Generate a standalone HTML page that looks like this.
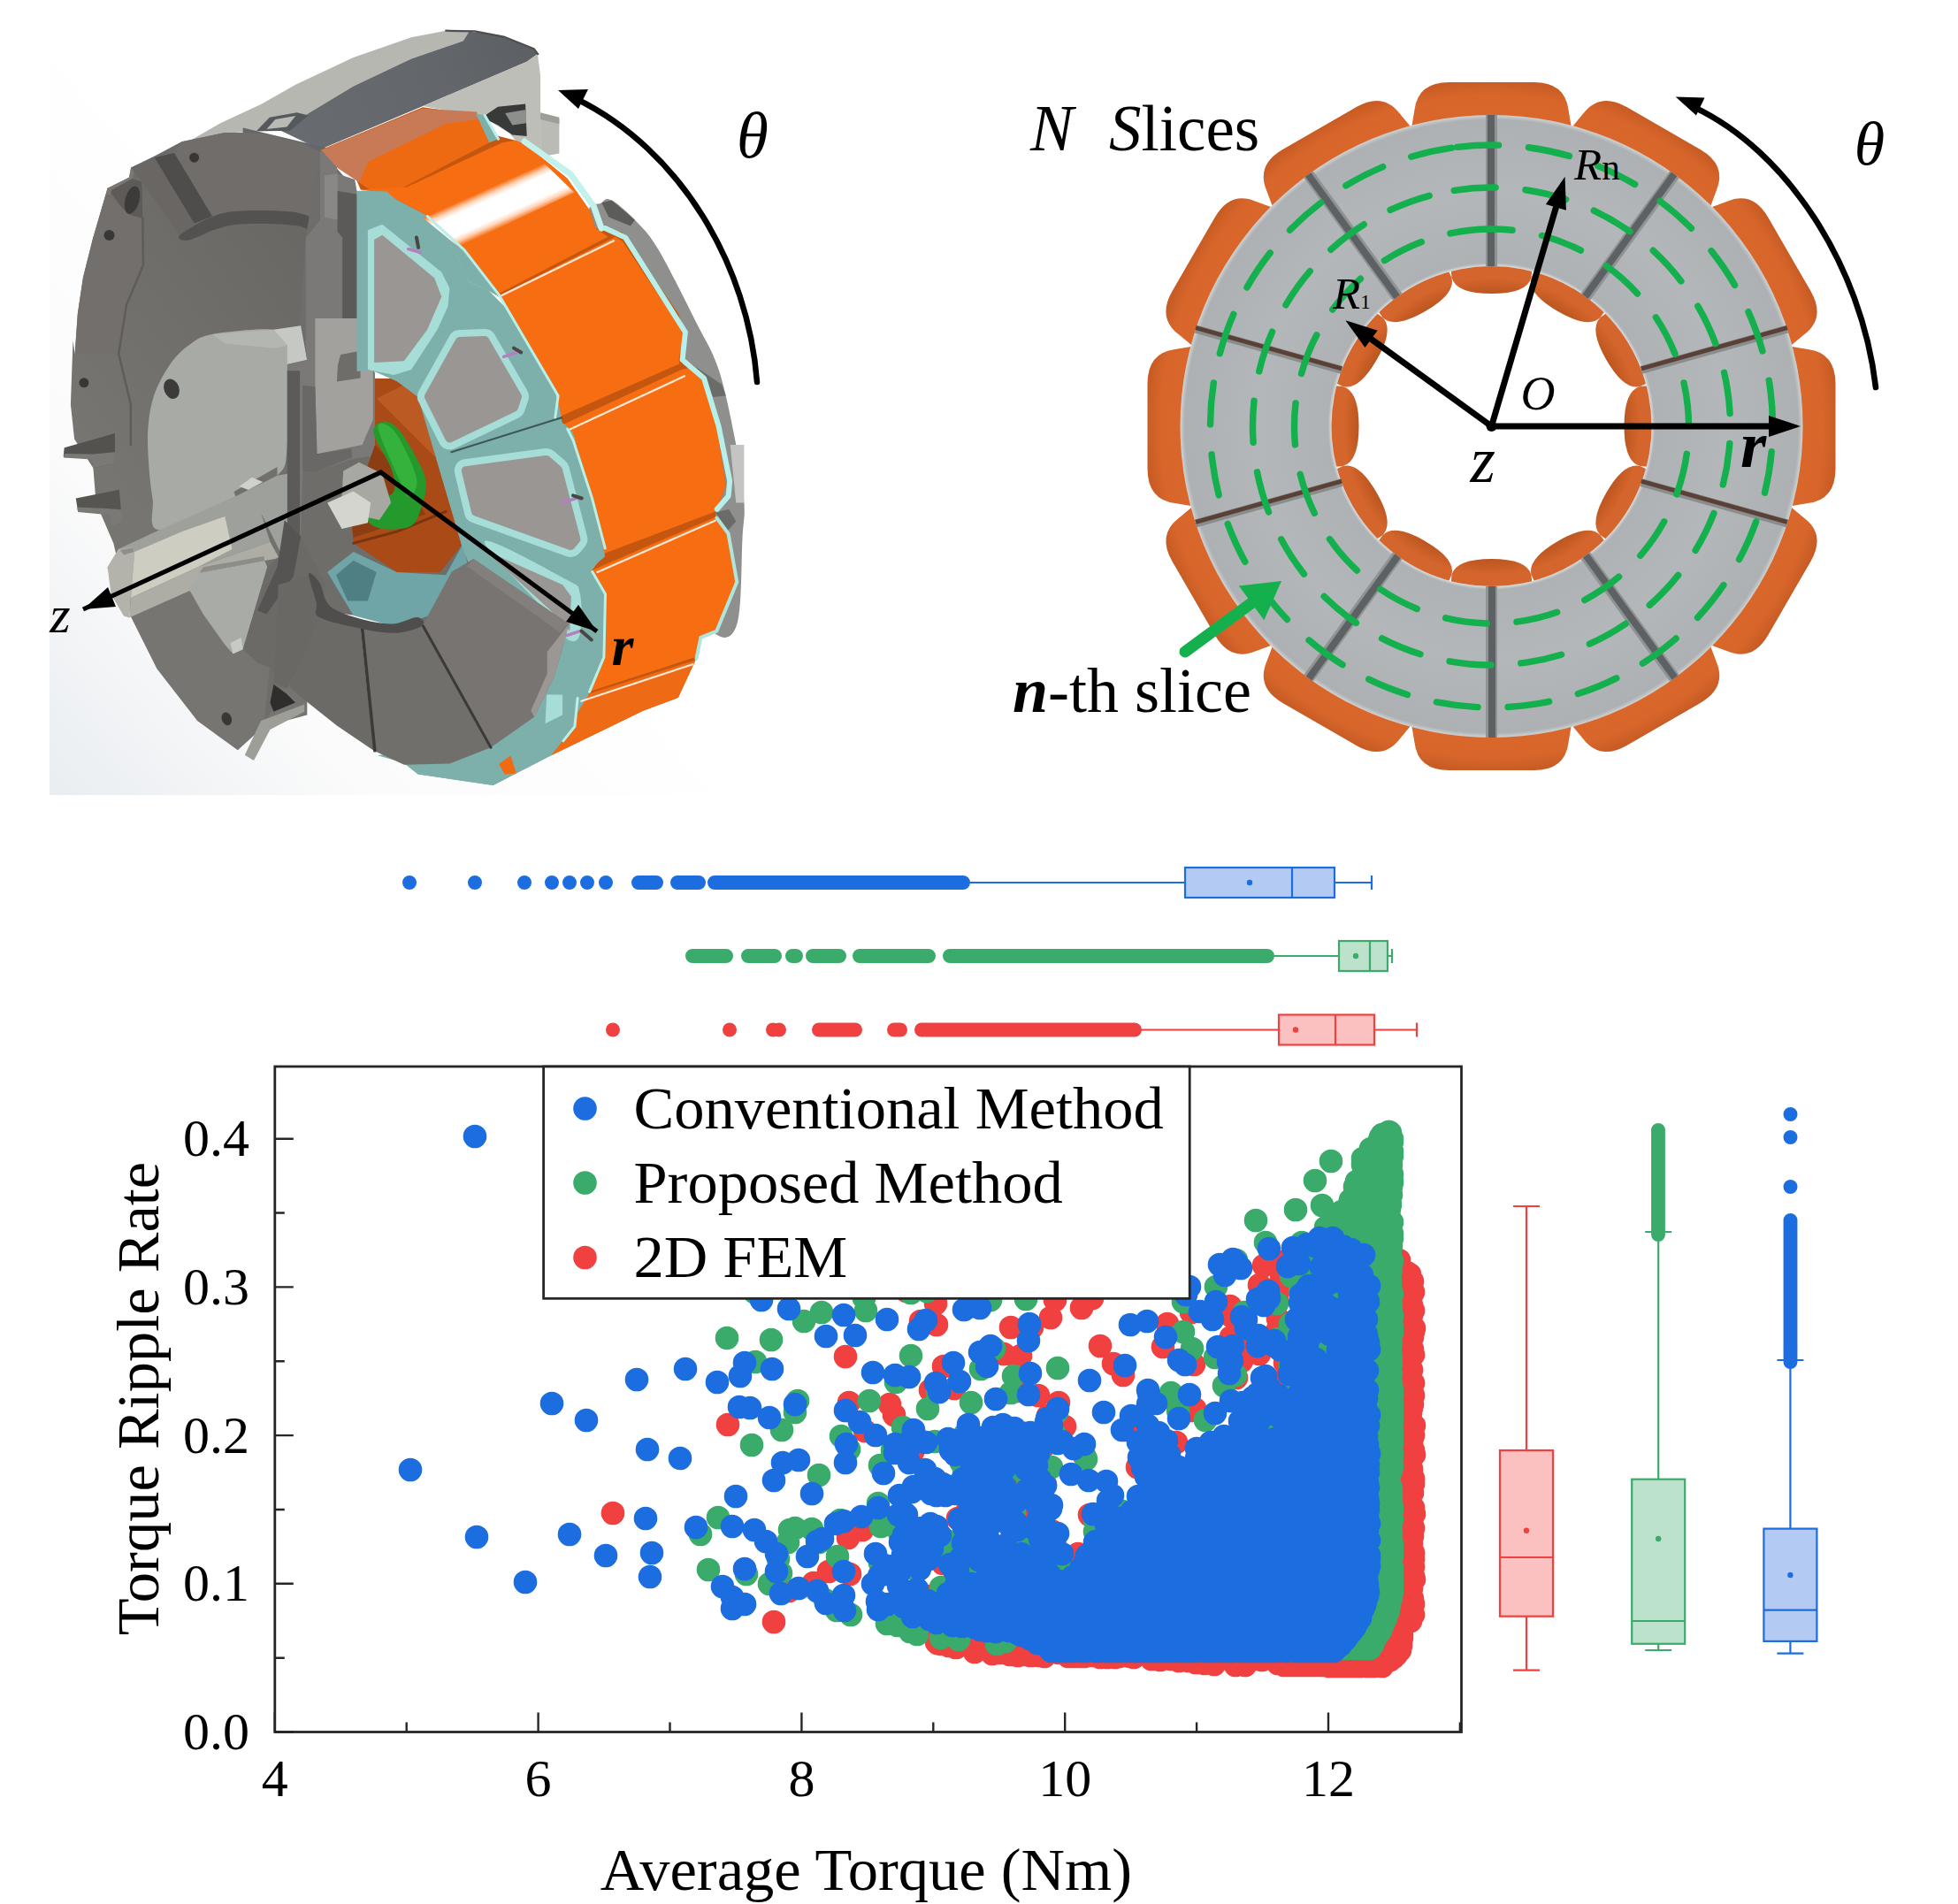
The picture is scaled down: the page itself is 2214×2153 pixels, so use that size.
<!DOCTYPE html>
<html><head><meta charset="utf-8"><title>Figure</title>
<style>
html,body{margin:0;padding:0;background:#fff;}
body{width:2214px;height:2153px;overflow:hidden;font-family:"Liberation Serif",serif;}
svg{display:block}
text{font-family:"Liberation Serif",serif;fill:#000}
.i{font-style:italic}
.bi{font-style:italic;font-weight:bold}
</style></head>
<body>
<svg width="2214" height="2153" viewBox="0 0 2214 2153">
<defs>
<linearGradient id="mbg" x1="56" y1="900" x2="500" y2="500" gradientUnits="userSpaceOnUse"><stop offset="0" stop-color="#e9edf1"/><stop offset="0.45" stop-color="#fbfbfb"/><stop offset="1" stop-color="#ffffff"/></linearGradient>
<linearGradient id="og" x1="0" y1="0" x2="1" y2="0"><stop offset="0" stop-color="#f4690e"/><stop offset="1" stop-color="#fb7a24"/></linearGradient>
<linearGradient id="hl2" gradientUnits="userSpaceOnUse" x1="548.5" y1="214.5" x2="567.6" y2="257"><stop offset="0" stop-color="#f76d12"/><stop offset="0.14" stop-color="#ffd2b5"/><stop offset="0.26" stop-color="#ffffff"/><stop offset="0.74" stop-color="#ffffff"/><stop offset="0.86" stop-color="#ffd2b5"/><stop offset="1" stop-color="#f76d12"/></linearGradient>
<linearGradient id="cas" gradientUnits="userSpaceOnUse" x1="330" y1="150" x2="600" y2="40"><stop offset="0" stop-color="#686c70"/><stop offset="0.6" stop-color="#63676b"/><stop offset="1" stop-color="#5c6064"/></linearGradient>
<linearGradient id="bp" gradientUnits="userSpaceOnUse" x1="90" y1="500" x2="360" y2="300"><stop offset="0" stop-color="#777572"/><stop offset="1" stop-color="#6a6865"/></linearGradient>
<linearGradient id="hub" gradientUnits="userSpaceOnUse" x1="170" y1="560" x2="340" y2="380"><stop offset="0" stop-color="#a9aba6"/><stop offset="1" stop-color="#bcbeb9"/></linearGradient>
</defs>
<g id="motor">
<rect x="56" y="30" width="800" height="869" fill="url(#mbg)"/>
<polygon points="213.3,159.9 249.2,139.3 295.0,118.1 334.2,95.8 399.6,65.1 465.0,42.2 504.2,34.7 530.4,35.7 523.8,46.2 465.0,66.4 399.6,97.5 350.6,126.9 317.9,148.1 268.8,149.8" fill="#b7b7b1" />
<polygon points="317.9,148.1 350.6,126.9 399.6,97.5 465.0,66.4 523.8,46.2 530.4,35.7 563.0,39.6 602.3,54.3 607.8,60.9 595.7,69.7 478.1,120.0 362.0,169.1" fill="url(#cas)" />
<polygon points="290.1,148.1 304.8,132.8 335.8,127.2 348.9,130.5 327.7,148.1" fill="#55595c" />
<polygon points="301.5,145.9 311.3,135.1 334.2,131.1 324.4,143.6" fill="#b9bab4" />
<polygon points="478.1,120.0 595.7,69.7 607.8,60.9 611.1,85.4 611.1,176.9 595.7,173.6 576.1,150.8 550.0,134.4 540.2,131.1" fill="#bebeb8" />
<polyline points="504.2,34.7 536.9,35.4 569.6,41.6 603.9,55.3 608.2,61.2" fill="none" stroke="#4e4f50" stroke-width="2.2" stroke-linecap="round" stroke-linejoin="round" />
<polygon points="545.1,132.8 563.0,120.7 594.1,117.4 595.7,154.0 579.4,152.4 563.0,141.6" fill="#383a3a" />
<polygon points="571.2,127.9 594.8,124.0 595.1,139.3 579.4,141.6" fill="#8d8f8b" />
<polygon points="611.1,129.5 632.4,134.4 632.4,173.6 611.1,177.6" fill="#bbbbb6" />
<polygon points="611.1,127.2 632.4,132.8 632.4,140.3 611.1,135.1" fill="#9d9d99" />
<polygon points="274.7,144.5 368.7,167.0 368.7,179.2 274.7,156.8" fill="#63676b" />
<polygon points="362.6,172.1 340.1,160.9 295.1,150.6 254.3,150.0 205.3,160.2 176.7,175.6 148.1,189.5 146.0,200.7 121.5,213.0 119.5,220.1 105.2,269.1 93.9,314.1 87.8,354.9 84.7,400.1 82.5,385.4 79.9,457.3 84.1,496.5 105.4,529.2 108.6,568.4 128.3,614.2 147.9,697.3 177.3,756.1 223.1,815.0 268.8,848.3 298.3,821.5 347.3,808.4 347.3,614.2 363.6,314.2" fill="url(#bp)" />
<polygon points="129.9,490.0 72.7,506.3 71.7,516.1 103.7,518.1 105.4,529.2 129.9,524.3" fill="#54524f" />
<polygon points="72.7,512.9 71.7,517.5 103.7,519.4 105.4,529.2 129.9,524.3 129.9,511.2 105.4,513.5" fill="#7b7976" />
<polygon points="134.8,553.7 85.8,563.5 88.1,578.3 123.4,581.5 125.6,594.6 138.1,591.3" fill="#575552" />
<polygon points="87.4,573.4 88.1,578.9 123.4,582.2 125.6,595.3 138.1,591.3 138.1,576.6 121.7,575.0" fill="#7b7976" />
<polygon points="119.5,220.1 105.2,269.1 93.9,314.1 87.8,354.9 84.7,400.1 134.2,400.1 143.0,344.7 162.0,299.8 161.3,246.7 146.0,242.6 137.8,234.4" fill="#726f6d" />
<polyline points="161.3,246.7 162.0,299.8 143.0,344.7 134.2,400.1 147.9,457.3 147.9,503.1" fill="none" stroke="#5f5c5a" stroke-width="2.5" stroke-linecap="round" stroke-linejoin="round" />
<polygon points="121.5,213.0 146.0,200.7 160.3,205.8 161.3,246.7 146.0,242.6 137.8,234.4" fill="#5d5a58" />
<ellipse cx="149.5" cy="226.2" rx="8" ry="16" fill="#3d3b3a" transform="rotate(15 149.5 226.2)"/>
<polygon points="119.5,220.1 121.5,213.0 146.0,200.7 148.1,189.5 152.1,190.5 150.1,201.7 126.6,214.4 124.0,221.1" fill="#7a7775" />
<polygon points="197.1,173.1 205.3,160.2 254.3,150.0 295.1,150.6 340.1,160.9 362.6,172.1 362.6,252.8 336.0,240.5 274.7,238.5 240.0,244.6" fill="#706d6b" />
<polygon points="174.6,178.2 197.1,173.1 240.0,244.6 219.6,252.8" fill="#4f4d4b" />
<polygon points="148.1,189.5 174.6,178.2 219.6,252.8 203.2,265.5 160.3,205.8" fill="#696664" />
<path d="M203.2 266.1C207.6 261.6 228.1 249.6 240.0 245.0C251.9 240.4 258.7 239.2 274.7 238.5C290.7 237.7 321.4 238.0 336.0 240.5C350.6 243.1 358.1 249.3 362.6 253.8C367.0 258.3 367.0 267.3 362.6 267.5C358.1 267.7 350.6 257.6 336.0 255.2C321.4 252.9 290.0 252.5 274.7 253.2C259.4 253.9 254.3 256.3 244.1 259.3C233.9 262.4 220.2 270.5 213.4 271.6C206.6 272.7 198.8 270.5 203.2 266.1Z" fill="#545250"  />
<circle cx="219.6" cy="178.2" r="5.5" fill="#393735"/>
<circle cx="123.5" cy="266.1" r="6" fill="#393735"/>
<circle cx="94.9" cy="432.8" r="5.5" fill="#393735"/>
<polygon points="362.0,169.1 403.5,216.1 424.1,427.9 465.0,427.9 530.4,503.1 530.4,646.9 523.8,641.7 478.1,707.8 366.9,690.8 350.6,697.3 321.1,772.5 298.3,821.5 327.7,529.2 345.7,269.1" fill="#6f6d6a" />
<path d="M240.0 378.0C256.0 375.0 295.3 370.6 309.4 372.7C323.6 374.8 322.2 368.9 324.8 390.6C327.3 412.4 326.6 478.5 324.8 503.0C322.9 527.5 323.6 527.9 313.5 537.7C303.5 547.6 286.6 552.0 264.5 562.2C242.4 572.5 196.1 598.7 180.7 599.0C165.4 599.4 174.7 576.9 172.6 564.3C170.5 551.7 168.9 537.1 168.1 523.4C167.2 509.8 166.4 495.5 167.5 482.6C168.6 469.6 170.4 457.7 174.6 445.8C178.9 433.9 186.5 420.3 193.0 411.1C199.5 401.9 205.6 396.2 213.4 390.6C221.3 385.1 224.0 381.0 240.0 378.0Z" fill="#a8aaa5"  />
<polygon points="309.4,372.7 340.1,368.2 347.2,407.0 324.8,412.1 324.8,390.6" fill="#c6c8c3" />
<polygon points="240.0,378.0 309.4,372.7 324.8,390.6 311.5,393.7 254.3,388.6" fill="#b4b6b1" />
<ellipse cx="194.0" cy="439.7" rx="8.5" ry="11.5" fill="#3c3b39" transform="rotate(-20 194.0 439.7)"/>
<polygon points="264.5,556.1 313.5,527.9 313.5,538.1 295.1,550.4 267.0,562.7" fill="#72706d" />
<polygon points="270.6,550.0 284.9,539.8 297.2,544.9 280.8,554.1" fill="#cfd1cc" />
<polygon points="345.7,269.1 362.0,248.8 362.0,169.1 380.0,176.3 381.6,196.5 401.2,203.1 403.5,216.1 403.5,420.1 423.9,421.3 423.9,515.3 397.3,519.3 356.4,533.6 342.1,533.6 339.1,640.1 324.8,640.1 324.8,412.1 347.2,407.0 345.7,395.9" fill="#7b7977" />
<polygon points="366.9,198.2 381.6,196.5 382.6,248.8 366.9,245.6" fill="#8a8886" />
<polygon points="381.6,216.1 403.5,219.4 403.5,420.1 387.2,420.1 387.2,268.4 381.6,261.9" fill="#5c5a58" />
<polygon points="324.8,419.2 339.1,419.2 339.1,640.1 324.8,640.1" fill="#5d5b59" />
<polygon points="356.4,360.0 421.8,360.0 421.8,474.4 409.6,503.0 358.5,513.2 356.4,437.6" fill="#a3a19e" />
<polygon points="385.0,400.9 407.5,396.8 407.5,427.4 380.9,431.5 382.0,413.1" fill="#6f6d6a" />
<polygon points="342.1,435.6 356.4,437.6 358.5,513.2 397.3,507.1 398.3,517.3 356.4,533.6 342.1,533.6" fill="#6a6866" />
<polygon points="180.7,599.0 264.5,562.2 313.5,537.7 324.8,535.7 324.8,640.1 295.1,580.0 305.4,612.7 223.6,641.3 148.1,676.0 133.8,620.9" fill="#9ea09b" />
<polygon points="152.1,623.9 207.3,600.4 254.3,584.1 262.5,620.9 223.6,641.3 148.1,676.0" fill="#cdcdc2" />
<polygon points="148.1,676.0 223.6,641.3 305.4,612.7 315.6,631.1 227.7,647.4 219.6,665.8 146.0,698.5" fill="#adada5" />
<polygon points="133.8,620.9 150.1,618.8 152.1,623.9 146.0,698.5 139.9,696.4 125.6,671.9 121.5,641.3" fill="#b3b3ab" />
<polygon points="135.8,621.9 150.1,619.2 151.5,623.9 139.9,627.4" fill="#8f8f8a" />
<polygon points="213.4,665.8 227.7,647.4 299.2,634.1 302.3,641.3 274.7,734.2 263.5,739.3 254.3,729.1 229.8,694.4" fill="#a9aba6" />
<polygon points="260.4,727.1 272.7,721.0 274.7,734.2 263.5,739.3" fill="#c7c9c4" />
<polygon points="225.7,647.4 299.2,634.1 298.2,629.0 229.8,641.3" fill="#8d8d88" />
<polygon points="302.3,641.3 340.1,606.6 368.7,661.7 352.3,702.6 331.9,763.9 291.1,749.6 274.7,734.2" fill="#6c6a67" />
<polygon points="321.7,588.2 340.1,606.6 331.9,651.5 301.3,694.4 291.1,690.3 313.5,641.3" fill="#565452" />
<polygon points="309.4,774.1 323.7,784.3 334.0,794.5 309.4,804.7 305.4,794.5" fill="#2f2e2c" />
<polygon points="276.8,853.7 295.1,814.9 344.2,796.5 344.2,804.7 305.4,825.1 287.0,860.1" fill="#9e9e99" />
<ellipse cx="256.3" cy="812.9" rx="5.5" ry="7.5" fill="#3a3836" transform="rotate(-20 256.3 812.9)"/>
<polygon points="424.1,427.9 465.0,427.9 523.8,503.1 523.8,614.2 497.7,646.9 448.6,646.9 399.6,614.2 396.3,581.5 424.1,503.1" fill="#a94a17" />
<polygon points="424.1,503.1 448.6,529.2 481.3,581.5 399.6,607.7 396.3,581.5" fill="#8d3d14" />
<polygon points="425.7,450.8 465.0,431.1 520.5,503.1 491.1,516.1 448.6,473.6" fill="#bb5a22" />
<polyline points="399.6,614.2 448.6,601.1 504.2,578.3" fill="none" stroke="#7a3510" stroke-width="3" stroke-linecap="round" stroke-linejoin="round" />
<polygon points="370.2,646.9 399.6,624.0 448.6,646.9 504.2,650.2 523.8,614.2 530.4,646.9 504.2,689.4 448.6,709.0 399.6,695.9" fill="#6fa5a6" />
<polygon points="380.0,650.2 399.6,633.8 425.7,646.9 415.9,679.6 393.1,679.6" fill="#4f7f82" />
<path d="M422.5 490.0C420.8 481.3 427.9 478.0 432.3 476.9C436.6 475.8 442.6 477.5 448.6 483.5C454.6 489.4 462.8 503.1 468.2 512.9C473.7 522.7 479.7 533.0 481.3 542.3C483.0 551.6 480.8 559.7 478.1 568.4C475.3 577.2 472.6 589.7 465.0 594.6C457.3 599.5 440.5 599.0 432.3 597.9C424.1 596.8 417.0 593.0 415.9 588.1C414.9 583.2 420.8 573.9 425.7 568.4C430.7 563.0 442.6 561.9 445.4 555.4C448.1 548.8 445.9 540.1 442.1 529.2C438.3 518.3 424.1 498.7 422.5 490.0Z" fill="#259a2c"  />
<path d="M427.4 483.5C426.6 475.0 438.0 479.6 443.7 485.1C449.4 490.5 457.1 506.1 461.7 516.1C466.3 526.2 471.5 537.9 471.5 545.6C471.5 553.2 465.5 563.5 461.7 561.9C457.9 560.3 454.4 548.8 448.6 535.8C442.9 522.7 428.2 491.9 427.4 483.5Z" fill="#35b23c"  />
<polygon points="388.2,532.5 406.1,522.7 432.3,535.8 442.1,568.4 429.0,588.1 399.6,581.5 386.5,561.9" fill="#a8a8a2" />
<polygon points="370.2,568.4 399.6,555.4 419.2,568.4 415.9,591.3 386.5,597.9" fill="#d5d5cf" />
<path d="M680.3 229.2C684.1 225.5 685.5 223.3 691.7 226.6C698.0 229.9 709.2 239.7 717.9 248.8C726.6 258.0 732.6 262.5 744.0 281.5C755.5 300.6 775.1 340.5 786.5 363.2C798.0 386.0 805.0 394.8 812.7 418.1C820.3 441.4 827.5 478.0 832.3 503.1C837.1 528.1 840.2 550.8 841.4 568.4C842.6 586.1 840.7 586.5 839.5 609.0C838.2 631.6 838.9 685.9 833.9 703.8C828.9 721.8 820.6 724.5 809.4 716.9C798.2 709.3 774.0 697.0 766.9 658.1C759.8 619.2 772.4 531.6 766.9 483.5C761.5 435.3 750.6 408.1 734.2 369.0C717.9 329.9 677.8 272.1 668.8 248.8C659.8 225.5 676.5 232.9 680.3 229.2Z" fill="#8f8f8d"  />
<polygon points="680.3,229.2 691.7,226.6 717.9,248.8 713.0,255.4 688.4,245.6" fill="#5c5c5a" />
<polygon points="806.1,449.1 820.8,447.5 815.9,434.4 786.5,414.8" fill="#6b6b69" />
<polygon points="809.4,579.6 824.1,575.7 832.3,589.4 820.8,602.5" fill="#6b6b69" />
<polygon points="825.7,503.1 841.4,503.1 841.4,568.4 832.3,568.4" fill="#c4c4c2" />
<polygon points="425.7,216.1 512.4,280.9 530.4,319.1 552.8,328.9 573.1,341.3 536.0,282.6 494.3,244.6 443.3,216.1" fill="#7dafab" />
<polygon points="362.0,169.7 401.2,199.1 407.8,214.5 433.5,217.8 484.5,244.6 526.2,282.6 564.9,332.3 631.9,447.6 628.6,471.9 642.5,485.0 649.2,493.3 668.8,581.5 683.5,625.7 668.8,645.0 683.5,671.1 681.9,743.1 665.6,782.3 652.5,788.8 649.2,821.5 636.1,837.9 564.2,864.0 570.8,870.6 623.1,854.2 727.7,803.5 766.9,788.8 786.5,746.3 791.4,720.2 809.4,713.6 832.3,658.1 822.5,602.5 809.4,584.5 809.4,578.3 820.8,548.8 806.1,457.3 786.5,414.8 769.5,403.4 776.7,382.1 766.9,354.3 703.2,262.6 673.3,258.1 667.2,238.5 641.4,201.7 594.8,163.7 582.6,158.8 551.6,150.8 536.9,129.5 478.1,121.3" fill="#c4560f" />
<polygon points="363.3,169.5 477.7,122.5 539.0,126.6 553.3,161.3 426.7,220.5 406.2,206.2 381.7,189.9" fill="#c87a56" />
<polygon points="406.2,206.2 416.4,182.7 504.3,139.8 542.1,134.7 553.3,161.3 451.2,214.4 426.7,220.5" fill="#ee6a12" />
<polygon points="538.0,128.6 548.2,130.6 563.5,157.2 553.3,161.3" fill="#7dafab" />
<polyline points="548.2,130.6 563.5,157.2" fill="none" stroke="#b9f0e8" stroke-width="3" stroke-linecap="round" stroke-linejoin="round" />
<polygon points="409.3,214.5 460.0,211.5 567.9,161.2 582.6,158.8 594.8,163.7 641.4,201.7 667.2,238.5 673.3,258.1 687.5,267.8 564.9,331.5 526.2,282.6 484.5,244.6 433.5,217.8" fill="#f76d12" />
<polygon points="478.4,246.4 615.7,185.1 649.4,217.6 518.8,279.5" fill="url(#hl2)" />
<polygon points="564.9,334.0 695.6,267.8 703.8,272.7 769.2,370.7 772.5,382.2 767.6,405.1 768.3,411.4 631.1,471.9 628.6,471.9 631.9,447.6" fill="#f76d12" />
<polygon points="636.1,480.2 770.2,418.1 786.5,414.8 806.1,457.3 820.8,548.8 809.4,578.3 683.5,625.7 668.8,581.5 649.2,493.3" fill="#f76d12" />
<polygon points="668.8,645.0 809.4,584.5 822.5,602.5 832.3,658.1 809.4,713.6 791.4,720.2 786.5,743.1 665.6,782.3 681.9,743.1 683.5,671.1" fill="#f76d12" />
<polygon points="652.5,788.8 786.5,746.3 766.9,788.8 727.7,803.5 623.1,854.2 570.8,870.6 564.2,864.0 636.1,837.9 649.2,821.5" fill="#ef6a14" />
<polygon points="403.5,216.1 437.2,216.8 512.4,280.9 530.4,319.1 552.8,328.9 570.8,346.9 623.1,449.1 633.5,467.8 636.1,480.2 649.2,493.3 668.8,581.5 683.5,625.7 668.8,645.0 683.5,671.1 681.9,743.1 665.6,782.3 623.1,769.2 538.1,658.1 521.7,615.6 472.7,449.1 448.6,431.1 419.2,418.1" fill="#7dafab" />
<polygon points="403.5,216.1 411.0,215.5 437.2,216.8 512.4,280.9 530.4,319.1 504.2,373.1 474.8,420.1 448.6,431.1 419.2,418.1 403.5,420.1" fill="#7dafab" />
<polygon points="415.9,260.3 432.3,253.7 499.3,307.7 512.4,333.8 494.4,373.1 465.0,418.1 445.4,424.0 415.9,418.1" fill="#a6ddd6" />
<polygon points="423.1,271.1 432.3,265.8 491.1,314.2 499.3,335.5 483.0,373.1 456.8,408.3 423.1,409.9" fill="#999694" />
<polygon points="512.4,280.9 530.4,319.1 552.8,328.9 570.8,346.9 626.9,437.2 635.0,471.9 510.4,510.7 471.6,451.5 474.8,447.5 448.6,431.1 474.8,420.1 504.2,373.1" fill="#7dafab" />
<polygon points="484.9,448.4 519.6,386.1 548.2,385.1 585.0,448.4 580.9,460.7 508.4,495.4" fill="#a6ddd6" stroke="#a6ddd6" stroke-width="26" stroke-linejoin="round" />
<polygon points="484.9,448.4 519.6,386.1 548.2,385.1 585.0,448.4 580.9,460.7 508.4,495.4" fill="#999694" stroke="#999694" stroke-width="10" stroke-linejoin="round" />
<polyline points="510.4,511.2 635.0,472.3" fill="none" stroke="#3f5553" stroke-width="2" stroke-linecap="round" stroke-linejoin="round" />
<polygon points="512.5,513.2 637.1,478.5 647.3,488.3 673.9,584.3 684.1,629.2 667.7,643.5 524.7,584.3 520.6,563.9" fill="#7dafab" />
<polygon points="526.8,532.2 617.7,519.9 630.9,531.2 651.4,609.8 645.3,617.0 538.0,578.6" fill="#a6ddd6" stroke="#a6ddd6" stroke-width="26" stroke-linejoin="round" />
<polygon points="526.8,532.2 617.7,519.9 630.9,531.2 651.4,609.8 645.3,617.0 538.0,578.6" fill="#999694" stroke="#999694" stroke-width="10" stroke-linejoin="round" />
<polygon points="521.7,615.6 547.9,599.2 649.2,644.3 668.8,645.0 683.5,671.1 681.9,743.1 665.6,783.9 649.2,782.3 623.1,769.2 538.1,658.1" fill="#7dafab" />
<path d="M547.9 612.3C550.6 605.2 621.4 645.0 639.4 654.8C657.4 664.6 653.0 660.8 655.8 671.1C658.5 681.5 657.9 708.2 655.8 716.9C653.6 725.6 648.1 726.7 642.7 723.5C637.2 720.2 638.9 715.8 623.1 697.3C607.3 678.8 545.2 619.4 547.9 612.3Z" fill="#a6ddd6"  />
<polygon points="547.9,622.1 636.1,661.3 645.9,674.4 644.3,713.6 623.1,690.8" fill="#999694" />
<polygon points="623.1,716.9 668.8,743.1 665.6,785.6 623.1,854.2 583.8,874.5 557.7,887.9 472.7,875.5 456.3,862.4 426.9,854.2 505.4,841.1 570.8,808.4" fill="#7dafab" />
<polygon points="623.1,769.2 665.6,785.6 652.5,788.8 649.2,821.5 623.1,854.2 583.8,874.5 561.0,849.3 596.9,821.5" fill="#7dafab" />
<polygon points="618.2,785.6 636.1,785.6 636.1,808.4 616.5,818.3" fill="#a6ddd6" />
<polygon points="456.3,862.4 561.0,849.3 583.8,874.5 557.7,887.9 472.7,875.5" fill="#7dafab" />
<polygon points="564.2,864.0 577.3,854.2 583.8,874.5 570.8,875.5" fill="#f06a12" />
<polygon points="324.5,779.0 363.7,703.0 356.4,649.0 314.7,661.3 309.8,771.6" fill="#6a6865" />
<polygon points="327.0,776.5 361.3,698.1 407.9,710.3 422.6,848.8 380.9,820.6 344.1,791.2" fill="#6c6a67" />
<polygon points="407.9,710.3 447.1,715.2 477.7,707.4 555.0,845.2 508.4,863.5 456.9,864.8 422.6,848.8" fill="#716f6c" />
<polygon points="477.7,707.4 510.8,646.6 535.4,631.9 643.2,705.4 635.9,733.6 626.1,766.7 604.0,810.8 555.0,845.2" fill="#777472" />
<polygon points="618.7,737.3 643.2,705.4 635.9,733.6 626.1,766.7 604.0,810.8 600.3,803.5 618.7,761.8" fill="#9a9795" />
<polygon points="535.4,631.9 643.2,705.4 633.4,715.2 528.0,640.5" fill="#827f7c" />
<polyline points="409.6,710.8 423.8,848.8" fill="none" stroke="#3b3a38" stroke-width="3.5" stroke-linecap="round" stroke-linejoin="round" />
<polyline points="478.5,707.9 555.0,845.2" fill="none" stroke="#3b3a38" stroke-width="3" stroke-linecap="round" stroke-linejoin="round" />
<path d="M349.0 649.0C348.4 652.7 355.6 672.7 357.6 680.9C359.7 689.1 352.9 693.1 361.3 698.1C369.7 703.0 393.6 707.9 407.9 710.8C422.2 713.8 435.4 716.3 447.1 715.7C458.7 715.1 473.7 710.3 477.7 707.4C481.8 704.4 477.1 698.4 471.6 698.1C466.1 697.7 454.9 705.0 444.6 705.4C434.4 705.8 422.2 703.8 410.3 700.5C398.5 697.2 381.7 692.8 373.5 685.8C365.4 678.9 365.4 665.0 361.3 658.8C357.2 652.7 349.6 645.4 349.0 649.0Z" fill="#504e4c"  />
<polyline points="461.7,281.5 474.8,285.4" fill="none" stroke="#b57fc0" stroke-width="3.5" stroke-linecap="round" stroke-linejoin="round" />
<polyline points="569.6,403.4 584.3,398.5" fill="none" stroke="#b57fc0" stroke-width="3.5" stroke-linecap="round" stroke-linejoin="round" />
<polyline points="635.0,568.4 651.3,563.5" fill="none" stroke="#b57fc0" stroke-width="3.5" stroke-linecap="round" stroke-linejoin="round" />
<polyline points="641.0,718.5 655.8,713.6" fill="none" stroke="#b57fc0" stroke-width="3.5" stroke-linecap="round" stroke-linejoin="round" />
<polyline points="470.9,268.4 473.1,279.9" fill="none" stroke="#4a4644" stroke-width="4" stroke-linecap="round" stroke-linejoin="round" />
<polyline points="581.0,393.6 589.2,398.5" fill="none" stroke="#4a4644" stroke-width="4" stroke-linecap="round" stroke-linejoin="round" />
<polyline points="648.0,560.3 657.8,563.5" fill="none" stroke="#4a4644" stroke-width="4" stroke-linecap="round" stroke-linejoin="round" />
<polyline points="657.4,713.6 668.8,723.5" fill="none" stroke="#4a4644" stroke-width="4" stroke-linecap="round" stroke-linejoin="round" />
<polyline points="567.4,334.0 694.0,272.2" fill="none" stroke="#ffe9d8" stroke-width="2.2" stroke-linecap="round" stroke-linejoin="round" />
<polyline points="644.9,485.3 774.0,425.3" fill="none" stroke="#ffe9d8" stroke-width="2.2" stroke-linecap="round" stroke-linejoin="round" />
<polyline points="675.4,646.9 808.7,588.7" fill="none" stroke="#ffe9d8" stroke-width="2.2" stroke-linecap="round" stroke-linejoin="round" />
<polyline points="657.4,792.8 783.2,751.2" fill="none" stroke="#ffe9d8" stroke-width="2.2" stroke-linecap="round" stroke-linejoin="round" />
<polyline points="483.3,244.6 525.0,282.6 564.1,333.2 631.1,447.6 627.8,471.9" fill="none" stroke="#b9f0e8" stroke-width="3" stroke-linecap="round" stroke-linejoin="round" />
<polyline points="641.7,485.0 648.2,498.1 669.5,563.4 684.2,620.0" fill="none" stroke="#b9f0e8" stroke-width="3" stroke-linecap="round" stroke-linejoin="round" />
<polyline points="669.8,646.6 684.5,671.8 682.9,743.1 666.5,782.3" fill="none" stroke="#b9f0e8" stroke-width="3" stroke-linecap="round" stroke-linejoin="round" />
<polyline points="653.1,789.5 649.9,821.5 636.8,837.9" fill="none" stroke="#b9f0e8" stroke-width="3" stroke-linecap="round" stroke-linejoin="round" />
<polyline points="593.0,160.0 645.1,196.8 671.4,233.5 680.0,258.1" fill="none" stroke="#c4f1ec" stroke-width="7" stroke-linecap="round" stroke-linejoin="round" />
<polyline points="684.2,258.0 707.1,268.6 774.9,375.6 771.6,406.7" fill="none" stroke="#b8efe9" stroke-width="6" stroke-linecap="round" stroke-linejoin="round" />
<polyline points="774.0,409.0 796.1,427.8 812.5,481.7 825.2,543.8 823.6,561.0 810.8,575.7" fill="none" stroke="#b8efe9" stroke-width="6" stroke-linecap="round" stroke-linejoin="round" />
<polyline points="810.4,585.5 823.5,603.2 833.3,658.1 810.4,713.6 792.4,720.8 787.5,744.7" fill="none" stroke="#aee6de" stroke-width="4" stroke-linecap="round" stroke-linejoin="round" />
<path d="M94 689L430.6 534.1L675 714" fill="none" stroke="#000" stroke-width="5.2" stroke-linejoin="miter"/>
<polygon points="94,689 122,664 131,686" fill="#000"/>
<polygon points="675,714 640,703 654,684" fill="#000"/>
<path d="M856 432C846 300 770 170 652 112" fill="none" stroke="#000" stroke-width="6.5" stroke-linecap="round"/>
<polygon points="631,102 665,101 654,123" fill="#000"/>
<text x="851" y="178" font-size="73" class="i" text-anchor="middle">θ</text>
<text x="68" y="715" font-size="60" class="i" text-anchor="middle">z</text>
<text x="704" y="752" font-size="64" class="bi" text-anchor="middle">r</text>
</g>
<defs>
<radialGradient id="rg2" cx="0" cy="0" r="352" gradientUnits="userSpaceOnUse"><stop offset="0.512" stop-color="#e4e6e6"/><stop offset="0.525" stop-color="#aeb2b4"/><stop offset="0.75" stop-color="#b3b7b9"/><stop offset="0.985" stop-color="#adb1b3"/><stop offset="1" stop-color="#d0d2d2"/></radialGradient>
<radialGradient id="lg" cx="0" cy="0" r="390" gradientUnits="userSpaceOnUse"><stop offset="0.38" stop-color="#b9541e"/><stop offset="0.43" stop-color="#d4652c"/><stop offset="0.9" stop-color="#d9672c"/><stop offset="0.96" stop-color="#d8662b"/><stop offset="1" stop-color="#c85c24"/></radialGradient>
</defs>
<g id="ring" transform="translate(1686.5,482)">
<g transform="rotate(0)"><path d="M-90 -340L-87 -358Q-83 -389 -48 -389L48 -389Q83 -389 87 -358L90 -340Z" fill="url(#lg)"/><path d="M-47 -190L-45 -168Q-40 -150 0 -150Q40 -150 45 -168L47 -190Z" fill="url(#lg)"/></g>
<g transform="rotate(30)"><path d="M-90 -340L-87 -358Q-83 -389 -48 -389L48 -389Q83 -389 87 -358L90 -340Z" fill="url(#lg)"/><path d="M-47 -190L-45 -168Q-40 -150 0 -150Q40 -150 45 -168L47 -190Z" fill="url(#lg)"/></g>
<g transform="rotate(60)"><path d="M-90 -340L-87 -358Q-83 -389 -48 -389L48 -389Q83 -389 87 -358L90 -340Z" fill="url(#lg)"/><path d="M-47 -190L-45 -168Q-40 -150 0 -150Q40 -150 45 -168L47 -190Z" fill="url(#lg)"/></g>
<g transform="rotate(90)"><path d="M-90 -340L-87 -358Q-83 -389 -48 -389L48 -389Q83 -389 87 -358L90 -340Z" fill="url(#lg)"/><path d="M-47 -190L-45 -168Q-40 -150 0 -150Q40 -150 45 -168L47 -190Z" fill="url(#lg)"/></g>
<g transform="rotate(120)"><path d="M-90 -340L-87 -358Q-83 -389 -48 -389L48 -389Q83 -389 87 -358L90 -340Z" fill="url(#lg)"/><path d="M-47 -190L-45 -168Q-40 -150 0 -150Q40 -150 45 -168L47 -190Z" fill="url(#lg)"/></g>
<g transform="rotate(150)"><path d="M-90 -340L-87 -358Q-83 -389 -48 -389L48 -389Q83 -389 87 -358L90 -340Z" fill="url(#lg)"/><path d="M-47 -190L-45 -168Q-40 -150 0 -150Q40 -150 45 -168L47 -190Z" fill="url(#lg)"/></g>
<g transform="rotate(180)"><path d="M-90 -340L-87 -358Q-83 -389 -48 -389L48 -389Q83 -389 87 -358L90 -340Z" fill="url(#lg)"/><path d="M-47 -190L-45 -168Q-40 -150 0 -150Q40 -150 45 -168L47 -190Z" fill="url(#lg)"/></g>
<g transform="rotate(210)"><path d="M-90 -340L-87 -358Q-83 -389 -48 -389L48 -389Q83 -389 87 -358L90 -340Z" fill="url(#lg)"/><path d="M-47 -190L-45 -168Q-40 -150 0 -150Q40 -150 45 -168L47 -190Z" fill="url(#lg)"/></g>
<g transform="rotate(240)"><path d="M-90 -340L-87 -358Q-83 -389 -48 -389L48 -389Q83 -389 87 -358L90 -340Z" fill="url(#lg)"/><path d="M-47 -190L-45 -168Q-40 -150 0 -150Q40 -150 45 -168L47 -190Z" fill="url(#lg)"/></g>
<g transform="rotate(270)"><path d="M-90 -340L-87 -358Q-83 -389 -48 -389L48 -389Q83 -389 87 -358L90 -340Z" fill="url(#lg)"/><path d="M-47 -190L-45 -168Q-40 -150 0 -150Q40 -150 45 -168L47 -190Z" fill="url(#lg)"/></g>
<g transform="rotate(300)"><path d="M-90 -340L-87 -358Q-83 -389 -48 -389L48 -389Q83 -389 87 -358L90 -340Z" fill="url(#lg)"/><path d="M-47 -190L-45 -168Q-40 -150 0 -150Q40 -150 45 -168L47 -190Z" fill="url(#lg)"/></g>
<g transform="rotate(330)"><path d="M-90 -340L-87 -358Q-83 -389 -48 -389L48 -389Q83 -389 87 -358L90 -340Z" fill="url(#lg)"/><path d="M-47 -190L-45 -168Q-40 -150 0 -150Q40 -150 45 -168L47 -190Z" fill="url(#lg)"/></g>
<path d="M352 0A352 352 0 1 0 -352 0A352 352 0 1 0 352 0ZM181 0A181 181 0 1 1 -181 0A181 181 0 1 1 181 0Z" fill="url(#rg2)" fill-rule="evenodd"/>
<g transform="rotate(0)"><rect x="-6.5" y="-352" width="13" height="171" fill="#909394"/><rect x="-4.5" y="-352" width="8" height="171" fill="#5e6163"/></g>
<g transform="rotate(-36)"><rect x="-6.5" y="-352" width="13" height="171" fill="#909394"/><rect x="-4.5" y="-352" width="8" height="171" fill="#5e6163"/></g>
<line x1="-169.4" y1="-63.7" x2="-334.4" y2="-109.9" stroke="#8a8d8e" stroke-width="9"/>
<line x1="-169.4" y1="-63.7" x2="-334.4" y2="-109.9" stroke="#5a4138" stroke-width="5" transform="translate(0,-1.5)"/>
<line x1="-169.4" y1="63.7" x2="-334.4" y2="109.9" stroke="#8a8d8e" stroke-width="9"/>
<line x1="-169.4" y1="63.7" x2="-334.4" y2="109.9" stroke="#5a4138" stroke-width="5" transform="translate(0,-1.5)"/>
<g transform="rotate(-144)"><rect x="-6.5" y="-352" width="13" height="171" fill="#909394"/><rect x="-4.5" y="-352" width="8" height="171" fill="#5e6163"/></g>
<g transform="rotate(-180)"><rect x="-6.5" y="-352" width="13" height="171" fill="#909394"/><rect x="-4.5" y="-352" width="8" height="171" fill="#5e6163"/></g>
<g transform="rotate(-216)"><rect x="-6.5" y="-352" width="13" height="171" fill="#909394"/><rect x="-4.5" y="-352" width="8" height="171" fill="#5e6163"/></g>
<line x1="169.4" y1="63.7" x2="334.4" y2="109.9" stroke="#8a8d8e" stroke-width="9"/>
<line x1="169.4" y1="63.7" x2="334.4" y2="109.9" stroke="#5a4138" stroke-width="5" transform="translate(0,-1.5)"/>
<line x1="169.4" y1="-63.7" x2="334.4" y2="-109.9" stroke="#8a8d8e" stroke-width="9"/>
<line x1="169.4" y1="-63.7" x2="334.4" y2="-109.9" stroke="#5a4138" stroke-width="5" transform="translate(0,-1.5)"/>
<g transform="rotate(-324)"><rect x="-6.5" y="-352" width="13" height="171" fill="#909394"/><rect x="-4.5" y="-352" width="8" height="171" fill="#5e6163"/></g>
<circle r="223" fill="none" stroke="#14b04e" stroke-width="7.4" stroke-dasharray="47 34" stroke-linecap="round" transform="rotate(-96)"/>
<circle r="270" fill="none" stroke="#14b04e" stroke-width="7.4" stroke-dasharray="47 34" stroke-linecap="round" transform="rotate(-99)"/>
<circle r="318" fill="none" stroke="#14b04e" stroke-width="7.4" stroke-dasharray="47 34" stroke-linecap="round" transform="rotate(-97)"/>
</g>
<line x1="1686.5" y1="482.0" x2="2004.0" y2="482.0" stroke="#000" stroke-width="7" stroke-linecap="butt"/><polygon points="2036.0,482.0 2000.0,494.0 2000.0,470.0" fill="#000"/>
<line x1="1686.5" y1="482.0" x2="1760.6" y2="230.5" stroke="#000" stroke-width="7" stroke-linecap="butt"/><polygon points="1769.6,199.8 1770.9,237.7 1747.9,230.9" fill="#000"/>
<line x1="1686.5" y1="482.0" x2="1547.3" y2="381.1" stroke="#000" stroke-width="7" stroke-linecap="butt"/><polygon points="1521.4,362.3 1557.6,373.7 1543.5,393.1" fill="#000"/>
<circle cx="1686.5" cy="482" r="6" fill="#000"/>
<line x1="1340.0" y1="737.0" x2="1418.4" y2="679.5" stroke="#14b04e" stroke-width="13" stroke-linecap="round"/><polygon points="1449.0,657.0 1429.3,701.2 1400.9,662.5" fill="#14b04e"/>
<path d="M2121 438C2105 300 2020 170 1915 121" fill="none" stroke="#000" stroke-width="6.6" stroke-linecap="round"/>
<polygon points="1894.7,109.5 1927.5,110.5 1918,130.5" fill="#000"/>
<text x="1165" y="170" font-size="73" class="i">N</text>
<text x="1254" y="170" font-size="73"><tspan class="i">S</tspan>lices</text>
<text x="1145" y="805" font-size="72"><tspan class="bi">n</tspan>-th slice</text>
<text x="2114" y="186" font-size="70" class="i" text-anchor="middle">θ</text>
<text x="1739" y="462.5" font-size="54" class="i" text-anchor="middle">O</text>
<text x="1676.8" y="544.6" font-size="73" class="i" text-anchor="middle">z</text>
<text x="1982.6" y="527.8" font-size="75" class="bi" text-anchor="middle">r</text>
<text x="1780" y="203" font-size="51"><tspan class="i">R</tspan><tspan font-size="41">n</tspan></text>
<text x="1507" y="348.5" font-size="51"><tspan class="i">R</tspan><tspan font-size="23">1</tspan></text>
<g id="chart">
<path d="M1413 1822h0M1469 1870h0M1163 1857h0M1542 1412h0M1593 1499h0M1455 1767h0M1475 1568h0M1591 1583h0M1550 1586h0M1571 1512h0M1597 1626h0M1527 1740h0M1457 1620h0M1448 1661h0M1516 1868h0M1583 1478h0M1529 1820h0M1277 1873h0M1584 1752h0M1480 1607h0M1230 1834h0M1512 1763h0M1539 1809h0M1495 1877h0M1593 1810h0M1572 1718h0M1562 1581h0M1560 1828h0M1292 1806h0M1474 1505h0M1597 1526h0M1596 1775h0M1503 1754h0M1270 1872h0M1277 1772h0M1524 1727h0M1596 1796h0M1545 1531h0M1465 1623h0M1496 1882h0M1540 1662h0M1238 1861h0M1334 1865h0M1575 1621h0M1464 1630h0M1312 1709h0M1451 1561h0M1261 1763h0M1575 1661h0M1494 1590h0M1482 1761h0M1477 1598h0M1539 1501h0M1367 1664h0M1279 1858h0M1270 1555h0M1464 1716h0M1555 1874h0M1472 1847h0M1558 1807h0M1517 1680h0M1595 1786h0M1524 1876h0M1510 1705h0M1510 1582h0M1517 1638h0M1447 1852h0M1512 1875h0M1449 1687h0M1588 1625h0M1492 1828h0M1058 1844h0M1468 1873h0M1480 1550h0M1597 1463h0M1594 1441h0M1595 1529h0M1363 1872h0M1575 1582h0M1559 1512h0M1587 1579h0M1427 1733h0M1525 1873h0M1111 1822h0M1598 1461h0M1453 1541h0M1564 1603h0M1213 1783h0M1199 1783h0M1534 1655h0M1561 1848h0M1460 1864h0M1472 1838h0M1536 1431h0M1564 1467h0M1575 1874h0M1489 1883h0M1342 1822h0M1534 1876h0M1596 1685h0M1594 1697h0M1286 1708h0M1489 1699h0M1480 1825h0M1145 1800h0M1539 1424h0M1519 1883h0M1462 1783h0M1583 1745h0M1597 1814h0M1513 1813h0M1529 1653h0M1591 1816h0M1525 1829h0M1595 1617h0M1416 1863h0M1515 1562h0M1587 1806h0M1518 1553h0M1572 1834h0M1535 1874h0M1354 1712h0M1311 1859h0M1142 1823h0M1515 1416h0M1524 1647h0M1079 1570h0M1541 1581h0M1561 1709h0M1477 1816h0M1540 1858h0M1521 1507h0M1445 1811h0M1345 1780h0M1553 1870h0M1485 1745h0M1213 1873h0M1510 1458h0M1293 1793h0M1244 1874h0M1262 1846h0M1464 1710h0M1519 1878h0M1479 1883h0M1492 1790h0M1549 1762h0M1361 1865h0M1492 1796h0M1418 1876h0M1570 1813h0M1362 1881h0M1511 1648h0M1372 1880h0M1513 1822h0M1505 1700h0M1540 1789h0M1458 1668h0M1560 1447h0M1518 1679h0M1579 1706h0M1293 1870h0M1457 1663h0M1594 1626h0M1579 1709h0M1478 1867h0M1567 1722h0M1575 1867h0M1531 1764h0M1440 1780h0M1497 1606h0M1488 1873h0M1591 1597h0M1481 1876h0M1483 1783h0M1598 1506h0M1498 1882h0M1521 1690h0M1461 1749h0M1584 1538h0M1140 1810h0M1140 1854h0M1241 1749h0M1476 1783h0M1204 1613h0M1504 1826h0M1055 1843h0M1458 1733h0M1179 1621h0M1518 1533h0M1478 1716h0M1504 1878h0M1578 1431h0M1542 1499h0M1219 1787h0M1516 1645h0M1457 1583h0M1557 1848h0M1163 1842h0M1488 1614h0M1467 1629h0M1596 1487h0M1517 1554h0M1592 1792h0M1194 1866h0M1470 1675h0M1487 1757h0M1506 1795h0M1456 1637h0M1599 1502h0M1489 1787h0M1460 1633h0M1576 1455h0M1441 1738h0M1525 1852h0M1550 1869h0M1465 1852h0M1557 1754h0M1562 1709h0M1595 1577h0M1560 1719h0M1151 1872h0M1249 1762h0M1483 1875h0M1530 1402h0M1196 1848h0M1503 1460h0M1526 1685h0M1509 1884h0M1480 1821h0M1511 1770h0M1393 1792h0M1186 1839h0M1535 1623h0M1242 1861h0M1533 1815h0M1560 1792h0M1517 1669h0M1581 1776h0M1590 1629h0M1390 1851h0M1546 1867h0M1471 1499h0M1567 1848h0M1190 1807h0M1462 1726h0M1467 1683h0M1511 1863h0M1225 1796h0M1597 1510h0M1501 1598h0M1517 1674h0M1424 1531h0M1529 1734h0M1592 1778h0M1545 1755h0M1555 1811h0M1460 1834h0M1330 1631h0M1378 1820h0M1217 1870h0M1503 1857h0M1593 1661h0M1568 1838h0M1460 1711h0M1586 1819h0M1159 1805h0M1447 1709h0M1065 1844h0M1418 1759h0M1325 1684h0M1156 1871h0M1503 1678h0M1462 1782h0M1517 1565h0M1564 1859h0M1519 1548h0M1364 1813h0M1508 1685h0M1520 1579h0M1397 1881h0M1562 1642h0M1546 1878h0M1510 1865h0M1468 1491h0M1354 1860h0M1156 1815h0M1593 1562h0M1557 1425h0M1580 1788h0M1550 1872h0M1152 1798h0M1496 1722h0M1598 1672h0M1529 1409h0M1560 1753h0M1596 1461h0M1454 1811h0M1489 1794h0M1551 1486h0M1570 1411h0M1574 1583h0M1494 1878h0M1473 1638h0M1479 1759h0M1583 1866h0M1552 1455h0M1530 1879h0M1524 1884h0M1579 1673h0M1573 1481h0M1268 1799h0M1458 1707h0M1511 1555h0M1480 1786h0M1161 1836h0M1349 1829h0M1591 1825h0M1587 1440h0M1538 1757h0M1564 1840h0M1457 1792h0M1452 1744h0M1594 1654h0M1490 1839h0M1364 1688h0M1508 1531h0M1373 1641h0M1524 1873h0M1503 1764h0M1109 1802h0M1561 1760h0M1462 1862h0M1573 1493h0M1592 1749h0M1493 1860h0M1471 1650h0M1510 1731h0M1498 1824h0M1495 1829h0M1501 1656h0M1576 1439h0M1202 1824h0M1143 1861h0M1529 1695h0M1538 1823h0M1563 1884h0M1458 1846h0M1465 1656h0M1564 1479h0M1595 1783h0M1595 1759h0M1598 1772h0M1486 1542h0M1559 1712h0M1590 1696h0M1593 1462h0M1514 1837h0M1363 1874h0M1540 1883h0M1566 1673h0M1596 1825h0M1287 1773h0M1533 1584h0M1548 1840h0M1480 1493h0M1198 1838h0M1543 1855h0M1542 1666h0M1597 1733h0M1556 1749h0M1200 1866h0M1569 1509h0M1544 1621h0M1566 1528h0M1464 1793h0M1221 1774h0M1575 1724h0M1324 1876h0M1558 1858h0M1463 1829h0M1544 1607h0M1539 1879h0M1306 1831h0M1332 1845h0M1174 1810h0M1527 1841h0M1487 1748h0M1352 1784h0M1575 1539h0M1525 1556h0M1536 1814h0M1243 1764h0M1500 1608h0M1506 1817h0M1508 1693h0M1171 1824h0M1587 1822h0M1595 1515h0M1586 1762h0M1511 1849h0M1524 1449h0M1528 1849h0M1573 1689h0M1530 1464h0M1591 1834h0M1464 1642h0M1537 1882h0M1494 1874h0M1469 1644h0M1408 1882h0M1522 1882h0M1301 1800h0M1183 1841h0M1531 1812h0M1526 1649h0M1512 1821h0M1208 1872h0M1495 1815h0M1136 1856h0M1446 1865h0M1591 1774h0M1489 1871h0M1584 1583h0M1511 1879h0M1313 1862h0M1443 1704h0M1515 1715h0M1340 1860h0M1481 1859h0M1325 1875h0M1514 1827h0M1538 1681h0M1223 1479h0M1593 1682h0M1531 1547h0M1508 1866h0M1456 1880h0M1530 1619h0M1412 1682h0M1553 1650h0M1480 1548h0M1530 1764h0M1534 1610h0M1532 1859h0M1536 1868h0M1492 1516h0M1457 1882h0M1473 1570h0M1309 1865h0M1170 1836h0M1136 1845h0M1533 1698h0M1599 1712h0M1132 1825h0M1487 1721h0M1493 1689h0M1502 1835h0M1517 1614h0M1546 1541h0M1557 1854h0M1588 1765h0M1554 1680h0M1196 1810h0M1550 1581h0M1396 1795h0M1453 1434h0M1520 1834h0M1550 1622h0M1520 1590h0M1591 1552h0M1569 1441h0M1266 1873h0M1579 1858h0M1467 1863h0M1369 1839h0M1510 1845h0M1585 1798h0M1395 1770h0M1506 1494h0M1271 1814h0M1250 1801h0M1446 1427h0M1473 1804h0M1456 1876h0M1507 1639h0M1484 1883h0M1491 1819h0M1551 1732h0M1274 1842h0M1543 1473h0M1225 1864h0M1398 1873h0M1596 1497h0M1583 1535h0M1554 1703h0M1528 1704h0M1528 1629h0M1507 1849h0M1429 1774h0M1458 1714h0M1582 1425h0M1472 1728h0M1584 1500h0M1530 1884h0M1516 1571h0M1454 1882h0M1567 1867h0M1458 1767h0M1456 1883h0M1366 1671h0M1376 1775h0M1231 1792h0M1556 1866h0M1537 1417h0M1122 1870h0M1388 1756h0M1470 1702h0M1470 1880h0M1452 1883h0M1513 1714h0M1438 1751h0M1589 1662h0M1530 1872h0M1408 1883h0M1403 1713h0M1593 1815h0M1252 1832h0M1297 1724h0M1504 1836h0M1532 1435h0M1470 1782h0M1529 1878h0M1475 1713h0M1135 1842h0M1266 1845h0M1527 1870h0M1467 1584h0M1539 1622h0M1555 1872h0M1578 1820h0M1460 1819h0M1488 1678h0M1552 1491h0M1164 1817h0M1504 1553h0M1562 1874h0M1553 1883h0M1567 1527h0M1517 1878h0M1539 1575h0M1235 1862h0M1515 1819h0M1508 1770h0M1128 1842h0M1514 1769h0M1584 1774h0M1569 1519h0M1501 1877h0M1533 1684h0M1313 1792h0M1536 1718h0M1582 1695h0M1170 1868h0M1146 1837h0M1182 1679h0M1583 1589h0M1589 1758h0M1589 1710h0M1507 1605h0M1502 1839h0M1554 1867h0M1553 1884h0M1517 1455h0M1589 1771h0M1573 1844h0M1482 1626h0M1131 1869h0M1225 1832h0M1515 1818h0M1489 1498h0M1577 1749h0M1310 1788h0M1135 1834h0M1453 1515h0M1555 1495h0M1470 1811h0M1374 1685h0M1482 1703h0M1471 1674h0M1448 1878h0M1537 1506h0M1212 1805h0M1555 1734h0M1546 1884h0M1517 1839h0M1453 1883h0M1352 1880h0M1460 1720h0M1320 1497h0M1498 1766h0M1119 1842h0M1471 1496h0M1543 1754h0M1485 1878h0M1362 1739h0M1531 1551h0M1326 1852h0M1560 1407h0M1552 1618h0M1553 1440h0M1552 1686h0M1506 1716h0M1570 1869h0M1481 1573h0M1458 1881h0M1153 1855h0M1520 1533h0M1571 1701h0M1549 1850h0M1422 1725h0M1564 1878h0M1260 1872h0M1456 1803h0M1458 1663h0M1597 1808h0M1567 1702h0M1339 1737h0M1596 1765h0M1347 1484h0M1541 1874h0M1523 1434h0M1522 1782h0M1572 1474h0M1494 1561h0M1538 1884h0M1489 1818h0M1179 1857h0M1566 1551h0M1525 1622h0M1579 1772h0M1166 1872h0M1456 1541h0M1485 1674h0M1511 1608h0M1340 1710h0M1561 1515h0M1513 1865h0M1547 1697h0M1485 1460h0M1472 1779h0M1534 1769h0M1320 1765h0M1587 1734h0M1512 1422h0M1563 1542h0M1541 1793h0M1511 1871h0M1486 1838h0M1512 1771h0M1581 1725h0M1542 1874h0M1569 1457h0M1373 1850h0M1471 1680h0M1533 1834h0M1524 1722h0M1539 1553h0M1530 1841h0M1522 1809h0M1590 1791h0M1487 1710h0M1400 1819h0M1488 1572h0M1526 1832h0M1319 1717h0M1206 1871h0M1515 1871h0M1569 1659h0M1528 1407h0M1596 1465h0M1561 1627h0M1461 1809h0M1446 1626h0M1398 1558h0M1448 1879h0M1519 1884h0M1410 1659h0M1410 1823h0M1470 1790h0M1464 1699h0M1580 1633h0M1324 1723h0M1373 1882h0M1446 1785h0M1481 1499h0M1578 1788h0M1516 1682h0M1463 1791h0M1572 1445h0M1596 1632h0M1074 1849h0M1559 1568h0M1597 1725h0M1529 1458h0M1560 1681h0M1545 1663h0M1572 1504h0M1193 1858h0M1514 1845h0M1510 1767h0M1520 1516h0M1235 1788h0M1167 1859h0M1359 1768h0M1551 1601h0M1598 1814h0M1241 1856h0M1467 1556h0M1488 1477h0M1527 1609h0M1486 1527h0M1481 1614h0M1553 1882h0M1335 1766h0M1469 1817h0M1110 1862h0M1593 1626h0M1527 1881h0M1598 1640h0M1545 1557h0M1513 1868h0M1457 1844h0M1518 1829h0M1501 1550h0M1379 1759h0M1225 1790h0M1407 1844h0M1583 1622h0M1455 1787h0M1489 1512h0M1536 1830h0M1525 1403h0M1491 1721h0M1272 1818h0M1578 1516h0M1523 1541h0M1466 1882h0M1562 1477h0M1254 1772h0M1390 1689h0M1560 1705h0M1477 1880h0M1584 1489h0M1540 1815h0M1332 1754h0M1559 1539h0M1157 1801h0M1250 1781h0M1191 1858h0M1572 1688h0M1526 1880h0M1504 1820h0M1529 1822h0M1147 1818h0M1598 1705h0M1475 1766h0M1232 1767h0M1462 1592h0M1286 1659h0M1511 1845h0M1496 1764h0M1249 1841h0M1233 1765h0M1547 1415h0M1293 1866h0M1581 1581h0M1160 1793h0M1556 1785h0M1313 1763h0M1448 1759h0M1178 1760h0M1534 1768h0M1563 1781h0M1490 1731h0M1574 1609h0M1516 1844h0M1546 1479h0M1557 1690h0M1527 1691h0M1233 1849h0M1579 1487h0M1591 1756h0M1458 1685h0M1547 1637h0M1445 1881h0M1579 1476h0M1512 1656h0M1549 1869h0M1313 1814h0M1525 1456h0M1517 1535h0M1587 1720h0M1271 1866h0M1500 1878h0M1513 1590h0M1575 1687h0M1509 1549h0M1490 1632h0M1553 1852h0M1215 1867h0M1516 1822h0M1568 1418h0M1162 1821h0M1469 1875h0M1509 1499h0M1231 1869h0M1512 1542h0M1545 1786h0M1536 1799h0M1468 1883h0M1551 1815h0M1551 1759h0M1518 1882h0M1567 1557h0M1485 1634h0M1212 1848h0M1255 1845h0M1244 1522h0M1143 1827h0M1238 1866h0M1557 1834h0M1548 1732h0M1270 1847h0M1513 1624h0M1550 1660h0M1468 1863h0M1584 1616h0M1551 1871h0M1177 1844h0M1462 1702h0M1302 1831h0M1274 1812h0M1583 1663h0M1507 1814h0M1534 1440h0M1231 1862h0M1536 1407h0M1318 1711h0M1471 1790h0M1449 1864h0M1559 1499h0M1591 1730h0M1490 1784h0M1331 1871h0M1427 1731h0M1511 1753h0M1523 1875h0M1518 1868h0M1590 1776h0M1565 1825h0M1449 1446h0M1550 1500h0M1536 1512h0M1486 1883h0M1589 1485h0M1520 1810h0M1499 1467h0M1243 1745h0M1550 1842h0M1588 1710h0M1501 1637h0M1552 1562h0M1554 1851h0M1586 1793h0M1518 1836h0M1294 1860h0M1220 1858h0M1577 1864h0M1593 1755h0M1569 1733h0M1508 1884h0M1594 1621h0M1565 1879h0M1543 1744h0M1560 1839h0M1404 1539h0M1520 1537h0M1597 1449h0M1598 1826h0M1546 1882h0M1510 1522h0M1516 1759h0M1589 1827h0M1433 1872h0M1509 1879h0M1476 1573h0M1508 1873h0M1201 1815h0M1487 1562h0M1453 1783h0M1424 1706h0M1511 1501h0M1477 1678h0M1527 1434h0M1501 1580h0M1515 1884h0M1515 1592h0M1446 1741h0M1559 1677h0M1386 1789h0M1065 1822h0M1404 1869h0M1593 1467h0M1452 1735h0M1579 1450h0M1341 1673h0M1526 1462h0M1348 1753h0M1559 1410h0M1589 1738h0M1505 1814h0M1473 1668h0M1219 1856h0M1467 1768h0M1580 1538h0M1582 1626h0M1436 1760h0M1534 1458h0M1523 1846h0M1534 1710h0M1520 1498h0M1134 1818h0M1477 1648h0M1595 1500h0M1517 1813h0M1252 1874h0M1503 1883h0M1520 1731h0M1579 1733h0M1523 1404h0M1451 1872h0M1593 1771h0M1577 1772h0M1524 1599h0M1590 1766h0M1181 1841h0M1555 1474h0M1474 1801h0M1569 1696h0M1476 1522h0M1150 1792h0M1551 1661h0M1289 1852h0M1435 1731h0M1525 1588h0M1472 1647h0M1508 1707h0M1210 1851h0M1522 1704h0M1592 1780h0M1557 1612h0M1327 1865h0M1498 1858h0M1595 1620h0M1353 1703h0M1537 1414h0M1586 1767h0M1304 1782h0M1482 1848h0M1448 1781h0M1594 1451h0M1558 1662h0M1322 1855h0M1060 1858h0M1506 1874h0M1585 1745h0M1532 1788h0M1519 1874h0M1330 1791h0M1576 1638h0M1496 1787h0M1346 1595h0M1416 1658h0M1368 1692h0M1516 1883h0M1537 1523h0M1538 1658h0M1545 1418h0M1598 1756h0M1570 1793h0M1504 1674h0M1552 1846h0M1306 1834h0M1446 1504h0M1488 1866h0M1557 1633h0M1536 1479h0M1597 1774h0M1424 1838h0M1479 1838h0M1289 1846h0M1467 1680h0M1581 1555h0M1546 1561h0M1478 1659h0M1551 1769h0M1529 1873h0M1525 1649h0M1226 1873h0M1456 1870h0M1537 1538h0M1577 1801h0M1515 1704h0M1444 1469h0M1560 1780h0M1583 1800h0M1509 1563h0M1461 1583h0M1575 1594h0M1276 1843h0M1420 1686h0M1532 1690h0M1476 1619h0M1566 1515h0M1469 1589h0M1301 1808h0M1194 1818h0M1405 1507h0M1560 1832h0M1453 1647h0M1462 1876h0M1465 1721h0M1350 1543h0M1565 1498h0M1526 1810h0M1574 1432h0M1531 1768h0M1548 1681h0M1189 1843h0M1586 1652h0M1394 1860h0M1597 1688h0M1452 1767h0M1498 1572h0M1462 1811h0M1453 1877h0M1587 1712h0M1580 1585h0M1559 1574h0M1300 1837h0M1487 1727h0M1501 1609h0M1514 1801h0M1539 1776h0M1549 1734h0M1539 1467h0M1597 1588h0M1206 1863h0M1588 1587h0M1529 1445h0M1425 1583h0M1535 1487h0M1557 1524h0M1532 1868h0M1474 1869h0M1535 1738h0M1556 1732h0M1535 1648h0M1544 1482h0M1565 1698h0M1521 1498h0M1535 1565h0M1527 1717h0M1504 1774h0M1574 1448h0M1540 1551h0M1132 1857h0M1502 1675h0M1569 1773h0M1599 1645h0M1525 1752h0M1457 1883h0M1527 1662h0M1536 1828h0M1572 1587h0M1446 1800h0M1457 1837h0M1502 1861h0M1508 1872h0M1498 1847h0M1571 1869h0M1222 1857h0M1447 1842h0M1280 1730h0M1513 1636h0M1246 1795h0M1548 1790h0M1226 1847h0M1333 1863h0M1447 1782h0M1513 1810h0M1491 1883h0M1583 1540h0M1556 1566h0M1578 1581h0M1342 1457h0M1489 1858h0M1530 1881h0M1221 1873h0M1494 1857h0M1457 1826h0M1280 1856h0M1449 1868h0M1563 1434h0M1534 1541h0M1427 1674h0M1590 1466h0M1503 1884h0M1583 1526h0M1487 1598h0M1571 1837h0M1519 1755h0M1585 1496h0M1465 1828h0M1533 1833h0M1505 1852h0M1456 1634h0M1372 1868h0M1104 1866h0M1598 1782h0M1494 1665h0M1582 1729h0M1530 1845h0M1479 1615h0M1548 1728h0M1473 1666h0M1477 1732h0M1159 1867h0M1508 1860h0M1383 1797h0M1219 1757h0M1461 1772h0M1302 1876h0M1513 1744h0M1530 1740h0M1330 1586h0M1142 1871h0M1467 1671h0M1529 1839h0M1576 1513h0M1447 1879h0M1569 1598h0M1474 1690h0M1535 1830h0M1576 1426h0M1478 1788h0M1493 1596h0M1556 1612h0M1541 1744h0M1560 1755h0M1475 1809h0M1078 1807h0M1525 1872h0M1196 1834h0M1503 1838h0M1583 1829h0M1382 1713h0M1347 1866h0M1490 1859h0M1536 1695h0M1503 1815h0M1453 1879h0M1525 1490h0M1221 1831h0M1547 1883h0M1510 1772h0M1539 1857h0M1475 1581h0M1573 1607h0M1568 1778h0M1477 1570h0M1545 1407h0M1539 1473h0M1518 1855h0M1483 1715h0M1543 1414h0M1571 1580h0M1247 1864h0M1460 1776h0M1559 1575h0M1586 1802h0M1533 1867h0M1598 1532h0M1514 1759h0M1461 1875h0M1531 1863h0M1554 1810h0M1226 1841h0M1470 1805h0M1067 1853h0M1565 1756h0M1593 1604h0M1546 1627h0M1331 1848h0M1475 1527h0M1444 1861h0M1527 1848h0M1571 1483h0M1480 1776h0M1131 1759h0M1280 1738h0M1494 1840h0M1461 1863h0M1592 1499h0M1224 1833h0M1405 1785h0M1477 1853h0M1506 1724h0M1516 1882h0M1401 1836h0M1564 1429h0M1201 1847h0M1574 1528h0M1553 1594h0M1539 1826h0M1572 1653h0M1062 1855h0M1586 1525h0M1375 1791h0M1554 1880h0M1462 1666h0M1544 1418h0M1564 1412h0M1308 1868h0M1522 1651h0M1588 1556h0M1595 1537h0M1143 1501h0M1487 1804h0M1470 1720h0M1530 1493h0M1390 1770h0M1448 1512h0M1097 1843h0M1596 1820h0M1548 1554h0M1192 1853h0M1424 1453h0M1537 1591h0M1519 1500h0M1581 1768h0M1512 1718h0M1551 1814h0M1562 1839h0M1351 1832h0M1336 1875h0M1557 1511h0M1452 1837h0M1479 1675h0M1493 1850h0M1399 1693h0M1599 1786h0M1565 1854h0M1542 1722h0M1273 1617h0M1512 1848h0M1526 1691h0M1555 1555h0M1508 1826h0M1592 1756h0M1585 1817h0M1462 1883h0M1159 1635h0M1308 1743h0M1349 1820h0M1488 1525h0M1528 1856h0M1579 1871h0M1555 1761h0M1457 1796h0M1479 1661h0M1072 1844h0M1569 1426h0M1466 1829h0M1212 1873h0M1465 1740h0M1583 1513h0M1405 1700h0M1563 1534h0M1196 1864h0M1496 1630h0M1573 1621h0M1411 1792h0M1592 1812h0M1494 1883h0M1453 1833h0M1589 1519h0M1574 1438h0M1577 1469h0M1503 1826h0M1472 1507h0M1538 1808h0M1574 1859h0M1471 1786h0M1590 1575h0M1505 1776h0M1572 1753h0M1239 1844h0M1597 1818h0M1520 1736h0M1451 1824h0M1450 1844h0M1478 1877h0M1566 1470h0M1404 1871h0M1416 1792h0M1564 1688h0M1586 1464h0M1556 1765h0M1576 1501h0M1520 1858h0M1299 1756h0M1511 1631h0M1079 1836h0M1484 1851h0M1482 1573h0M1435 1656h0M1534 1701h0M1577 1716h0M1552 1405h0M1531 1845h0M1510 1879h0M1546 1661h0M1427 1792h0M1598 1763h0M1539 1874h0M1262 1748h0M1525 1808h0M1233 1858h0M1389 1680h0M1552 1854h0M1596 1645h0M1486 1766h0M1470 1432h0M1449 1455h0M1597 1737h0M1564 1823h0M1446 1844h0M1572 1877h0M1568 1529h0M1445 1503h0M1530 1573h0M1228 1831h0M1507 1825h0M1386 1825h0M1404 1872h0M1137 1868h0M1542 1876h0M1406 1849h0M1520 1531h0M1498 1862h0M1590 1579h0M1582 1837h0M1577 1584h0M1531 1836h0M1467 1676h0M1300 1869h0M1354 1880h0M1181 1862h0M1456 1762h0M1278 1804h0M1059 1856h0M1165 1872h0M1368 1650h0M1494 1765h0M1594 1494h0M1448 1593h0M1490 1641h0M1578 1868h0M1475 1535h0M1421 1684h0M1521 1864h0M1450 1801h0M1198 1834h0M1554 1589h0M1349 1867h0M1470 1878h0M1567 1565h0M1466 1868h0M1417 1863h0M1521 1572h0M1554 1613h0M1591 1824h0M1515 1883h0M1456 1806h0M1587 1679h0M1516 1710h0M1322 1827h0M1545 1487h0M1581 1824h0M1495 1814h0M1059 1857h0M1138 1866h0M1411 1727h0M1528 1813h0M1499 1615h0M1483 1773h0M1494 1673h0M1503 1848h0M1541 1837h0M1589 1599h0M1458 1849h0M1408 1876h0M1149 1859h0M1469 1639h0M1537 1617h0M1518 1501h0M1499 1834h0M1552 1403h0M1499 1745h0M1530 1739h0M1544 1708h0M1528 1670h0M1588 1452h0M1570 1565h0M1548 1772h0M1478 1821h0M1388 1790h0M1594 1458h0M1592 1651h0M1532 1445h0M1556 1745h0M1485 1854h0M1342 1871h0M1577 1762h0M1497 1766h0M1432 1786h0M1593 1615h0M1290 1828h0M1597 1575h0M1502 1868h0M1596 1592h0M1437 1683h0M1453 1634h0M1563 1519h0M1578 1792h0M1469 1598h0M1083 1861h0M1353 1834h0M1556 1577h0M1188 1861h0M1318 1849h0M1455 1695h0M1479 1717h0M1567 1582h0M1512 1553h0M1234 1872h0M1483 1599h0M1542 1428h0M1519 1753h0M1580 1666h0M1231 1856h0M1510 1626h0M1098 1860h0M1474 1883h0M1500 1687h0M1551 1567h0M1329 1871h0M1488 1537h0M1494 1637h0M1393 1875h0M1590 1664h0M1473 1834h0M1473 1881h0M1263 1728h0M1336 1838h0M1502 1693h0M1572 1427h0M1536 1825h0M1521 1588h0M1478 1772h0M1524 1668h0M1394 1818h0M1585 1852h0M1210 1872h0M1517 1877h0M1532 1426h0M1202 1784h0M1391 1477h0M1559 1747h0M1282 1874h0M1581 1712h0M1576 1582h0M1189 1731h0M1475 1804h0M1539 1715h0M1502 1652h0M1299 1860h0M1558 1596h0M1490 1774h0M1496 1660h0M1165 1846h0M1468 1773h0M1261 1874h0M1513 1784h0M1573 1626h0M1504 1727h0M1447 1872h0M1589 1633h0M1580 1714h0M1192 1857h0M1519 1757h0M1449 1712h0M1392 1830h0M1249 1828h0M1528 1833h0M1584 1861h0M1554 1631h0M1356 1848h0M1513 1720h0M1531 1471h0M1500 1574h0M1488 1681h0M1569 1455h0M1589 1637h0M1464 1743h0M1549 1880h0M1453 1705h0M1526 1517h0M1541 1838h0M1550 1642h0M1456 1544h0M1524 1783h0M1571 1469h0M1574 1466h0M1590 1525h0M1541 1865h0M1580 1687h0M1148 1798h0M1457 1569h0M1550 1655h0M1079 1847h0M1456 1873h0M1452 1748h0M1281 1720h0M1411 1619h0M1541 1585h0M1530 1594h0M1557 1734h0M1462 1879h0M1561 1704h0M1494 1832h0M1503 1852h0M1504 1838h0M1199 1794h0M1403 1870h0M1493 1809h0M1559 1471h0M1597 1769h0M1371 1674h0M1573 1793h0M1506 1713h0M1527 1861h0M1502 1878h0M1365 1826h0M1497 1432h0M1519 1631h0M1595 1675h0M1245 1873h0M1456 1654h0M1533 1884h0M1432 1594h0M1479 1874h0M1298 1832h0M1454 1812h0M1536 1884h0M1461 1650h0M1486 1682h0M1448 1760h0M1566 1535h0M1392 1488h0M1109 1811h0M1522 1715h0M1247 1844h0M1599 1612h0M1488 1781h0M1556 1592h0M1523 1764h0M1525 1861h0M1487 1702h0M1381 1863h0M1527 1878h0M1471 1658h0M1544 1776h0M1382 1661h0M1577 1524h0M1575 1570h0M1569 1837h0M1446 1772h0M1487 1742h0M1508 1741h0M1528 1671h0M1594 1501h0M1189 1864h0M1577 1735h0M1513 1698h0M1585 1789h0M1407 1792h0M1143 1819h0M1456 1859h0M1543 1875h0M1274 1790h0M1594 1532h0M1342 1826h0M1446 1692h0M1489 1713h0M1480 1423h0M1527 1874h0M1492 1825h0M1464 1867h0M1253 1811h0M1160 1633h0M1419 1672h0M1310 1829h0M1516 1852h0M1518 1777h0M1229 1832h0M1552 1883h0M1534 1569h0M1181 1873h0M1548 1880h0M1469 1704h0M1475 1811h0M1064 1853h0M1553 1867h0M1266 1831h0M1137 1795h0M1500 1412h0M1151 1805h0M1557 1844h0M1524 1775h0M1205 1852h0M1320 1834h0M1533 1838h0M1522 1589h0M1467 1724h0M1152 1831h0M1128 1847h0M1478 1654h0M1453 1750h0M1466 1635h0M1568 1671h0M1487 1629h0M1143 1842h0M1548 1875h0M1512 1856h0M1582 1811h0M1375 1852h0M1545 1692h0M1531 1727h0M1140 1862h0M1513 1791h0M1525 1517h0M1546 1719h0M1272 1808h0M1465 1855h0M1446 1877h0M1460 1877h0M1587 1620h0M1595 1559h0M1456 1689h0M1451 1817h0M1510 1798h0M1400 1659h0M1585 1528h0M1588 1623h0M1541 1883h0M1586 1765h0M1598 1578h0M1501 1589h0M1520 1883h0M1443 1628h0M1540 1568h0M1532 1779h0M1366 1852h0M1570 1860h0M1320 1796h0M1597 1512h0M1236 1809h0M1498 1768h0M1503 1814h0M1474 1780h0M1467 1699h0M1484 1877h0M1447 1645h0M1517 1731h0M1563 1873h0M1208 1873h0M1303 1729h0M1446 1763h0M1579 1546h0M1470 1648h0M1534 1645h0M1249 1805h0M1578 1787h0M1589 1663h0M1459 1866h0M1598 1482h0M1467 1830h0M1143 1870h0M1190 1793h0M1460 1837h0M1472 1883h0M1562 1440h0M1221 1792h0M1571 1865h0M1554 1803h0M1558 1622h0M1058 1845h0M1582 1556h0M1189 1750h0M1536 1817h0M1487 1863h0M1585 1763h0M1197 1869h0M1561 1654h0M1456 1602h0M1552 1739h0M1537 1757h0M1511 1695h0M1359 1689h0M1524 1734h0M1486 1661h0M1562 1632h0M1457 1786h0M1310 1875h0M1528 1873h0M1139 1804h0M1498 1806h0M1395 1744h0M1482 1645h0M1534 1884h0M1183 1788h0M1522 1740h0M1530 1639h0M1542 1850h0M1315 1853h0M1488 1728h0M1565 1710h0M1395 1874h0M1400 1712h0M1515 1881h0M1578 1466h0M1563 1501h0M1409 1779h0M1516 1782h0M1449 1737h0M1461 1774h0M1481 1792h0M1572 1830h0M1566 1855h0M1312 1877h0M1581 1852h0M1552 1882h0M1462 1797h0M1506 1880h0M1178 1710h0M1508 1877h0M1574 1525h0M1525 1843h0M1574 1421h0M1556 1525h0M1572 1739h0M1496 1704h0M1298 1865h0M1167 1867h0M1526 1530h0M1557 1470h0M1456 1862h0M1581 1473h0M1250 1873h0M1593 1792h0M1230 1813h0M1248 1791h0M1475 1868h0M1473 1865h0M1545 1641h0M1527 1882h0M1577 1705h0M1437 1674h0M1588 1679h0M1259 1542h0M1185 1797h0M1463 1879h0M1207 1780h0M1551 1805h0M1573 1747h0M1557 1565h0M1450 1817h0M1493 1668h0M1293 1852h0M1297 1732h0M1534 1827h0M1448 1689h0M1534 1691h0M1525 1642h0M1541 1844h0M1584 1596h0M1570 1597h0M1525 1821h0M1064 1859h0M1505 1856h0M1124 1866h0M1527 1883h0M1595 1598h0M1492 1723h0M1544 1870h0M1296 1864h0M1508 1618h0M1399 1522h0M1596 1819h0M1589 1631h0M1486 1596h0M1521 1443h0M1295 1784h0M1502 1608h0M1386 1845h0M1490 1837h0M1446 1830h0M1185 1601h0M1522 1883h0M1219 1796h0M1594 1539h0M1483 1805h0M1516 1802h0M1167 1501h0M1579 1556h0M1499 1817h0M1224 1862h0M1448 1742h0M1545 1408h0M1521 1705h0M1594 1819h0M1507 1456h0M1505 1880h0M1593 1706h0M1514 1884h0M1303 1876h0M1545 1730h0M1544 1626h0M1420 1795h0M1479 1676h0M1518 1872h0M1486 1753h0M1281 1738h0M1531 1871h0M1595 1536h0M1594 1542h0M1215 1794h0M1574 1621h0M1538 1524h0M1523 1772h0M1304 1876h0M1511 1842h0M1475 1419h0M1304 1833h0M1550 1839h0M1486 1702h0M1575 1442h0M1595 1677h0M1363 1878h0M1588 1787h0M1299 1774h0M1459 1707h0M1382 1669h0M1341 1824h0M1232 1713h0M1528 1475h0M1557 1428h0M1574 1644h0M1412 1799h0M1590 1457h0M1399 1864h0M1590 1785h0M1563 1547h0M1495 1863h0M1517 1862h0M1547 1873h0M1453 1837h0M1532 1836h0M1568 1748h0M1165 1864h0M1587 1537h0M1102 1786h0M1499 1757h0M1448 1698h0M1508 1696h0M1561 1583h0M1576 1735h0M1587 1577h0M1325 1876h0M1516 1630h0M1557 1476h0M1550 1733h0M1541 1420h0M1429 1431h0M1409 1735h0M1591 1822h0M1476 1667h0M1411 1736h0M1488 1875h0M1091 1819h0M1475 1834h0M1494 1862h0M1530 1424h0M1539 1414h0M1523 1710h0M1539 1441h0M1565 1521h0M1574 1875h0M1143 1869h0M1521 1437h0M1235 1468h0M1474 1615h0M1460 1792h0M1579 1630h0M1514 1865h0M1496 1876h0M1550 1807h0M1466 1865h0M1534 1881h0M1425 1781h0M1450 1714h0M1101 1866h0M1449 1840h0M1559 1855h0M1512 1784h0M1509 1823h0M1542 1857h0M1519 1792h0M1594 1746h0M1523 1758h0M1274 1837h0M1591 1800h0M1253 1784h0M1465 1882h0M1474 1586h0M1462 1593h0M1443 1772h0M1465 1773h0M1526 1803h0M1537 1778h0M1498 1679h0M1530 1763h0M1564 1763h0M1586 1514h0M1510 1563h0M1348 1666h0M1124 1868h0M1464 1785h0M1451 1656h0M1544 1483h0M1576 1860h0M1584 1603h0M1331 1780h0M1498 1829h0M1493 1436h0M1573 1443h0M1546 1759h0M1586 1638h0M1457 1552h0M1356 1794h0M1570 1753h0M1567 1663h0M1465 1883h0M1553 1794h0M1407 1879h0M1525 1757h0M1564 1683h0M1581 1639h0M1548 1413h0M1590 1612h0M1535 1601h0M1282 1861h0M1538 1423h0M1201 1817h0M1200 1846h0M1534 1713h0M1302 1874h0M1484 1414h0M1419 1705h0M1595 1669h0M1468 1850h0M1438 1857h0M1182 1780h0M1517 1661h0M1435 1747h0M1597 1824h0M1580 1692h0M1467 1791h0M1339 1877h0M1593 1561h0M1515 1783h0M1472 1610h0M1246 1811h0M1548 1675h0M1547 1824h0M1554 1794h0M1522 1816h0M1559 1793h0M1515 1515h0M1574 1591h0M1483 1736h0M1455 1667h0M1447 1505h0M1339 1730h0M1458 1521h0M1507 1878h0M1512 1477h0M1515 1593h0M1547 1858h0M1209 1827h0M1510 1668h0M1358 1746h0M1579 1517h0M1529 1672h0M1596 1476h0M1507 1662h0M1501 1820h0M1460 1875h0M1524 1862h0M1526 1874h0M1325 1789h0M1543 1707h0M1465 1847h0M1339 1667h0M1507 1574h0M1593 1757h0M1512 1616h0M1542 1705h0M1482 1615h0M1521 1781h0M1566 1680h0M1541 1564h0M1590 1709h0M1502 1637h0M1206 1842h0M1457 1811h0M1576 1697h0M1591 1515h0M1557 1829h0M1596 1549h0M1322 1738h0M1393 1878h0M1529 1883h0M1555 1468h0M1466 1624h0M1526 1881h0M1533 1449h0M1515 1863h0M1507 1754h0M1165 1871h0M1561 1702h0M1189 1788h0M1372 1749h0M1457 1790h0M1594 1734h0M1510 1861h0M1497 1867h0M1158 1848h0M1501 1548h0M1511 1858h0M1414 1801h0M1583 1599h0M1545 1594h0M1451 1875h0M1132 1773h0M1506 1857h0M1551 1686h0M1216 1873h0M1132 1670h0M1115 1856h0M1446 1811h0M1482 1883h0M1523 1787h0M1551 1405h0M1516 1608h0M1571 1864h0M1489 1877h0M1317 1803h0M1526 1792h0M1157 1850h0M1471 1559h0M1215 1772h0M1577 1780h0M1529 1705h0M1533 1517h0M1518 1774h0M1146 1675h0M1569 1825h0M1576 1682h0M1505 1615h0M1415 1817h0M1455 1704h0M1555 1677h0M1512 1868h0M1588 1813h0M1598 1564h0M1544 1764h0M1155 1831h0M1225 1805h0M1373 1763h0M1466 1704h0M1571 1774h0M1517 1438h0M1359 1685h0M1102 1868h0M1530 1843h0M1588 1690h0M1491 1578h0M1589 1687h0M1590 1798h0M1490 1873h0M1530 1880h0M1526 1563h0M1568 1851h0M1539 1812h0M1369 1879h0M1537 1466h0M1450 1872h0M1586 1529h0M1136 1817h0M1512 1745h0M1596 1661h0M1595 1833h0M1298 1857h0M1448 1722h0M1532 1865h0M1397 1777h0M1591 1740h0M1511 1609h0M1427 1877h0M1598 1678h0M1486 1850h0M1514 1876h0M1487 1821h0M1527 1707h0M1223 1770h0M1502 1672h0M1495 1859h0M1450 1795h0M1489 1827h0M1527 1866h0M1514 1883h0M1522 1813h0M1347 1685h0M1314 1717h0M1372 1755h0M1505 1828h0M1475 1640h0M1458 1800h0M1541 1879h0M1194 1826h0M1537 1443h0M1323 1798h0M1456 1781h0M1514 1841h0M1520 1709h0M1301 1755h0M1305 1705h0M1210 1810h0M1517 1621h0M1460 1624h0M1276 1792h0M1294 1801h0M1533 1871h0M1563 1576h0M1544 1513h0M1543 1429h0M1584 1859h0M1463 1604h0M1455 1595h0M1344 1878h0M1511 1747h0M1596 1745h0M1519 1674h0M1545 1839h0M1464 1812h0M1200 1810h0M1591 1686h0M1496 1766h0M1058 1474h0M1525 1775h0M1405 1873h0M1151 1573h0M1201 1861h0M1543 1525h0M1495 1778h0M1196 1841h0M1253 1837h0M1567 1647h0M1473 1875h0M1494 1863h0M1561 1460h0M1563 1867h0M1216 1771h0M1571 1493h0M1559 1486h0M1415 1715h0M1512 1698h0M1441 1716h0M1498 1684h0M1587 1673h0M1462 1640h0M1457 1640h0M1591 1439h0M1565 1588h0M1518 1849h0M1560 1720h0M1137 1810h0M1546 1729h0M1465 1827h0M1439 1825h0M1334 1711h0M1576 1785h0M1511 1646h0M1509 1745h0M1547 1877h0M1597 1780h0M1474 1866h0M1588 1465h0M1563 1458h0M1216 1766h0M1461 1781h0M1538 1411h0M1434 1834h0M1435 1875h0M1597 1789h0M1270 1806h0M1557 1784h0M1450 1785h0M1174 1816h0M1483 1435h0M1521 1746h0M1462 1772h0M1561 1792h0M1427 1794h0M1499 1476h0M1532 1638h0M1146 1793h0M1279 1860h0M1468 1833h0M1589 1724h0M1226 1646h0M1598 1728h0M1519 1606h0M1569 1684h0M1511 1869h0M1497 1603h0M1598 1623h0M1579 1849h0M1512 1867h0M1556 1848h0M1545 1456h0M1538 1702h0M1594 1698h0M1470 1428h0M1459 1775h0M1445 1491h0M1560 1657h0M1523 1766h0M1486 1860h0M1555 1610h0M1579 1491h0M1475 1589h0M1473 1596h0M1551 1666h0M1268 1827h0M1560 1429h0M1576 1587h0M1531 1686h0M1572 1844h0M1388 1692h0M1455 1717h0M1485 1617h0M1323 1697h0M1524 1810h0M1305 1795h0M1539 1498h0M1517 1786h0M1548 1779h0M1462 1834h0M1470 1764h0M1081 1863h0M1548 1534h0M1536 1600h0M1526 1625h0M1218 1791h0M1447 1658h0M1588 1665h0M1506 1864h0M1479 1859h0M1575 1855h0M1585 1828h0M1503 1482h0M1451 1725h0M1351 1593h0M1321 1822h0M1455 1883h0M1454 1873h0M1138 1869h0M1375 1831h0M1504 1672h0M1103 1840h0M1421 1648h0M1550 1875h0M1557 1823h0M1544 1642h0M1254 1738h0M1545 1824h0M1254 1816h0M1449 1844h0M1073 1861h0M1541 1730h0M1559 1832h0M1424 1785h0M1568 1728h0M1568 1635h0M1543 1630h0M1546 1535h0M1552 1836h0M1482 1649h0M1514 1599h0M1476 1797h0M1461 1767h0M1237 1854h0M1385 1704h0M1543 1864h0M1486 1881h0M1539 1565h0M1511 1611h0M1463 1719h0M1539 1753h0M1476 1870h0M1550 1475h0M1590 1734h0M1543 1419h0M1496 1877h0M1574 1560h0M1569 1774h0M1544 1727h0M1512 1880h0M1523 1650h0M1576 1599h0M1526 1837h0M1442 1476h0M1268 1849h0M1493 1615h0M1546 1799h0M1350 1863h0M1580 1852h0M1582 1860h0M1554 1564h0M1284 1868h0M1532 1425h0M1481 1785h0M1536 1511h0M1555 1541h0M1542 1654h0M1522 1745h0M1517 1620h0M1545 1865h0M1576 1874h0M1491 1850h0M1589 1513h0M1596 1662h0M1516 1837h0M1550 1693h0M1193 1470h0M1452 1784h0M1558 1500h0M1502 1731h0M1165 1824h0M1331 1814h0M1385 1862h0M1502 1871h0M1563 1832h0M1559 1563h0M1581 1525h0M1392 1512h0M1477 1858h0M1567 1839h0M1578 1693h0M1563 1464h0M1169 1827h0M1509 1839h0M1540 1426h0M1559 1691h0M1512 1831h0M1179 1800h0M1589 1798h0M1225 1833h0M1501 1871h0M1571 1667h0M1511 1495h0M1538 1589h0M1514 1470h0M1293 1697h0M1185 1829h0M1531 1706h0M1545 1705h0M1468 1877h0M1307 1794h0M1516 1827h0M1369 1718h0M1477 1615h0M1275 1845h0M1493 1863h0M1566 1500h0M1597 1811h0M1464 1851h0M1501 1606h0M1592 1655h0M1580 1491h0M1541 1804h0M1553 1402h0M1431 1852h0M1570 1653h0M1484 1609h0M1592 1708h0M1189 1829h0M1535 1782h0M1498 1883h0M1514 1700h0M1413 1849h0M1475 1706h0M1527 1833h0M1584 1499h0M1569 1801h0M1240 1843h0M1595 1587h0M1493 1564h0M1426 1875h0M1175 1872h0M1552 1830h0M1572 1530h0M1350 1878h0M1476 1663h0M1526 1833h0M1546 1565h0M1495 1822h0M1333 1878h0M1324 1633h0M1591 1735h0M1580 1517h0M1456 1734h0M1547 1411h0M1549 1527h0M1459 1883h0M1485 1796h0M1513 1429h0M1478 1865h0M1566 1662h0M1552 1758h0M1501 1796h0M1295 1798h0M1517 1603h0M1535 1813h0M1469 1571h0M1317 1869h0M1537 1420h0M1518 1816h0M1510 1835h0M1397 1883h0M1521 1865h0M1523 1873h0M1308 1720h0M1457 1817h0M1515 1768h0M1513 1750h0M1461 1817h0M1588 1814h0M1492 1651h0M1552 1404h0M1557 1858h0M1239 1758h0M1479 1864h0M1569 1557h0M1368 1864h0M1508 1777h0M1449 1589h0M1564 1542h0M1068 1810h0M1503 1882h0M1579 1451h0M1270 1759h0M1585 1849h0M1559 1476h0M1549 1747h0M1321 1806h0M1533 1880h0M1572 1552h0M1454 1716h0M1467 1847h0M1542 1438h0M1512 1879h0M1557 1722h0M1557 1800h0M1579 1442h0M1567 1514h0M1530 1606h0M1560 1548h0M1206 1816h0M1521 1859h0M1145 1871h0M1591 1699h0M1536 1478h0M1525 1878h0M1449 1751h0M1473 1820h0M1541 1410h0M1312 1685h0M1158 1841h0M1315 1523h0M1410 1875h0M1513 1803h0M1226 1850h0M1584 1759h0M1574 1842h0M1578 1653h0M1513 1853h0M1427 1787h0M1583 1855h0M1559 1725h0M1444 1712h0M1549 1884h0M1478 1551h0M1582 1552h0M1481 1807h0M1388 1776h0M1493 1746h0M1379 1875h0M1552 1685h0M1577 1633h0M1529 1491h0M1593 1600h0M1525 1815h0M1393 1821h0M1478 1835h0M1536 1569h0M1530 1703h0M1193 1738h0M1059 1498h0M1152 1734h0M1047 1828h0M1135 1531h0M1052 1572h0M1192 1828h0M1147 1832h0M1193 1748h0M961 1780h0M1025 1460h0M1078 1846h0M1006 1588h0M1112 1825h0M1035 1628h0M1150 1839h0M1167 1808h0M1066 1768h0M1165 1807h0M1090 1741h0M1089 1632h0M1174 1751h0M1151 1785h0M1048 1825h0M1032 1642h0M1006 1775h0M959 1739h0M1051 1805h0M892 1799h0M1144 1687h0M1182 1854h0M1197 1586h0M1041 1741h0M1041 1494h0M1106 1847h0M1024 1772h0M1083 1717h0M1169 1804h0M1157 1636h0M1113 1634h0M1174 1578h0M1113 1854h0M953 1819h0M920 1790h0M1054 1748h0M1093 1710h0M1131 1778h0M1153 1543h0M978 1618h0M1067 1545h0M1068 1826h0M1115 1772h0M1198 1844h0M1139 1647h0M1166 1674h0M960 1586h0M1089 1854h0M1194 1858h0M956 1726h0M1179 1637h0M1158 1708h0M1064 1836h0M1179 1777h0M1105 1815h0M1011 1600h0M975 1730h0M1123 1672h0M1084 1825h0M1188 1490h0M1154 1533h0M693 1711h0M823 1611h0M875 1834h0M956 1534h0M937 1777h0" stroke="#f04040" stroke-width="26.6" stroke-linecap="round" fill="none"/>
<path d="M1552 1673h0M1105 1783h0M1384 1781h0M1570 1669h0M1573 1534h0M1526 1489h0M1562 1640h0M1562 1840h0M1552 1829h0M1520 1791h0M1574 1707h0M1535 1522h0M1550 1807h0M1477 1861h0M1519 1792h0M1554 1556h0M1542 1625h0M1569 1793h0M1552 1565h0M1530 1863h0M1539 1836h0M1281 1837h0M1562 1297h0M1523 1846h0M1111 1808h0M1543 1831h0M1550 1862h0M1495 1863h0M1548 1862h0M1519 1696h0M1566 1610h0M1526 1628h0M1572 1684h0M1561 1742h0M1561 1286h0M1521 1388h0M1569 1821h0M1473 1808h0M1539 1754h0M1554 1636h0M1564 1836h0M1544 1634h0M1555 1838h0M1287 1736h0M1564 1834h0M1446 1697h0M1533 1832h0M1564 1630h0M1548 1864h0M1571 1813h0M1519 1764h0M1205 1840h0M1516 1707h0M1572 1362h0M1564 1830h0M1554 1844h0M1319 1786h0M1521 1492h0M1453 1848h0M1572 1310h0M1532 1820h0M1528 1361h0M1574 1578h0M1561 1614h0M1572 1698h0M1529 1778h0M1515 1858h0M1572 1384h0M1548 1477h0M1540 1858h0M1509 1812h0M1560 1839h0M1571 1319h0M1568 1743h0M1570 1730h0M1546 1864h0M1510 1679h0M1541 1728h0M1527 1596h0M1568 1535h0M1570 1391h0M1573 1351h0M1542 1455h0M1390 1862h0M1566 1796h0M1517 1546h0M1521 1771h0M1569 1416h0M1557 1464h0M1543 1704h0M1519 1560h0M1569 1463h0M1549 1603h0M1560 1432h0M1532 1863h0M1568 1788h0M1285 1745h0M1518 1487h0M1561 1836h0M1562 1325h0M1549 1409h0M1558 1641h0M1458 1632h0M1543 1744h0M1544 1520h0M1556 1794h0M1492 1708h0M1522 1802h0M1542 1650h0M1535 1475h0M1543 1843h0M1458 1742h0M1407 1856h0M1556 1629h0M1568 1793h0M1345 1788h0M1569 1310h0M1572 1714h0M1562 1800h0M1565 1769h0M1553 1755h0M1520 1743h0M1564 1737h0M1561 1307h0M1493 1758h0M1563 1787h0M1527 1555h0M1571 1698h0M1543 1583h0M1551 1349h0M1532 1859h0M1413 1856h0M1528 1861h0M1549 1333h0M1568 1592h0M1532 1822h0M1501 1839h0M1479 1819h0M1553 1478h0M1460 1443h0M1570 1476h0M1559 1796h0M1563 1346h0M1569 1291h0M1527 1862h0M1569 1737h0M1540 1659h0M1546 1837h0M1550 1822h0M1562 1826h0M1571 1639h0M1546 1862h0M1528 1863h0M1345 1798h0M1560 1729h0M1525 1860h0M1558 1382h0M1491 1852h0M1541 1656h0M1568 1294h0M1542 1808h0M1519 1394h0M1292 1848h0M1556 1587h0M1548 1768h0M1109 1780h0M1353 1774h0M1238 1732h0M1573 1683h0M1556 1736h0M1567 1434h0M1562 1782h0M1549 1550h0M1398 1846h0M1464 1496h0M1566 1534h0M1571 1795h0M1496 1812h0M1541 1831h0M1565 1797h0M1566 1578h0M1501 1862h0M1557 1849h0M1572 1693h0M1550 1837h0M1536 1483h0M1565 1774h0M1562 1834h0M1550 1810h0M1514 1416h0M1574 1643h0M1450 1858h0M1548 1320h0M1530 1502h0M1334 1850h0M1574 1400h0M1549 1850h0M1547 1552h0M1574 1395h0M1447 1761h0M1571 1756h0M1569 1798h0M1570 1578h0M1166 1838h0M1507 1857h0M1570 1299h0M1562 1776h0M1572 1809h0M1469 1747h0M1318 1832h0M1470 1779h0M1528 1860h0M1548 1532h0M1445 1862h0M1452 1782h0M1472 1859h0M1571 1618h0M1569 1686h0M1525 1513h0M1343 1860h0M1546 1750h0M1560 1675h0M1289 1737h0M1552 1429h0M1559 1313h0M1567 1781h0M1516 1701h0M1571 1670h0M1469 1860h0M1547 1788h0M1560 1507h0M1303 1783h0M1572 1486h0M1571 1493h0M1249 1803h0M1555 1845h0M1570 1787h0M1486 1685h0M1514 1786h0M1481 1858h0M1571 1779h0M1532 1844h0M1574 1618h0M1571 1363h0M1566 1730h0M1565 1295h0M1474 1687h0M1540 1706h0M1533 1364h0M1510 1687h0M1572 1627h0M1571 1456h0M1570 1541h0M1481 1562h0M1568 1821h0M1570 1539h0M1483 1563h0M1443 1842h0M1568 1616h0M1515 1389h0M1561 1358h0M1559 1435h0M1302 1840h0M1486 1722h0M1527 1664h0M1301 1863h0M1469 1842h0M1574 1507h0M1566 1510h0M1451 1617h0M1551 1861h0M1515 1391h0M1518 1863h0M1569 1684h0M1219 1801h0M1568 1337h0M1559 1310h0M1564 1412h0M1556 1848h0M1493 1864h0M1482 1756h0M1450 1805h0M1568 1296h0M1481 1665h0M1525 1692h0M1558 1582h0M1518 1620h0M1555 1851h0M1568 1445h0M1569 1738h0M1111 1810h0M1515 1842h0M1540 1741h0M1549 1863h0M1560 1471h0M1571 1409h0M1570 1718h0M1463 1862h0M1419 1841h0M1553 1711h0M1571 1751h0M1488 1864h0M1569 1359h0M1332 1728h0M1531 1622h0M1551 1855h0M1428 1644h0M1244 1832h0M1516 1741h0M1516 1779h0M1569 1714h0M1569 1807h0M1572 1281h0M1521 1777h0M1570 1542h0M1549 1664h0M1446 1847h0M1384 1567h0M1569 1724h0M1500 1805h0M1535 1395h0M1574 1775h0M1553 1846h0M1522 1578h0M1527 1707h0M1426 1703h0M1564 1762h0M1548 1422h0M1555 1766h0M1291 1864h0M1514 1636h0M1563 1322h0M1517 1856h0M1525 1396h0M1525 1863h0M1511 1846h0M1517 1723h0M1519 1626h0M1500 1775h0M1534 1804h0M1465 1704h0M1559 1496h0M1549 1401h0M1551 1834h0M1531 1649h0M1569 1674h0M1517 1828h0M1534 1645h0M1570 1449h0M1539 1646h0M1515 1673h0M1565 1588h0M1573 1297h0M1528 1469h0M1570 1609h0M1536 1754h0M1466 1836h0M1537 1765h0M1235 1836h0M1288 1741h0M1560 1366h0M1547 1863h0M1554 1675h0M1446 1781h0M1544 1712h0M1554 1349h0M1338 1844h0M1537 1524h0M1540 1757h0M1456 1863h0M1532 1864h0M1449 1779h0M1574 1337h0M1569 1690h0M1464 1603h0M1513 1401h0M1490 1699h0M1563 1839h0M1490 1807h0M1507 1842h0M1516 1850h0M1281 1864h0M1562 1748h0M1571 1685h0M1535 1820h0M1287 1861h0M1490 1860h0M1557 1733h0M1563 1562h0M1560 1844h0M1563 1825h0M1356 1702h0M1544 1393h0M1513 1513h0M1506 1534h0M1543 1358h0M1571 1451h0M1499 1864h0M1572 1419h0M1573 1317h0M1517 1835h0M1574 1658h0M1546 1414h0M1555 1840h0M1572 1354h0M1483 1596h0M1554 1403h0M1540 1482h0M1540 1517h0M1571 1649h0M1562 1456h0M1508 1838h0M1551 1860h0M1452 1689h0M1527 1705h0M1557 1831h0M1527 1536h0M1532 1573h0M1502 1713h0M1571 1774h0M1515 1847h0M1533 1376h0M1555 1797h0M1453 1768h0M1548 1831h0M1571 1512h0M1524 1585h0M1163 1782h0M1531 1863h0M1477 1731h0M1562 1613h0M1572 1787h0M1563 1464h0M1572 1305h0M1514 1844h0M1434 1619h0M1520 1440h0M1549 1864h0M1526 1497h0M1541 1594h0M1542 1325h0M1572 1767h0M1549 1862h0M1357 1760h0M1574 1595h0M1522 1862h0M1545 1849h0M1469 1857h0M1374 1799h0M1570 1804h0M1329 1859h0M1525 1532h0M1561 1747h0M1562 1812h0M1547 1847h0M1552 1847h0M1488 1547h0M1206 1860h0M1466 1592h0M1544 1610h0M1472 1751h0M1571 1517h0M1435 1860h0M1529 1656h0M1573 1688h0M1536 1835h0M1112 1800h0M1569 1606h0M1536 1840h0M1574 1784h0M1551 1825h0M1537 1434h0M1571 1760h0M1498 1525h0M1546 1762h0M1543 1855h0M1548 1823h0M1288 1846h0M1402 1852h0M1551 1856h0M1548 1361h0M1563 1478h0M1499 1674h0M1546 1836h0M1572 1712h0M1569 1739h0M1164 1782h0M1496 1859h0M1572 1449h0M1517 1841h0M1555 1536h0M1555 1351h0M1187 1822h0M1573 1720h0M1573 1693h0M1560 1356h0M1572 1409h0M1523 1784h0M1559 1294h0M1561 1331h0M1429 1750h0M1174 1853h0M1574 1648h0M1552 1375h0M1554 1714h0M1459 1863h0M1486 1815h0M1552 1846h0M1559 1846h0M1529 1546h0M1508 1644h0M1489 1558h0M1562 1827h0M1491 1609h0M1565 1466h0M1573 1623h0M1470 1462h0M1536 1705h0M1310 1863h0M1542 1544h0M1516 1713h0M1549 1767h0M1543 1799h0M1477 1771h0M1482 1776h0M1573 1807h0M1232 1851h0M1430 1761h0M1528 1536h0M1308 1818h0M1556 1841h0M1527 1659h0M1550 1660h0M1545 1563h0M1569 1313h0M1564 1832h0M1564 1815h0M1432 1726h0M1548 1846h0M1445 1619h0M1558 1701h0M1568 1638h0M1556 1419h0M1561 1415h0M1556 1686h0M1411 1851h0M1573 1405h0M1525 1711h0M1524 1550h0M1396 1861h0M1547 1819h0M1562 1489h0M1562 1478h0M1218 1864h0M1573 1464h0M1191 1808h0M1532 1456h0M1548 1854h0M1339 1811h0M1478 1862h0M1521 1788h0M1550 1435h0M1492 1421h0M1573 1612h0M1324 1575h0M1240 1863h0M1527 1456h0M1524 1858h0M1525 1862h0M1560 1493h0M1558 1751h0M1571 1646h0M1543 1864h0M1496 1861h0M1288 1715h0M1563 1742h0M1570 1450h0M1507 1758h0M1499 1688h0M1569 1481h0M1528 1704h0M1555 1539h0M1573 1765h0M1216 1842h0M1145 1843h0M1516 1455h0M1427 1800h0M1287 1821h0M1538 1862h0M1557 1755h0M1553 1356h0M1557 1559h0M1542 1657h0M1552 1531h0M1556 1807h0M1560 1768h0M1532 1675h0M1571 1637h0M1551 1488h0M1534 1806h0M1550 1340h0M1560 1661h0M1569 1417h0M1547 1614h0M1551 1795h0M1310 1855h0M1501 1479h0M1520 1845h0M1514 1423h0M1524 1859h0M1571 1434h0M1552 1614h0M1539 1700h0M1507 1844h0M1571 1499h0M1565 1528h0M1529 1842h0M1401 1839h0M1569 1735h0M1549 1612h0M1489 1854h0M1550 1861h0M1488 1832h0M1573 1789h0M1524 1852h0M1567 1631h0M1557 1846h0M1526 1555h0M1373 1746h0M1228 1650h0M1538 1846h0M1574 1489h0M1485 1750h0M1382 1701h0M1519 1749h0M1567 1593h0M1441 1856h0M1350 1846h0M1572 1439h0M1549 1676h0M1544 1781h0M1541 1317h0M1566 1685h0M1335 1817h0M1568 1329h0M1543 1863h0M1525 1401h0M1551 1452h0M1550 1356h0M1569 1296h0M1456 1775h0M1524 1710h0M1571 1402h0M1574 1705h0M1546 1859h0M1516 1371h0M1573 1737h0M1305 1808h0M1574 1632h0M1269 1709h0M1563 1744h0M1543 1851h0M1534 1613h0M1573 1786h0M1549 1574h0M1563 1795h0M1441 1864h0M1571 1470h0M1481 1704h0M1573 1775h0M1550 1852h0M1573 1598h0M1551 1594h0M1513 1858h0M1570 1379h0M1455 1863h0M1560 1678h0M1572 1288h0M1554 1721h0M1574 1588h0M1495 1760h0M1574 1426h0M1565 1476h0M1496 1669h0M1563 1357h0M1458 1806h0M1515 1532h0M1567 1687h0M1523 1738h0M1458 1668h0M1546 1840h0M1569 1318h0M1538 1758h0M1521 1571h0M1524 1562h0M1194 1799h0M1560 1494h0M1484 1836h0M1544 1854h0M1525 1669h0M1558 1592h0M1336 1716h0M1572 1282h0M1567 1719h0M1551 1316h0M1539 1723h0M1538 1360h0M1557 1719h0M1444 1674h0M1530 1854h0M1536 1863h0M1535 1800h0M1517 1671h0M1550 1564h0M1548 1833h0M1553 1503h0M1567 1538h0M1541 1858h0M1570 1387h0M1561 1837h0M1571 1745h0M1551 1859h0M1569 1813h0M1464 1554h0M1569 1431h0M1567 1535h0M1565 1351h0M1528 1862h0M1550 1739h0M1479 1701h0M1568 1826h0M1573 1755h0M1537 1862h0M1421 1743h0M1573 1554h0M1452 1864h0M1190 1793h0M1153 1846h0M1535 1849h0M1569 1651h0M1453 1859h0M1484 1527h0M1541 1310h0M1552 1630h0M1562 1793h0M1569 1709h0M1552 1422h0M1508 1725h0M1532 1342h0M1542 1855h0M1164 1849h0M1553 1427h0M1555 1624h0M1557 1841h0M1556 1525h0M1516 1853h0M1410 1780h0M1554 1708h0M1478 1756h0M1535 1421h0M1544 1830h0M1547 1848h0M1479 1856h0M1570 1821h0M1530 1577h0M1571 1487h0M1538 1617h0M1451 1680h0M1297 1802h0M1562 1637h0M1537 1863h0M1536 1552h0M1526 1361h0M1543 1503h0M1570 1623h0M1521 1554h0M1529 1609h0M1571 1784h0M1230 1781h0M1546 1339h0M1533 1857h0M1572 1556h0M1566 1473h0M1413 1670h0M1545 1651h0M1480 1718h0M1574 1626h0M1521 1797h0M1531 1466h0M1574 1752h0M1553 1549h0M1556 1839h0M1561 1468h0M1560 1717h0M1554 1491h0M1091 1787h0M1487 1553h0M1542 1685h0M1570 1402h0M1564 1663h0M1521 1761h0M1266 1769h0M1552 1853h0M1541 1519h0M1461 1842h0M1560 1741h0M1558 1848h0M1570 1722h0M1572 1743h0M1566 1825h0M1270 1742h0M1484 1594h0M1568 1409h0M1151 1832h0M1574 1599h0M1564 1662h0M1127 1833h0M1564 1497h0M1568 1778h0M1515 1598h0M1537 1682h0M1523 1791h0M1554 1377h0M1129 1830h0M1535 1864h0M1531 1511h0M1540 1488h0M1525 1664h0M1554 1853h0M1539 1731h0M1534 1579h0M1567 1676h0M1574 1288h0M1504 1826h0M1505 1840h0M1548 1429h0M1248 1815h0M1516 1505h0M1448 1837h0M1569 1329h0M1570 1588h0M1293 1861h0M1430 1836h0M1279 1759h0M1509 1570h0M1166 1829h0M1220 1803h0M1397 1555h0M1534 1863h0M1539 1863h0M1522 1494h0M1553 1605h0M1565 1337h0M1545 1833h0M1521 1785h0M1549 1614h0M1289 1812h0M1202 1808h0M1539 1852h0M1571 1778h0M1552 1749h0M1569 1397h0M1573 1472h0M1520 1806h0M1543 1829h0M1549 1495h0M1566 1290h0M1545 1638h0M1550 1801h0M1536 1778h0M1484 1792h0M1571 1766h0M1570 1658h0M1501 1851h0M1519 1638h0M1560 1809h0M1152 1836h0M1520 1758h0M1457 1860h0M1480 1830h0M1410 1863h0M1520 1643h0M1515 1480h0M1559 1845h0M1568 1724h0M1570 1748h0M1206 1859h0M1487 1573h0M1523 1711h0M1554 1401h0M1549 1524h0M1550 1596h0M1545 1825h0M1458 1585h0M1555 1849h0M1555 1306h0M1572 1500h0M1574 1307h0M1532 1501h0M1569 1384h0M1526 1557h0M1573 1660h0M1570 1456h0M1454 1834h0M1560 1632h0M1439 1842h0M1552 1326h0M1502 1617h0M1555 1455h0M1445 1850h0M1541 1465h0M1571 1280h0M1573 1429h0M1573 1652h0M1558 1668h0M1545 1854h0M1569 1595h0M1538 1707h0M1363 1850h0M1488 1784h0M1571 1609h0M1521 1392h0M1556 1331h0M1569 1799h0M1230 1859h0M1570 1410h0M1154 1803h0M1451 1779h0M1457 1754h0M1470 1849h0M1573 1799h0M1560 1337h0M1519 1419h0M1451 1799h0M1523 1710h0M1545 1863h0M1548 1863h0M1501 1830h0M1561 1838h0M1454 1640h0M1569 1603h0M1337 1855h0M1570 1591h0M1566 1342h0M1560 1658h0M1562 1759h0M1359 1772h0M1538 1376h0M1519 1760h0M1476 1463h0M1571 1388h0M1572 1760h0M1460 1861h0M1564 1756h0M1528 1840h0M1565 1690h0M1535 1699h0M1570 1734h0M1544 1710h0M1534 1475h0M1574 1382h0M1532 1804h0M1527 1357h0M1470 1813h0M1557 1834h0M1571 1530h0M1565 1563h0M1555 1732h0M1264 1801h0M1567 1747h0M1571 1312h0M1552 1831h0M1466 1729h0M1533 1456h0M1328 1854h0M1509 1833h0M1552 1858h0M1563 1345h0M1535 1603h0M1572 1568h0M1525 1710h0M1239 1831h0M1558 1781h0M1536 1850h0M1552 1848h0M1571 1750h0M1495 1809h0M1554 1735h0M1363 1606h0M1525 1713h0M1543 1859h0M1518 1378h0M1573 1499h0M1543 1857h0M1480 1752h0M1497 1554h0M1545 1612h0M1176 1845h0M1572 1329h0M1464 1864h0M1282 1864h0M1498 1582h0M1506 1681h0M1563 1369h0M1571 1382h0M1552 1793h0M1559 1811h0M1523 1545h0M1568 1729h0M1198 1859h0M1573 1723h0M1516 1864h0M1521 1599h0M1531 1691h0M1443 1862h0M1458 1766h0M1493 1775h0M1541 1634h0M1451 1863h0M1569 1774h0M1525 1436h0M1536 1817h0M1253 1813h0M1541 1409h0M1571 1786h0M1454 1789h0M1376 1816h0M1558 1754h0M1559 1456h0M1537 1464h0M1251 1859h0M1555 1807h0M1549 1617h0M1532 1499h0M1557 1568h0M1417 1862h0M1391 1864h0M1533 1569h0M1545 1801h0M1514 1415h0M1572 1621h0M1545 1864h0M1563 1606h0M1536 1683h0M1196 1786h0M1223 1854h0M1454 1642h0M1552 1734h0M1483 1799h0M1484 1684h0M1519 1833h0M1534 1448h0M1555 1848h0M1573 1581h0M1570 1795h0M1568 1283h0M1517 1370h0M1571 1534h0M1561 1828h0M1569 1526h0M1366 1818h0M1565 1456h0M1563 1725h0M1533 1702h0M1474 1844h0M1569 1720h0M1537 1340h0M1498 1530h0M1574 1336h0M1223 1779h0M1554 1854h0M1573 1734h0M1493 1860h0M1571 1411h0M1171 1805h0M1088 1794h0M1571 1413h0M1365 1721h0M1569 1695h0M1540 1644h0M1523 1511h0M1529 1727h0M1548 1810h0M1537 1822h0M1528 1747h0M1572 1691h0M1448 1639h0M1568 1333h0M1535 1861h0M1534 1818h0M1540 1845h0M1552 1328h0M1524 1863h0M1478 1864h0M1429 1808h0M1564 1427h0M1505 1794h0M1539 1855h0M1208 1781h0M1574 1608h0M1489 1864h0M1525 1594h0M1505 1759h0M1483 1589h0M1541 1464h0M1444 1728h0M1540 1643h0M1480 1857h0M1536 1539h0M1556 1845h0M1556 1364h0M1547 1690h0M1269 1781h0M1557 1802h0M1444 1685h0M1215 1817h0M1568 1714h0M1562 1630h0M1530 1824h0M1568 1717h0M1514 1399h0M1524 1470h0M1552 1855h0M1215 1797h0M1565 1306h0M1521 1836h0M1546 1858h0M1571 1738h0M1563 1679h0M1548 1743h0M1473 1860h0M1541 1721h0M1387 1864h0M1569 1336h0M1525 1653h0M1510 1769h0M1516 1839h0M1516 1836h0M1496 1807h0M1541 1714h0M1562 1590h0M1567 1830h0M1572 1625h0M1570 1365h0M1562 1829h0M1573 1801h0M1201 1791h0M1537 1375h0M1573 1573h0M1521 1459h0M1567 1638h0M1563 1814h0M1542 1860h0M1458 1864h0M1566 1829h0M1523 1622h0M1539 1549h0M1202 1862h0M1570 1373h0M1527 1631h0M1477 1804h0M1559 1630h0M1569 1501h0M1538 1810h0M1570 1600h0M1569 1345h0M1542 1373h0M1546 1707h0M1462 1773h0M1565 1834h0M1548 1853h0M1562 1378h0M1547 1813h0M1522 1519h0M1537 1848h0M1254 1852h0M1548 1777h0M1451 1829h0M1424 1864h0M1486 1811h0M1573 1726h0M1550 1311h0M1535 1591h0M1528 1385h0M1165 1808h0M1549 1591h0M1461 1852h0M1571 1632h0M1568 1634h0M1508 1700h0M1574 1785h0M1568 1539h0M1570 1573h0M1519 1813h0M1568 1639h0M1562 1750h0M1571 1648h0M1570 1754h0M1564 1790h0M1551 1738h0M1570 1580h0M1518 1773h0M1445 1856h0M1541 1316h0M1491 1745h0M1562 1460h0M1531 1781h0M1558 1578h0M1522 1393h0M1569 1777h0M1551 1850h0M1555 1853h0M1537 1655h0M1573 1486h0M1572 1563h0M1544 1376h0M1091 1766h0M1559 1552h0M1539 1486h0M1512 1799h0M1553 1551h0M1528 1843h0M1526 1837h0M1518 1792h0M1459 1497h0M1361 1744h0M1557 1557h0M1450 1861h0M1543 1491h0M1326 1862h0M1529 1455h0M1260 1860h0M1500 1843h0M1520 1816h0M1555 1578h0M1518 1718h0M1523 1793h0M1573 1583h0M1260 1801h0M1536 1834h0M1170 1835h0M1572 1427h0M1354 1861h0M1538 1825h0M1284 1863h0M1510 1828h0M1554 1501h0M1477 1432h0M1524 1820h0M1501 1860h0M1571 1535h0M1444 1770h0M1553 1844h0M1564 1559h0M1506 1795h0M1515 1585h0M1552 1664h0M1447 1864h0M1563 1283h0M1545 1474h0M1518 1717h0M1240 1849h0M1556 1404h0M1568 1286h0M1284 1756h0M1473 1851h0M1572 1476h0M1514 1607h0M1527 1861h0M1558 1847h0M1555 1844h0M1529 1493h0M1492 1576h0M1525 1542h0M1552 1483h0M1560 1600h0M1404 1734h0M1544 1322h0M1515 1710h0M1193 1860h0M1520 1850h0M1563 1379h0M1552 1412h0M1566 1691h0M1570 1803h0M1142 1842h0M1541 1859h0M1571 1332h0M1567 1745h0M1560 1754h0M1496 1576h0M1522 1480h0M1550 1662h0M1472 1804h0M1314 1808h0M1540 1862h0M1459 1588h0M1566 1678h0M1568 1497h0M1230 1849h0M1540 1850h0M1498 1810h0M1434 1864h0M1570 1732h0M1554 1713h0M1569 1652h0M1566 1803h0M1566 1425h0M1520 1863h0M1522 1736h0M1486 1862h0M1529 1429h0M1533 1394h0M1553 1849h0M1563 1639h0M1502 1736h0M1533 1856h0M1557 1809h0M1524 1857h0M1524 1639h0M1563 1799h0M1472 1840h0M1445 1863h0M1538 1864h0M1382 1769h0M1527 1841h0M1537 1835h0M1456 1828h0M1320 1754h0M1555 1706h0M1548 1818h0M1553 1839h0M1568 1815h0M1552 1760h0M1550 1767h0M1476 1864h0M1539 1848h0M1530 1543h0M1518 1610h0M1095 1798h0M1547 1854h0M1532 1522h0M1540 1563h0M1571 1721h0M1396 1855h0M1568 1784h0M1554 1380h0M1531 1733h0M1537 1400h0M1571 1802h0M1555 1833h0M1534 1356h0M1476 1816h0M1570 1598h0M1535 1536h0M1568 1623h0M1564 1747h0M1539 1858h0M1563 1336h0M1531 1772h0M1559 1838h0M1569 1754h0M1569 1667h0M1569 1504h0M1504 1600h0M1525 1427h0M1570 1439h0M1569 1326h0M1571 1376h0M1374 1698h0M1552 1676h0M1316 1730h0M1569 1634h0M1238 1719h0M1485 1791h0M1546 1760h0M1569 1786h0M1571 1438h0M1550 1765h0M1564 1350h0M1564 1622h0M1543 1846h0M1523 1683h0M1553 1436h0M1573 1663h0M1550 1811h0M1522 1750h0M1541 1635h0M1574 1291h0M1523 1569h0M1541 1841h0M1574 1500h0M1545 1822h0M1573 1689h0M1537 1561h0M1536 1864h0M1096 1822h0M1525 1504h0M1570 1538h0M1268 1847h0M1556 1788h0M1510 1488h0M1530 1670h0M1554 1831h0M1522 1681h0M1552 1666h0M1494 1600h0M1568 1767h0M1569 1387h0M1527 1729h0M1572 1789h0M1521 1479h0M1551 1826h0M1555 1584h0M1573 1756h0M1555 1379h0M1493 1707h0M1443 1864h0M1571 1568h0M1571 1471h0M1515 1857h0M1384 1751h0M1570 1291h0M1135 1710h0M1569 1712h0M1568 1458h0M1368 1863h0M1569 1658h0M1498 1672h0M1513 1786h0M1570 1797h0M1492 1857h0M1458 1795h0M1407 1763h0M1550 1781h0M1572 1735h0M1572 1451h0M1320 1861h0M1517 1489h0M1571 1572h0M1420 1652h0M1534 1864h0M1558 1767h0M1177 1819h0M1553 1854h0M1551 1841h0M1541 1795h0M1518 1745h0M1559 1623h0M1265 1862h0M1508 1852h0M1570 1705h0M1527 1675h0M1521 1667h0M1517 1669h0M1560 1772h0M1570 1617h0M1574 1788h0M1455 1763h0M1571 1665h0M1564 1734h0M1558 1722h0M1568 1654h0M1383 1862h0M1558 1643h0M1539 1556h0M1574 1463h0M1527 1644h0M1499 1722h0M1570 1746h0M1526 1838h0M1570 1707h0M1434 1754h0M1442 1844h0M1552 1317h0M1533 1845h0M1568 1607h0M1531 1702h0M1512 1684h0M1548 1524h0M1567 1819h0M1536 1784h0M1428 1834h0M1524 1840h0M1502 1794h0M1552 1353h0M1556 1618h0M1091 1622h0M1493 1593h0M1568 1525h0M1484 1757h0M1457 1782h0M1572 1646h0M1403 1670h0M1539 1838h0M1519 1535h0M1567 1630h0M1549 1782h0M1553 1818h0M1530 1673h0M1569 1682h0M1533 1863h0M1240 1862h0M1518 1850h0M1554 1843h0M1562 1311h0M1526 1544h0M1554 1821h0M1538 1860h0M1570 1700h0M1507 1805h0M1516 1826h0M1537 1858h0M1465 1682h0M1569 1510h0M1571 1640h0M1530 1377h0M1531 1444h0M1563 1830h0M1519 1632h0M1498 1646h0M1480 1775h0M1289 1858h0M1570 1740h0M1544 1480h0M1573 1697h0M1568 1304h0M1572 1778h0M1574 1487h0M1571 1771h0M1414 1612h0M1564 1818h0M1492 1837h0M1547 1787h0M1555 1740h0M1546 1363h0M1555 1691h0M1464 1858h0M1568 1488h0M1496 1667h0M1554 1302h0M1568 1289h0M1568 1312h0M1462 1777h0M1559 1831h0M1568 1586h0M1572 1337h0M1479 1725h0M1562 1819h0M1283 1861h0M1561 1500h0M1524 1803h0M1352 1813h0M1556 1850h0M1539 1498h0M1506 1641h0M1553 1804h0M1202 1859h0M1521 1498h0M1355 1860h0M1538 1396h0M1544 1857h0M1530 1363h0M1471 1757h0M1533 1436h0M1546 1745h0M1203 1863h0M1572 1696h0M1515 1681h0M1567 1286h0M1431 1800h0M1552 1845h0M1523 1547h0M1542 1806h0M1526 1509h0M1541 1836h0M1540 1609h0M1506 1472h0M1549 1810h0M1295 1734h0M1574 1786h0M1482 1863h0M1527 1820h0M1570 1280h0M1522 1586h0M1566 1646h0M1569 1579h0M1563 1664h0M1543 1756h0M1557 1671h0M1553 1852h0M1564 1425h0M1277 1785h0M1539 1750h0M1572 1653h0M1535 1860h0M1569 1632h0M1562 1832h0M1573 1311h0M1552 1658h0M1534 1464h0M1573 1780h0M1572 1385h0M1571 1585h0M1406 1864h0M1539 1787h0M1561 1352h0M1567 1811h0M1514 1571h0M1561 1694h0M1518 1818h0M1543 1845h0M1549 1715h0M1503 1727h0M1570 1360h0M1562 1359h0M1570 1353h0M1549 1845h0M1552 1741h0M1490 1749h0M1568 1804h0M1491 1670h0M1517 1750h0M1521 1765h0M1542 1864h0M1551 1799h0M1546 1396h0M1533 1708h0M1567 1685h0M1549 1833h0M1459 1544h0M1570 1297h0M1551 1398h0M1569 1614h0M1503 1614h0M1567 1827h0M1543 1724h0M1519 1832h0M1481 1787h0M1571 1328h0M1561 1351h0M1568 1751h0M1554 1852h0M1530 1860h0M1559 1847h0M1551 1778h0M1554 1580h0M1555 1803h0M1574 1800h0M1139 1800h0M1532 1529h0M1549 1749h0M1532 1813h0M1549 1860h0M1570 1806h0M1571 1620h0M1450 1860h0M1571 1676h0M1560 1289h0M1470 1735h0M1540 1765h0M1536 1794h0M1520 1573h0M1459 1848h0M1572 1806h0M1261 1842h0M1573 1542h0M1561 1393h0M1530 1749h0M1501 1809h0M1523 1461h0M1569 1657h0M1206 1826h0M1569 1780h0M1521 1482h0M1461 1552h0M1447 1809h0M1573 1392h0M1540 1855h0M1223 1863h0M1527 1426h0M1552 1505h0M1568 1300h0M1573 1342h0M1514 1669h0M1270 1734h0M1288 1762h0M1483 1824h0M1528 1820h0M1327 1820h0M1557 1405h0M1570 1778h0M1553 1742h0M1355 1737h0M1440 1740h0M1552 1785h0M1500 1863h0M1317 1864h0M1507 1815h0M1555 1461h0M1569 1543h0M1558 1800h0M1446 1826h0M1539 1349h0M1518 1807h0M1523 1635h0M1539 1375h0M1440 1591h0M1569 1794h0M1516 1558h0M1559 1699h0M1548 1721h0M1126 1777h0M1465 1757h0M1562 1672h0M1568 1527h0M1549 1423h0M1472 1827h0M1305 1857h0M1466 1680h0M1564 1743h0M1529 1863h0M1519 1704h0M1564 1592h0M1558 1533h0M1571 1692h0M1519 1589h0M1525 1777h0M1544 1551h0M1555 1721h0M1521 1864h0M1549 1520h0M1526 1422h0M1538 1759h0M1544 1728h0M1573 1384h0M1529 1862h0M1145 1776h0M1554 1822h0M1568 1814h0M1543 1853h0M1445 1818h0M1573 1409h0M1191 1858h0M1302 1786h0M1556 1579h0M1564 1461h0M1370 1666h0M1571 1790h0M1571 1573h0M1523 1864h0M1571 1759h0M1570 1559h0M1573 1797h0M1543 1833h0M1572 1341h0M1494 1540h0M1503 1629h0M1571 1793h0M1425 1666h0M1520 1731h0M1544 1411h0M1573 1790h0M1568 1402h0M1516 1579h0M1555 1582h0M1323 1833h0M1568 1803h0M1523 1858h0M1515 1846h0M1570 1816h0M1518 1858h0M1522 1391h0M1572 1453h0M1573 1624h0M1467 1581h0M1573 1605h0M1562 1444h0M1571 1480h0M1539 1501h0M1569 1589h0M1516 1652h0M1540 1848h0M1527 1863h0M1516 1451h0M1481 1863h0M1569 1499h0M1558 1844h0M1561 1578h0M1563 1686h0M1519 1496h0M1552 1825h0M1526 1855h0M1530 1463h0M1532 1639h0M1573 1640h0M1412 1811h0M1560 1567h0M1570 1721h0M1396 1784h0M1570 1506h0M1561 1826h0M1549 1542h0M1562 1296h0M1543 1844h0M1526 1721h0M1570 1681h0M1523 1834h0M1529 1699h0M1569 1339h0M1459 1817h0M1492 1818h0M1546 1528h0M1569 1536h0M1556 1486h0M1572 1524h0M1290 1858h0M1544 1741h0M1313 1785h0M1550 1299h0M1573 1763h0M1554 1366h0M1548 1860h0M1515 1459h0M1308 1821h0M1536 1853h0M1522 1833h0M1309 1794h0M1548 1624h0M1527 1428h0M1505 1816h0M1573 1435h0M1547 1623h0M1550 1415h0M1573 1381h0M1463 1614h0M1313 1854h0M1552 1408h0M1399 1642h0M1535 1531h0M1500 1858h0M1522 1852h0M1571 1439h0M1543 1749h0M1529 1845h0M1484 1781h0M1533 1684h0M1571 1810h0M1521 1575h0M1536 1800h0M1523 1564h0M1466 1786h0M1566 1826h0M1547 1853h0M1548 1661h0M1559 1578h0M1569 1378h0M1531 1456h0M1539 1681h0M1289 1756h0M1443 1794h0M1557 1780h0M1572 1290h0M1572 1539h0M1364 1663h0M1502 1864h0M1534 1852h0M1562 1838h0M1573 1564h0M1559 1320h0M1537 1843h0M1235 1770h0M1566 1822h0M1569 1681h0M1514 1561h0M1545 1485h0M1509 1726h0M1563 1368h0M1569 1381h0M1514 1806h0M1568 1691h0M1378 1860h0M1390 1670h0M1528 1711h0M1563 1316h0M1220 1813h0M1525 1579h0M1545 1508h0M1535 1546h0M1569 1824h0M1216 1844h0M1475 1851h0M1553 1744h0M1332 1595h0M1566 1805h0M1302 1859h0M1482 1645h0M1572 1788h0M1562 1388h0M1549 1861h0M1372 1731h0M1548 1598h0M1523 1747h0M1484 1573h0M1571 1367h0M1230 1842h0M1501 1847h0M1550 1625h0M1572 1757h0M1491 1823h0M1336 1861h0M1546 1391h0M1569 1715h0M1359 1725h0M1365 1852h0M1491 1848h0M1572 1637h0M1508 1399h0M1549 1455h0M1570 1619h0M1571 1680h0M1568 1473h0M1503 1825h0M1516 1803h0M1535 1857h0M1518 1724h0M1571 1595h0M1520 1418h0M1561 1844h0M1568 1578h0M1172 1853h0M1569 1492h0M1568 1822h0M1569 1618h0M1447 1829h0M1547 1376h0M1563 1721h0M1540 1863h0M1539 1736h0M1527 1661h0M1569 1792h0M1562 1416h0M1465 1802h0M1571 1467h0M1572 1765h0M1527 1472h0M1469 1822h0M1551 1847h0M1504 1777h0M1560 1444h0M1464 1563h0M1482 1732h0M1533 1623h0M1523 1785h0M1554 1399h0M1151 1840h0M1562 1740h0M1548 1587h0M1140 1836h0M1473 1700h0M1569 1599h0M1539 1592h0M1510 1784h0M1568 1400h0M1322 1829h0M1267 1864h0M1535 1851h0M1516 1648h0M1559 1844h0M1569 1822h0M1548 1599h0M1568 1679h0M1563 1363h0M1543 1562h0M1553 1850h0M1533 1549h0M1553 1330h0M1344 1840h0M1569 1506h0M1338 1697h0M1569 1365h0M1539 1590h0M1549 1858h0M1547 1811h0M1539 1668h0M1542 1752h0M1552 1818h0M1514 1805h0M1517 1648h0M1505 1502h0M1520 1536h0M1522 1623h0M1531 1384h0M1457 1848h0M1553 1502h0M1559 1827h0M1529 1838h0M1502 1702h0M1461 1645h0M1550 1815h0M1549 1660h0M1450 1722h0M1545 1740h0M1565 1828h0M1555 1843h0M1538 1334h0M1534 1858h0M1455 1862h0M1552 1381h0M1516 1597h0M1297 1857h0M1566 1827h0M1464 1808h0M1517 1796h0M1569 1437h0M1555 1332h0M1527 1365h0M1571 1605h0M1568 1690h0M1542 1431h0M1521 1805h0M1534 1824h0M1140 1816h0M1548 1619h0M1447 1813h0M1483 1587h0M1550 1823h0M1552 1596h0M1550 1549h0M1572 1604h0M1551 1821h0M1518 1497h0M1556 1717h0M1570 1738h0M1247 1712h0M1528 1703h0M1377 1828h0M1568 1627h0M1566 1613h0M1482 1803h0M1570 1527h0M1570 1800h0M1198 1822h0M1569 1515h0M1529 1724h0M1542 1699h0M1563 1797h0M1263 1864h0M1568 1360h0M1561 1701h0M1573 1708h0M1532 1528h0M1552 1417h0M1574 1328h0M1519 1611h0M1569 1820h0M1551 1787h0M1521 1433h0M1528 1539h0M1416 1828h0M1483 1677h0M1547 1733h0M1562 1611h0M1492 1750h0M1550 1724h0M1287 1792h0M1505 1851h0M1515 1541h0M1568 1808h0M1572 1595h0M1572 1522h0M1471 1827h0M1542 1775h0M1500 1845h0M1542 1660h0M1560 1521h0M1573 1519h0M1522 1382h0M1564 1807h0M1476 1592h0M1564 1668h0M1353 1663h0M1556 1492h0M1533 1372h0M1557 1678h0M1559 1820h0M1535 1734h0M1573 1782h0M1568 1587h0M1278 1846h0M1563 1737h0M1533 1784h0M1573 1328h0M1526 1445h0M1555 1310h0M1541 1597h0M1524 1792h0M1573 1761h0M1571 1581h0M1573 1327h0M1563 1335h0M1553 1851h0M1403 1818h0M1574 1759h0M1556 1594h0M1516 1483h0M1551 1530h0M1401 1804h0M1570 1757h0M1558 1648h0M1478 1858h0M1511 1778h0M1472 1572h0M1570 1537h0M1545 1310h0M1573 1480h0M1572 1740h0M1553 1685h0M1555 1600h0M1217 1791h0M1571 1712h0M1557 1716h0M1550 1795h0M1376 1715h0M1548 1814h0M1564 1670h0M1520 1811h0M1569 1299h0M1247 1817h0M1533 1607h0M1551 1721h0M1348 1525h0M1566 1760h0M1546 1358h0M1559 1741h0M1552 1827h0M1498 1844h0M1531 1846h0M1444 1820h0M1553 1370h0M1572 1505h0M1496 1639h0M1440 1621h0M1536 1449h0M1530 1630h0M1196 1842h0M1552 1720h0M1540 1813h0M1519 1581h0M1534 1336h0M1557 1835h0M1548 1674h0M1570 1662h0M1551 1461h0M1449 1862h0M1571 1600h0M1561 1417h0M1517 1691h0M1565 1804h0M1558 1715h0M1535 1688h0M1293 1848h0M1327 1701h0M1541 1863h0M1549 1859h0M1116 1834h0M1549 1453h0M1550 1856h0M1569 1677h0M1528 1807h0M1557 1812h0M1529 1355h0M1568 1641h0M1566 1287h0M1509 1759h0M1564 1314h0M1484 1632h0M1574 1571h0M1453 1858h0M1521 1863h0M1547 1348h0M1555 1619h0M1568 1446h0M1551 1676h0M1518 1424h0M1553 1669h0M1533 1862h0M1555 1662h0M1564 1463h0M1470 1752h0M1550 1860h0M1569 1716h0M1521 1649h0M1517 1479h0M1571 1583h0M1572 1503h0M1568 1693h0M1516 1860h0M1519 1547h0M1550 1858h0M1563 1605h0M1550 1446h0M1562 1491h0M1524 1543h0M1562 1356h0M1543 1862h0M1456 1717h0M1554 1805h0M1569 1812h0M1516 1634h0M1568 1782h0M1544 1704h0M1465 1686h0M1374 1535h0M1529 1634h0M1539 1605h0M1550 1855h0M1497 1843h0M1566 1468h0M1519 1598h0M1534 1799h0M1557 1686h0M1109 1817h0M1556 1840h0M1536 1852h0M1216 1862h0M1488 1721h0M1553 1819h0M1573 1339h0M1529 1733h0M1559 1685h0M1286 1852h0M1550 1798h0M1548 1805h0M1527 1680h0M1567 1793h0M1528 1493h0M1572 1514h0M1557 1694h0M1530 1845h0M1573 1685h0M1549 1491h0M1516 1837h0M1549 1528h0M1572 1584h0M1533 1770h0M1564 1507h0M1528 1741h0M1568 1673h0M1553 1327h0M1554 1356h0M1573 1760h0M1557 1805h0M1554 1555h0M1474 1607h0M1537 1829h0M1554 1744h0M1546 1708h0M1479 1853h0M1553 1465h0M1477 1840h0M1450 1774h0M1550 1480h0M1338 1506h0M1515 1564h0M1358 1844h0M1573 1742h0M1443 1719h0M1569 1288h0M1457 1846h0M1514 1864h0M1569 1305h0M1560 1826h0M1445 1514h0M1565 1425h0M1573 1800h0M1544 1585h0M1514 1655h0M1339 1862h0M1538 1763h0M1550 1859h0M1557 1628h0M1572 1615h0M1571 1571h0M1518 1857h0M1570 1690h0M1555 1607h0M1571 1288h0M1143 1824h0M1533 1861h0M1536 1488h0M1556 1693h0M1556 1726h0M1556 1412h0M1531 1822h0M1539 1654h0M1544 1787h0M1519 1397h0M1454 1631h0M1561 1706h0M1572 1466h0M1543 1338h0M1472 1739h0M1313 1740h0M1574 1773h0M1308 1862h0M1417 1857h0M1571 1454h0M1352 1848h0M1552 1703h0M1535 1466h0M1360 1837h0M1480 1835h0M1559 1734h0M1521 1857h0M1518 1802h0M1520 1499h0M1572 1686h0M1556 1675h0M1570 1536h0M1568 1678h0M1542 1797h0M1539 1857h0M1544 1793h0M1550 1698h0M1545 1319h0M1427 1831h0M1438 1708h0M1533 1848h0M1526 1514h0M1569 1668h0M1449 1736h0M1569 1511h0M1536 1771h0M1420 1710h0M1555 1372h0M1565 1775h0M1567 1542h0M1440 1635h0M1565 1408h0M1315 1741h0M1565 1760h0M1533 1809h0M1544 1855h0M1468 1763h0M1547 1807h0M1574 1718h0M1521 1711h0M1538 1813h0M1542 1436h0M1280 1855h0M1543 1347h0M1566 1571h0M1557 1582h0M1516 1838h0M1549 1439h0M1550 1718h0M1548 1821h0M1536 1855h0M1525 1567h0M1535 1843h0M1449 1775h0M1543 1388h0M1555 1768h0M1574 1746h0M1569 1428h0M1168 1815h0M1559 1664h0M1568 1759h0M1563 1487h0M1450 1688h0M1568 1517h0M1510 1384h0M1515 1596h0M1544 1808h0M1460 1784h0M1574 1302h0M1552 1860h0M1548 1658h0M1505 1710h0M1276 1799h0M1494 1714h0M1571 1498h0M1573 1502h0M1569 1586h0M1528 1693h0M1552 1796h0M1356 1826h0M1443 1860h0M1315 1726h0M1564 1689h0M1572 1588h0M1331 1858h0M1336 1830h0M1573 1767h0M1522 1846h0M1534 1789h0M1570 1595h0M1563 1293h0M1285 1764h0M1560 1833h0M1557 1822h0M1551 1484h0M1532 1379h0M1502 1638h0M1568 1291h0M1574 1794h0M1367 1831h0M1539 1843h0M1571 1654h0M1407 1484h0M1568 1464h0M1517 1864h0M1524 1860h0M1566 1817h0M1568 1470h0M1572 1763h0M1327 1762h0M1224 1863h0M1564 1353h0M1533 1804h0M1516 1811h0M1570 1408h0M1376 1845h0M1460 1574h0M1548 1714h0M1524 1488h0M1557 1440h0M1452 1753h0M1547 1407h0M1562 1579h0M1506 1831h0M1559 1300h0M1545 1412h0M1556 1815h0M1572 1326h0M1351 1844h0M1471 1861h0M1555 1672h0M1570 1528h0M1571 1666h0M1559 1303h0M1515 1566h0M1545 1318h0M1571 1815h0M1114 1772h0M1361 1675h0M1210 1781h0M1389 1714h0M1570 1689h0M1551 1309h0M1561 1840h0M1547 1418h0M1517 1861h0M1569 1708h0M1528 1858h0M1483 1703h0M1564 1746h0M1547 1832h0M1513 1606h0M1444 1474h0M1526 1561h0M1552 1413h0M1557 1820h0M1521 1429h0M1487 1335h0M1495 1363h0M1465 1368h0M1420 1380h0M1431 1405h0M1499 1388h0M1472 1405h0M1398 1425h0M1375 1455h0M1338 1472h0M1294 1455h0M1505 1313h0M1090 1666h0M1137 1856h0M1098 1586h0M909 1494h0M1064 1852h0M1198 1768h0M1160 1469h0M880 1763h0M1064 1795h0M1128 1780h0M1060 1756h0M1147 1709h0M1030 1533h0M1048 1460h0M933 1809h0M1124 1525h0M891 1744h0M1133 1621h0M1083 1636h0M1171 1693h0M1028 1815h0M1013 1563h0M1168 1783h0M977 1468h0M893 1730h0M1037 1627h0M884 1617h0M883 1779h0M1049 1593h0M960 1639h0M873 1790h0M1003 1836h0M1154 1694h0M1160 1742h0M1084 1854h0M1188 1801h0M1109 1548h0M1037 1776h0M1143 1575h0M1181 1768h0M1014 1714h0M1095 1644h0M1160 1668h0M983 1584h0M1146 1556h0M918 1729h0M1167 1772h0M946 1821h0M1127 1859h0M1017 1733h0M950 1719h0M1135 1855h0M1009 1640h0M1102 1698h0M995 1767h0M1187 1737h0M996 1726h0M926 1668h0M1189 1659h0M854 1540h0M962 1826h0M993 1700h0M853 1461h0M1037 1848h0M1120 1470h0M873 1789h0M926 1744h0M1029 1845h0M1195 1597h0M995 1657h0M1060 1574h0M979 1482h0M1134 1669h0M1087 1654h0M872 1515h0M1063 1822h0M1021 1614h0M1148 1827h0M1030 1462h0M899 1728h0M1193 1622h0M1073 1743h0M902 1584h0M1015 1838h0M1196 1857h0M1057 1630h0M1080 1764h0M1136 1818h0M1126 1759h0M1196 1547h0M822 1513h0M929 1484h0M850 1634h0M899 1597h0M951 1624h0M812 1716h0M792 1735h0M801 1775h0M844 1780h0M870 1791h0M947 1760h0" stroke="#3aab6b" stroke-width="26.6" stroke-linecap="round" fill="none"/>
<path d="M1374 1770h0M1219 1854h0M1210 1867h0M1428 1865h0M1423 1863h0M1320 1693h0M1475 1611h0M1203 1861h0M1267 1853h0M1520 1771h0M1488 1785h0M1213 1863h0M1496 1840h0M1477 1843h0M1517 1850h0M1475 1661h0M1505 1600h0M1250 1790h0M1273 1867h0M1493 1777h0M1530 1728h0M1479 1811h0M1524 1537h0M1493 1732h0M1489 1457h0M1355 1769h0M1191 1865h0M1249 1788h0M1257 1846h0M1529 1809h0M1470 1688h0M1528 1818h0M1391 1650h0M1272 1859h0M1327 1798h0M1344 1830h0M1396 1650h0M1498 1762h0M1495 1645h0M1514 1688h0M1408 1864h0M1487 1866h0M1311 1846h0M1206 1865h0M1239 1867h0M1512 1861h0M1386 1864h0M1526 1538h0M1452 1864h0M1383 1707h0M1279 1723h0M1466 1789h0M1193 1809h0M1521 1848h0M1283 1821h0M1514 1853h0M1520 1451h0M1519 1712h0M1323 1842h0M1194 1862h0M1343 1675h0M1435 1412h0M1520 1853h0M1303 1797h0M1534 1801h0M1490 1865h0M1492 1700h0M1509 1858h0M1516 1686h0M1509 1820h0M1504 1863h0M1272 1767h0M1269 1722h0M1491 1785h0M1258 1733h0M1490 1629h0M1428 1693h0M1312 1851h0M1332 1854h0M1421 1659h0M1389 1787h0M1535 1624h0M1461 1795h0M1189 1865h0M1158 1848h0M1447 1786h0M1375 1796h0M1515 1779h0M1337 1744h0M1462 1714h0M1536 1759h0M1461 1740h0M1437 1808h0M1541 1644h0M1541 1776h0M1513 1862h0M1432 1852h0M1220 1808h0M1534 1719h0M1492 1654h0M1544 1602h0M1411 1626h0M1523 1814h0M1463 1857h0M1372 1867h0M1471 1867h0M1378 1807h0M1214 1638h0M1527 1846h0M1506 1862h0M1525 1848h0M1537 1725h0M1231 1815h0M1424 1644h0M1487 1865h0M1527 1654h0M1438 1788h0M1503 1862h0M1330 1862h0M1204 1860h0M1365 1848h0M1460 1835h0M1189 1867h0M1506 1857h0M1448 1603h0M1521 1798h0M1523 1794h0M1497 1564h0M1523 1752h0M1414 1866h0M1258 1789h0M1341 1866h0M1524 1739h0M1354 1848h0M1441 1816h0M1345 1455h0M1470 1618h0M1367 1867h0M1402 1806h0M1305 1867h0M1345 1833h0M1200 1861h0M1327 1812h0M1510 1724h0M1531 1837h0M1546 1714h0M1488 1677h0M1533 1712h0M1520 1789h0M1461 1696h0M1522 1641h0M1496 1853h0M1195 1859h0M1241 1829h0M1485 1741h0M1455 1700h0M1509 1787h0M1492 1719h0M1339 1852h0M1505 1715h0M1532 1824h0M1496 1762h0M1488 1861h0M1340 1848h0M1474 1866h0M1347 1765h0M1495 1794h0M1443 1863h0M1533 1592h0M1540 1806h0M1521 1542h0M1347 1676h0M1312 1863h0M1465 1596h0M1521 1644h0M1500 1645h0M1454 1867h0M1456 1843h0M1265 1852h0M1524 1707h0M1524 1623h0M1502 1844h0M1398 1627h0M1478 1818h0M1350 1865h0M1523 1618h0M1338 1813h0M1298 1707h0M1531 1753h0M1536 1523h0M1503 1718h0M1436 1760h0M1356 1679h0M1256 1851h0M1362 1655h0M1343 1848h0M1472 1860h0M1279 1736h0M1459 1650h0M1231 1866h0M1331 1802h0M1532 1818h0M1418 1832h0M1381 1849h0M1544 1793h0M1486 1854h0M1348 1833h0M1434 1460h0M1490 1867h0M1533 1768h0M1145 1813h0M1522 1599h0M1337 1862h0M1465 1632h0M1504 1705h0M1439 1867h0M1515 1629h0M1489 1863h0M1339 1766h0M1246 1831h0M1477 1854h0M1480 1843h0M1441 1516h0M1521 1851h0M1532 1840h0M1459 1820h0M1342 1688h0M1323 1845h0M1422 1857h0M1517 1795h0M1308 1657h0M1521 1853h0M1511 1613h0M1458 1854h0M1420 1641h0M1269 1860h0M1509 1866h0M1408 1676h0M1506 1422h0M1377 1666h0M1509 1744h0M1401 1841h0M1284 1854h0M1388 1627h0M1512 1830h0M1500 1866h0M1398 1858h0M1394 1867h0M1417 1720h0M1200 1867h0M1537 1705h0M1493 1846h0M1483 1728h0M1371 1867h0M1510 1755h0M1515 1851h0M1543 1547h0M1339 1817h0M1539 1680h0M1507 1701h0M1481 1839h0M1393 1866h0M1303 1856h0M1214 1840h0M1375 1472h0M1510 1865h0M1460 1814h0M1328 1791h0M1495 1670h0M1493 1673h0M1360 1836h0M1507 1850h0M1335 1707h0M1476 1825h0M1498 1851h0M1490 1591h0M1448 1683h0M1529 1842h0M1298 1612h0M1539 1649h0M1435 1712h0M1541 1764h0M1484 1830h0M1265 1857h0M1480 1856h0M1184 1840h0M1295 1860h0M1409 1767h0M1232 1813h0M1416 1844h0M1543 1774h0M1391 1690h0M1499 1856h0M1307 1718h0M1423 1825h0M1516 1860h0M1470 1646h0M1230 1852h0M1461 1846h0M1464 1864h0M1456 1621h0M1303 1707h0M1477 1866h0M1406 1773h0M1522 1692h0M1319 1729h0M1515 1854h0M1464 1863h0M1336 1702h0M1200 1827h0M1199 1866h0M1480 1761h0M1366 1791h0M1424 1817h0M1430 1769h0M1455 1714h0M1514 1858h0M1447 1863h0M1426 1817h0M1462 1760h0M1226 1804h0M1463 1800h0M1401 1620h0M1527 1484h0M1520 1594h0M1456 1432h0M1281 1727h0M1215 1816h0M1277 1855h0M1520 1796h0M1517 1847h0M1372 1860h0M1279 1601h0M1533 1690h0M1248 1813h0M1392 1794h0M1476 1864h0M1518 1822h0M1345 1577h0M1392 1821h0M1289 1867h0M1521 1751h0M1546 1738h0M1369 1867h0M1271 1839h0M1463 1862h0M1323 1867h0M1154 1847h0M1391 1787h0M1478 1762h0M1448 1638h0M1334 1865h0M1487 1700h0M1412 1867h0M1489 1834h0M1489 1627h0M1506 1640h0M1201 1855h0M1330 1745h0M1186 1818h0M1266 1812h0M1462 1692h0M1288 1852h0M1203 1822h0M1503 1670h0M1508 1714h0M1437 1864h0M1326 1845h0M1509 1667h0M1502 1782h0M1429 1797h0M1346 1669h0M1316 1867h0M1343 1751h0M1505 1836h0M1377 1678h0M1486 1747h0M1546 1661h0M1499 1814h0M1504 1841h0M1313 1866h0M1508 1867h0M1514 1861h0M1200 1839h0M1499 1866h0M1478 1687h0M1481 1866h0M1536 1575h0M1309 1867h0M1525 1752h0M1522 1844h0M1238 1799h0M1308 1834h0M1191 1863h0M1503 1839h0M1544 1656h0M1484 1821h0M1429 1836h0M1501 1854h0M1528 1675h0M1285 1860h0M1511 1587h0M1456 1700h0M1294 1846h0M1523 1614h0M1355 1760h0M1459 1760h0M1225 1817h0M1515 1831h0M1412 1671h0M1228 1867h0M1309 1717h0M1461 1660h0M1327 1811h0M1510 1750h0M1386 1861h0M1525 1710h0M1284 1769h0M1476 1810h0M1515 1857h0M1500 1861h0M1275 1850h0M1465 1838h0M1298 1572h0M1239 1743h0M1404 1489h0M1506 1856h0M1487 1855h0M1406 1828h0M1516 1797h0M1486 1862h0M1481 1719h0M1535 1772h0M1509 1853h0M1504 1701h0M1500 1740h0M1488 1840h0M1486 1819h0M1515 1756h0M1338 1824h0M1484 1743h0M1539 1743h0M1514 1800h0M1545 1781h0M1278 1726h0M1464 1779h0M1468 1797h0M1488 1793h0M1417 1605h0M1497 1707h0M1253 1697h0M1209 1854h0M1187 1856h0M1499 1848h0M1321 1696h0M1466 1696h0M1408 1863h0M1514 1754h0M1445 1854h0M1544 1748h0M1521 1805h0M1360 1864h0M1523 1661h0M1347 1853h0M1424 1867h0M1504 1850h0M1364 1826h0M1487 1831h0M1483 1866h0M1486 1867h0M1524 1849h0M1266 1777h0M1385 1676h0M1516 1643h0M1482 1746h0M1533 1664h0M1303 1816h0M1508 1650h0M1471 1852h0M1264 1867h0M1444 1804h0M1459 1670h0M1168 1845h0M1473 1678h0M1399 1645h0M1221 1828h0M1194 1838h0M1539 1587h0M1462 1654h0M1197 1842h0M1381 1836h0M1448 1712h0M1312 1834h0M1471 1844h0M1522 1795h0M1349 1663h0M1491 1837h0M1371 1789h0M1487 1867h0M1504 1785h0M1204 1867h0M1298 1802h0M1491 1641h0M1482 1761h0M1499 1739h0M1313 1828h0M1512 1858h0M1198 1811h0M1491 1682h0M1515 1848h0M1364 1844h0M1426 1645h0M1207 1867h0M1250 1822h0M1502 1867h0M1478 1407h0M1448 1864h0M1489 1861h0M1188 1841h0M1252 1727h0M1489 1867h0M1333 1860h0M1204 1829h0M1495 1865h0M1501 1627h0M1340 1543h0M1184 1842h0M1520 1840h0M1505 1661h0M1454 1832h0M1475 1744h0M1268 1847h0M1489 1819h0M1405 1650h0M1515 1843h0M1211 1667h0M1522 1763h0M1545 1761h0M1367 1690h0M1400 1780h0M1529 1844h0M1345 1794h0M1483 1867h0M1520 1775h0M1350 1727h0M1497 1834h0M1228 1800h0M1305 1709h0M1328 1776h0M1443 1850h0M1510 1808h0M1229 1802h0M1327 1708h0M1532 1802h0M1478 1857h0M1292 1845h0M1473 1795h0M1271 1716h0M1399 1771h0M1516 1767h0M1385 1867h0M1196 1632h0M1454 1849h0M1514 1615h0M1512 1607h0M1340 1859h0M1292 1867h0M1472 1811h0M1496 1866h0M1410 1640h0M1342 1781h0M1534 1822h0M1278 1498h0M1319 1854h0M1388 1675h0M1524 1691h0M1502 1599h0M1208 1821h0M1518 1841h0M1511 1838h0M1342 1819h0M1284 1864h0M1495 1726h0M1301 1713h0M1318 1512h0M1532 1810h0M1236 1784h0M1486 1836h0M1521 1755h0M1266 1867h0M1502 1861h0M1529 1819h0M1275 1757h0M1379 1811h0M1371 1864h0M1546 1633h0M1493 1805h0M1356 1858h0M1394 1424h0M1500 1843h0M1209 1860h0M1546 1677h0M1383 1867h0M1511 1857h0M1536 1773h0M1263 1780h0M1502 1865h0M1229 1841h0M1350 1786h0M1501 1773h0M1306 1769h0M1415 1866h0M1519 1666h0M1477 1867h0M1449 1849h0M1295 1844h0M1280 1810h0M1161 1843h0M1463 1732h0M1520 1838h0M1502 1711h0M1212 1790h0M1458 1793h0M1468 1618h0M1321 1865h0M1338 1867h0M1235 1863h0M1189 1849h0M1465 1864h0M1457 1846h0M1252 1865h0M1478 1861h0M1475 1860h0M1522 1551h0M1421 1798h0M1409 1492h0M1381 1841h0M1429 1476h0M1536 1659h0M1207 1795h0M1540 1815h0M1486 1790h0M1217 1844h0M1190 1814h0M1514 1506h0M1519 1646h0M1197 1862h0M1495 1786h0M1515 1849h0M1428 1591h0M1365 1864h0M1479 1538h0M1347 1806h0M1270 1864h0M1360 1849h0M1334 1806h0M1524 1775h0M1490 1729h0M1441 1770h0M1445 1852h0M1319 1839h0M1477 1834h0M1528 1778h0M1456 1610h0M1360 1862h0M1215 1850h0M1212 1851h0M1507 1853h0M1511 1860h0M1388 1778h0M1526 1791h0M1507 1706h0M1448 1736h0M1536 1648h0M1160 1836h0M1459 1530h0M1420 1676h0M1481 1812h0M1440 1845h0M1407 1831h0M1373 1703h0M1460 1858h0M1365 1793h0M1476 1639h0M1374 1707h0M1543 1814h0M1497 1866h0M1459 1709h0M1468 1540h0M1464 1827h0M1391 1838h0M1542 1787h0M1237 1848h0M1472 1660h0M1544 1811h0M1485 1567h0M1466 1859h0M1371 1492h0M1463 1655h0M1498 1597h0M1512 1860h0M1463 1858h0M1293 1805h0M1389 1540h0M1201 1824h0M1366 1867h0M1365 1790h0M1493 1799h0M1471 1755h0M1466 1527h0M1417 1861h0M1510 1864h0M1465 1767h0M1374 1839h0M1284 1865h0M1535 1832h0M1436 1866h0M1532 1602h0M1431 1851h0M1201 1630h0M1370 1716h0M1364 1661h0M1458 1588h0M1406 1855h0M1367 1814h0M1512 1859h0M1296 1670h0M1472 1791h0M1404 1866h0M1253 1850h0M1335 1851h0M1330 1779h0M1383 1751h0M1233 1788h0M1256 1769h0M1518 1832h0M1504 1612h0M1310 1620h0M1323 1864h0M1501 1643h0M1478 1851h0M1482 1661h0M1253 1827h0M1348 1835h0M1491 1841h0M1407 1859h0M1526 1742h0M1244 1850h0M1460 1866h0M1368 1864h0M1503 1822h0M1535 1642h0M1528 1845h0M1195 1840h0M1388 1765h0M1499 1669h0M1388 1859h0M1248 1795h0M1279 1852h0M1402 1844h0M1487 1675h0M1474 1850h0M1148 1823h0M1356 1707h0M1481 1851h0M1245 1861h0M1492 1865h0M1408 1699h0M1353 1672h0M1423 1510h0M1507 1757h0M1437 1741h0M1425 1648h0M1256 1867h0M1500 1848h0M1469 1512h0M1469 1866h0M1391 1858h0M1368 1755h0M1494 1851h0M1463 1635h0M1388 1683h0M1266 1851h0M1520 1703h0M1284 1808h0M1441 1688h0M1247 1850h0M1309 1853h0M1303 1831h0M1246 1838h0M1182 1680h0M1227 1766h0M1473 1803h0M1428 1792h0M1173 1838h0M1485 1504h0M1339 1863h0M1194 1824h0M1361 1777h0M1493 1859h0M1523 1837h0M1294 1849h0M1396 1834h0M1497 1867h0M1486 1732h0M1535 1532h0M1460 1843h0M1476 1740h0M1280 1716h0M1231 1846h0M1299 1867h0M1424 1756h0M1463 1837h0M1430 1693h0M1523 1842h0M1473 1857h0M1228 1845h0M1545 1648h0M1545 1509h0M1519 1738h0M1482 1779h0M1543 1745h0M1362 1693h0M1194 1839h0M1435 1755h0M1398 1825h0M1466 1825h0M1247 1763h0M1470 1668h0M1340 1808h0M1339 1803h0M1323 1865h0M1463 1865h0M1415 1819h0M1528 1721h0M1511 1592h0M1504 1676h0M1408 1641h0M1473 1862h0M1514 1851h0M1398 1782h0M1314 1773h0M1424 1769h0M1529 1626h0M1529 1708h0M1383 1759h0M1522 1828h0M1507 1483h0M1201 1866h0M1470 1864h0M1524 1848h0M1434 1780h0M1247 1866h0M1518 1780h0M1358 1835h0M1267 1824h0M1498 1619h0M1187 1865h0M1461 1698h0M1197 1823h0M1496 1805h0M1277 1843h0M1506 1865h0M1316 1801h0M1201 1858h0M1445 1828h0M1389 1788h0M1379 1818h0M1497 1861h0M1349 1813h0M1344 1808h0M1543 1575h0M1472 1663h0M1513 1754h0M1393 1717h0M1530 1496h0M1365 1745h0M1462 1835h0M1470 1866h0M1381 1641h0M1451 1852h0M1328 1863h0M1170 1847h0M1434 1844h0M1284 1852h0M1367 1799h0M1540 1621h0M1477 1858h0M1476 1567h0M1513 1655h0M1216 1794h0M1351 1867h0M1281 1787h0M1317 1859h0M1481 1754h0M1303 1701h0M1480 1690h0M1512 1862h0M1468 1758h0M1513 1836h0M1490 1741h0M1381 1827h0M1202 1859h0M1458 1850h0M1442 1645h0M1473 1598h0M1483 1838h0M1233 1865h0M1512 1681h0M1423 1780h0M1471 1770h0M1378 1852h0M1502 1701h0M1367 1652h0M1437 1797h0M1500 1867h0M1491 1831h0M1547 1699h0M1231 1865h0M1211 1841h0M1293 1661h0M1271 1784h0M1333 1604h0M1487 1693h0M1441 1656h0M1243 1867h0M1489 1663h0M1211 1853h0M1537 1508h0M1321 1854h0M1428 1857h0M1511 1842h0M1547 1772h0M1276 1749h0M1347 1723h0M1354 1816h0M1533 1733h0M1479 1776h0M1531 1643h0M1392 1690h0M1293 1698h0M1361 1864h0M1545 1624h0M1272 1866h0M1284 1866h0M1382 1748h0M1531 1579h0M1328 1772h0M1198 1863h0M1426 1867h0M1547 1641h0M1251 1865h0M1425 1748h0M1270 1829h0M1246 1835h0M1526 1846h0M1345 1867h0M1462 1785h0M1393 1754h0M1490 1785h0M1498 1439h0M1421 1579h0M1404 1862h0M1548 1759h0M1538 1759h0M1400 1858h0M1249 1785h0M1535 1728h0M1375 1798h0M1370 1641h0M1509 1794h0M1478 1583h0M1486 1828h0M1502 1790h0M1482 1839h0M1482 1643h0M1447 1796h0M1449 1862h0M1538 1788h0M1466 1852h0M1286 1832h0M1488 1649h0M1529 1825h0M1511 1863h0M1339 1841h0M1518 1809h0M1230 1759h0M1499 1804h0M1395 1854h0M1397 1832h0M1209 1825h0M1350 1854h0M1527 1816h0M1516 1828h0M1201 1857h0M1502 1821h0M1489 1833h0M1404 1659h0M1299 1576h0M1398 1841h0M1218 1854h0M1465 1651h0M1511 1769h0M1442 1684h0M1419 1668h0M1431 1800h0M1522 1711h0M1412 1753h0M1471 1708h0M1250 1866h0M1489 1865h0M1473 1743h0M1502 1866h0M1498 1773h0M1548 1644h0M1268 1827h0M1166 1789h0M1344 1853h0M1527 1792h0M1421 1844h0M1529 1657h0M1342 1867h0M1468 1810h0M1455 1832h0M1518 1628h0M1471 1841h0M1467 1782h0M1374 1722h0M1358 1725h0M1478 1631h0M1433 1866h0M1428 1866h0M1528 1765h0M1291 1814h0M1518 1739h0M1495 1855h0M1524 1627h0M1309 1865h0M1515 1548h0M1492 1643h0M1499 1674h0M1360 1792h0M1372 1862h0M1536 1663h0M1272 1719h0M1407 1832h0M1488 1786h0M1233 1807h0M1426 1864h0M1522 1625h0M1548 1526h0M1358 1743h0M1459 1865h0M1453 1773h0M1468 1862h0M1349 1714h0M1480 1568h0M1505 1866h0M1436 1725h0M1291 1852h0M1217 1866h0M1470 1772h0M1441 1799h0M1236 1865h0M1476 1829h0M1492 1859h0M1541 1661h0M1531 1796h0M1467 1809h0M1281 1826h0M1395 1828h0M1307 1857h0M1529 1640h0M1188 1751h0M1516 1733h0M1324 1862h0M1345 1834h0M1464 1657h0M1227 1861h0M1479 1731h0M1212 1836h0M1546 1755h0M1498 1835h0M1519 1627h0M1182 1767h0M1415 1852h0M1506 1861h0M1384 1858h0M1318 1685h0M1538 1800h0M1514 1708h0M1487 1761h0M1491 1865h0M1387 1648h0M1494 1862h0M1522 1437h0M1508 1688h0M1478 1683h0M1515 1842h0M1544 1606h0M1248 1597h0M1339 1856h0M1303 1857h0M1457 1743h0M1502 1697h0M1517 1617h0M1494 1865h0M1524 1766h0M1499 1867h0M1188 1830h0M1421 1814h0M1380 1838h0M1525 1843h0M1230 1814h0M1432 1700h0M1252 1867h0M1521 1846h0M1492 1852h0M1482 1825h0M1460 1544h0M1547 1665h0M1279 1867h0M1288 1648h0M1519 1832h0M1238 1778h0M1463 1638h0M1433 1578h0M1492 1828h0M1465 1648h0M1459 1615h0M1209 1829h0M1472 1716h0M1533 1705h0M1197 1866h0M1501 1861h0M1475 1826h0M1509 1845h0M1511 1784h0M1422 1522h0M1518 1826h0M1544 1728h0M1352 1795h0M1522 1833h0M1264 1754h0M1279 1862h0M1368 1847h0M1403 1434h0M1296 1712h0M1303 1833h0M1243 1847h0M1404 1605h0M1307 1830h0M1524 1695h0M1370 1737h0M1446 1750h0M1510 1830h0M1343 1867h0M1522 1832h0M1524 1850h0M1470 1744h0M1418 1864h0M1366 1657h0M1487 1704h0M1409 1502h0M1383 1716h0M1387 1689h0M1467 1748h0M1534 1834h0M1215 1845h0M1526 1772h0M1413 1849h0M1525 1667h0M1272 1780h0M1460 1653h0M1508 1750h0M1531 1725h0M1500 1846h0M1216 1806h0M1349 1856h0M1234 1759h0M1518 1729h0M1219 1857h0M1157 1848h0M1350 1824h0M1382 1792h0M1524 1785h0M1195 1867h0M1461 1866h0M1486 1774h0M1412 1781h0M1322 1674h0M1518 1560h0M1547 1800h0M1260 1800h0M1501 1835h0M1298 1853h0M1301 1820h0M1430 1740h0M1303 1811h0M1500 1476h0M1542 1715h0M1503 1855h0M1187 1837h0M1486 1833h0M1280 1709h0M1365 1860h0M1390 1714h0M1438 1864h0M1274 1833h0M1547 1682h0M1449 1863h0M1244 1834h0M1311 1867h0M1535 1609h0M1546 1710h0M1404 1695h0M1260 1861h0M1523 1806h0M1201 1847h0M1218 1831h0M1532 1750h0M1309 1716h0M1403 1782h0M1255 1838h0M1477 1732h0M1431 1733h0M1207 1855h0M1490 1806h0M1266 1814h0M1213 1783h0M1324 1745h0M1199 1803h0M1507 1866h0M1539 1736h0M1539 1622h0M1511 1602h0M1502 1687h0M1280 1865h0M1515 1631h0M1153 1835h0M1521 1758h0M1479 1865h0M1207 1860h0M1410 1730h0M1192 1828h0M1440 1758h0M1537 1831h0M1506 1667h0M1239 1856h0M1511 1764h0M1247 1820h0M1464 1823h0M1482 1640h0M1506 1635h0M1491 1867h0M1526 1647h0M1291 1648h0M1501 1842h0M1386 1865h0M1432 1517h0M1539 1664h0M1526 1845h0M1418 1854h0M1532 1836h0M1513 1645h0M1486 1864h0M1369 1837h0M1468 1593h0M1466 1790h0M1540 1624h0M1498 1589h0M1313 1713h0M1187 1838h0M1528 1811h0M1498 1711h0M1337 1867h0M1498 1849h0M1544 1765h0M1491 1735h0M1365 1866h0M1188 1865h0M1246 1744h0M1497 1704h0M1290 1852h0M1416 1818h0M1505 1626h0M1522 1659h0M1518 1845h0M1179 1820h0M1277 1813h0M1492 1861h0M1236 1712h0M1490 1853h0M1214 1803h0M1258 1691h0M1504 1695h0M1339 1810h0M1245 1785h0M1355 1739h0M1321 1858h0M1404 1767h0M1447 1866h0M1195 1866h0M1441 1865h0M1250 1863h0M1325 1864h0M1216 1847h0M1508 1866h0M1508 1656h0M1478 1864h0M1465 1859h0M1507 1865h0M1538 1712h0M1221 1857h0M1308 1843h0M1251 1675h0M1291 1795h0M1463 1808h0M1508 1852h0M1460 1755h0M1268 1733h0M1508 1829h0M1509 1852h0M1521 1854h0M1431 1858h0M1509 1621h0M1542 1801h0M1463 1546h0M1495 1853h0M1306 1633h0M1322 1645h0M1415 1756h0M1191 1866h0M1522 1762h0M1342 1801h0M1502 1851h0M1251 1724h0M1263 1818h0M1522 1851h0M1477 1822h0M1532 1654h0M1543 1608h0M1415 1659h0M1240 1857h0M1357 1483h0M1421 1686h0M1519 1793h0M1249 1809h0M1477 1649h0M1480 1865h0M1474 1738h0M1341 1839h0M1465 1866h0M1508 1805h0M1494 1867h0M1489 1616h0M1515 1815h0M1509 1818h0M1534 1711h0M1392 1728h0M1256 1861h0M1346 1863h0M1476 1524h0M1390 1822h0M1288 1867h0M1495 1830h0M1544 1663h0M1488 1732h0M1544 1696h0M1363 1717h0M1480 1660h0M1478 1867h0M1467 1847h0M1218 1864h0M1499 1853h0M1346 1660h0M1190 1818h0M1525 1834h0M1372 1815h0M1342 1866h0M1280 1805h0M1499 1694h0M1505 1800h0M1297 1812h0M1205 1831h0M1404 1854h0M1498 1865h0M1299 1753h0M1477 1759h0M1332 1831h0M1467 1867h0M1504 1844h0M1488 1764h0M1516 1839h0M1343 1856h0M1513 1723h0M1528 1839h0M1504 1764h0M1230 1838h0M1272 1544h0M1442 1863h0M1462 1832h0M1503 1701h0M1242 1848h0M1452 1750h0M1319 1823h0M1502 1829h0M1434 1643h0M1484 1811h0M1505 1862h0M1484 1866h0M1510 1814h0M1228 1866h0M1507 1843h0M1261 1866h0M1281 1755h0M1284 1771h0M1424 1863h0M1333 1659h0M1343 1700h0M1535 1603h0M1481 1809h0M1300 1686h0M1520 1850h0M1341 1662h0M1270 1851h0M1286 1848h0M1296 1749h0M1481 1622h0M1376 1713h0M1346 1837h0M1388 1864h0M1323 1834h0M1487 1712h0M1334 1735h0M1547 1700h0M1520 1745h0M1402 1863h0M1468 1687h0M1385 1699h0M1531 1614h0M1508 1748h0M1203 1845h0M1439 1709h0M1382 1865h0M1376 1722h0M1323 1866h0M1508 1808h0M1412 1642h0M1367 1687h0M1446 1727h0M1368 1793h0M1242 1781h0M1464 1821h0M1515 1855h0M1394 1522h0M1254 1867h0M1478 1728h0M1426 1797h0M1521 1831h0M1320 1743h0M1317 1679h0M1428 1739h0M1527 1841h0M1506 1784h0M1460 1862h0M1543 1520h0M1517 1633h0M1470 1665h0M1393 1857h0M1192 1820h0M1534 1530h0M1499 1861h0M1518 1765h0M1343 1830h0M1164 1831h0M1509 1849h0M1464 1771h0M1535 1768h0M1504 1726h0M1502 1673h0M1538 1609h0M1432 1866h0M1488 1567h0M1512 1856h0M1279 1806h0M1364 1856h0M1228 1857h0M1461 1806h0M1431 1556h0M1268 1866h0M1500 1553h0M1389 1838h0M1498 1861h0M1481 1867h0M1505 1757h0M1537 1813h0M1362 1769h0M1507 1583h0M1395 1718h0M1478 1836h0M1541 1820h0M1293 1729h0M1518 1838h0M1450 1833h0M1533 1786h0M1539 1801h0M1379 1782h0M1515 1828h0M1405 1664h0M1468 1838h0M1521 1732h0M1191 1867h0M1519 1852h0M1209 1823h0M1504 1618h0M1470 1865h0M1498 1856h0M1482 1865h0M1510 1600h0M1191 1844h0M1246 1863h0M1482 1613h0M1392 1584h0M1407 1854h0M1545 1492h0M1288 1863h0M1388 1866h0M1466 1867h0M1431 1782h0M1437 1774h0M1381 1661h0M1527 1777h0M1266 1845h0M1498 1690h0M1484 1867h0M1418 1786h0M1505 1611h0M1543 1757h0M1371 1851h0M1535 1688h0M1521 1494h0M1372 1851h0M1482 1668h0M1455 1643h0M1226 1633h0M1271 1817h0M1535 1814h0M1539 1692h0M1240 1866h0M1529 1716h0M1341 1779h0M1236 1806h0M1314 1853h0M1397 1654h0M1548 1771h0M1519 1808h0M1528 1609h0M1447 1721h0M1268 1867h0M1547 1707h0M1259 1847h0M1450 1678h0M1533 1805h0M1445 1729h0M1384 1624h0M1262 1865h0M1295 1847h0M1280 1831h0M1515 1633h0M1319 1795h0M1545 1751h0M1467 1815h0M1237 1791h0M1496 1852h0M1442 1627h0M1538 1732h0M1471 1860h0M1263 1832h0M1347 1802h0M1546 1768h0M1544 1780h0M1369 1858h0M1254 1812h0M1473 1499h0M1393 1539h0M1469 1747h0M1392 1846h0M1544 1591h0M1524 1734h0M1538 1497h0M1424 1589h0M1474 1821h0M1534 1671h0M1187 1864h0M1523 1620h0M1347 1810h0M1374 1598h0M1499 1677h0M1546 1704h0M1348 1839h0M1492 1400h0M1547 1742h0M1279 1819h0M1391 1852h0M1266 1864h0M1478 1860h0M1461 1784h0M1418 1867h0M1210 1862h0M1511 1677h0M1332 1821h0M1405 1724h0M1320 1733h0M1437 1647h0M1226 1866h0M1490 1841h0M1463 1586h0M1274 1851h0M1536 1814h0M1282 1865h0M1500 1860h0M1210 1858h0M1239 1805h0M1462 1748h0M1516 1853h0M1304 1782h0M1510 1846h0M1320 1776h0M1426 1866h0M1469 1429h0M1238 1839h0M1301 1823h0M1519 1620h0M1505 1861h0M1256 1799h0M1476 1597h0M1503 1864h0M1373 1790h0M1504 1733h0M1395 1849h0M1505 1755h0M1275 1787h0M1248 1807h0M1157 1844h0M1530 1559h0M1535 1651h0M1478 1508h0M1509 1856h0M1452 1831h0M1462 1854h0M1352 1812h0M1421 1858h0M1467 1709h0M1500 1793h0M1399 1828h0M1501 1803h0M1506 1810h0M1391 1837h0M1510 1855h0M1327 1782h0M1495 1735h0M1349 1839h0M1196 1734h0M1494 1461h0M1324 1865h0M1517 1800h0M1396 1810h0M1502 1668h0M1529 1816h0M1369 1631h0M1276 1733h0M1526 1660h0M1496 1856h0M1399 1671h0M1431 1776h0M1341 1835h0M1401 1834h0M1511 1738h0M1485 1867h0M1495 1843h0M1305 1717h0M1327 1802h0M1373 1843h0M1489 1796h0M1253 1854h0M1419 1663h0M1248 1717h0M1527 1769h0M1400 1714h0M1519 1697h0M1450 1605h0M1402 1773h0M1514 1783h0M1405 1864h0M1343 1826h0M1545 1805h0M1152 1846h0M1396 1805h0M1357 1808h0M1546 1791h0M1457 1672h0M1311 1843h0M1380 1794h0M1355 1667h0M1397 1764h0M1467 1838h0M1525 1817h0M1492 1813h0M1414 1712h0M1439 1831h0M1506 1854h0M1543 1734h0M1459 1857h0M1287 1787h0M1342 1863h0M1483 1797h0M1369 1863h0M1452 1862h0M1367 1800h0M1483 1779h0M1320 1734h0M1473 1832h0M1435 1468h0M1490 1765h0M1196 1593h0M1505 1668h0M1289 1821h0M1188 1856h0M1523 1786h0M1528 1636h0M1382 1841h0M1215 1832h0M1252 1855h0M1352 1689h0M1529 1542h0M1517 1625h0M1232 1833h0M1482 1862h0M1499 1697h0M1439 1631h0M1353 1716h0M1337 1835h0M1321 1691h0M1396 1807h0M1193 1834h0M1516 1854h0M1506 1821h0M1465 1643h0M1447 1706h0M1303 1845h0M1520 1846h0M1487 1828h0M1476 1816h0M1151 1843h0M1523 1764h0M1485 1703h0M1359 1731h0M1495 1815h0M1494 1583h0M1238 1836h0M1271 1753h0M1406 1859h0M1476 1806h0M1468 1799h0M1524 1621h0M1304 1761h0M1474 1854h0M1515 1718h0M1324 1785h0M1398 1866h0M1506 1866h0M1227 1866h0M1455 1843h0M1442 1706h0M1504 1853h0M1173 1858h0M1499 1594h0M1311 1760h0M1417 1580h0M1369 1664h0M1463 1816h0M1512 1804h0M1290 1733h0M1415 1789h0M1441 1852h0M1472 1865h0M1396 1638h0M1187 1844h0M1510 1862h0M1502 1856h0M1488 1749h0M1191 1861h0M1479 1863h0M1494 1696h0M1365 1721h0M1248 1866h0M1540 1715h0M1396 1830h0M1461 1863h0M1465 1618h0M1403 1854h0M1544 1745h0M1523 1705h0M1352 1867h0M1435 1857h0M1431 1848h0M1273 1839h0M1512 1851h0M1419 1818h0M1537 1768h0M1502 1631h0M1244 1802h0M1190 1866h0M1447 1861h0M1320 1866h0M1301 1864h0M1521 1849h0M1332 1867h0M1508 1618h0M1415 1682h0M1238 1809h0M1478 1846h0M1459 1817h0M1350 1866h0M1518 1852h0M1248 1833h0M1503 1820h0M1533 1590h0M1533 1430h0M1342 1789h0M1307 1587h0M1288 1804h0M1301 1777h0M1235 1866h0M1448 1744h0M1201 1802h0M1407 1833h0M1499 1751h0M1413 1801h0M1297 1494h0M1514 1540h0M1524 1710h0M1503 1451h0M1531 1689h0M1448 1832h0M1517 1666h0M1494 1860h0M1474 1837h0M1321 1846h0M1526 1847h0M1409 1820h0M1402 1687h0M1324 1867h0M1237 1827h0M1461 1845h0M1545 1581h0M1532 1660h0M1191 1830h0M1499 1685h0M1274 1856h0M1411 1743h0M1475 1761h0M1480 1689h0M1473 1636h0M1397 1840h0M1501 1503h0M1492 1469h0M1434 1719h0M1371 1780h0M1519 1735h0M1504 1862h0M1379 1430h0M1434 1765h0M1287 1692h0M1222 1867h0M1451 1629h0M1418 1715h0M1477 1842h0M1456 1757h0M1461 1770h0M1535 1834h0M1234 1847h0M1524 1602h0M1524 1771h0M1187 1862h0M1484 1787h0M1400 1828h0M1239 1789h0M1480 1770h0M1529 1478h0M1202 1835h0M1351 1719h0M1533 1771h0M1401 1727h0M1483 1787h0M1539 1625h0M1441 1730h0M1544 1800h0M1487 1732h0M1505 1837h0M1211 1867h0M1489 1852h0M1402 1747h0M1466 1839h0M1477 1472h0M1542 1790h0M1404 1710h0M1288 1767h0M1518 1846h0M1540 1662h0M1410 1655h0M1214 1865h0M1260 1796h0M1476 1694h0M1462 1689h0M1521 1617h0M1480 1867h0M1522 1700h0M1513 1672h0M1546 1663h0M1537 1732h0M1497 1779h0M1351 1803h0M1261 1753h0M1333 1775h0M1252 1787h0M1366 1849h0M1513 1681h0M1278 1848h0M1488 1866h0M1232 1866h0M1336 1710h0M1416 1867h0M1382 1722h0M1502 1789h0M1499 1826h0M1359 1746h0M1314 1852h0M1528 1801h0M1402 1653h0M1436 1676h0M1341 1865h0M1461 1861h0M1427 1558h0M1403 1674h0M1400 1769h0M1508 1746h0M1434 1653h0M1535 1801h0M1544 1619h0M1488 1821h0M1547 1656h0M1521 1672h0M1314 1826h0M1417 1707h0M1506 1601h0M1319 1834h0M1475 1627h0M1217 1836h0M1435 1569h0M1388 1860h0M1540 1781h0M1424 1842h0M1457 1614h0M1473 1866h0M1277 1770h0M1532 1692h0M1432 1794h0M1201 1836h0M1497 1635h0M1498 1866h0M1454 1725h0M1485 1813h0M1327 1861h0M1520 1722h0M1386 1784h0M1491 1781h0M1298 1588h0M1467 1864h0M1379 1703h0M1187 1825h0M1326 1849h0M1504 1707h0M1475 1606h0M1401 1625h0M1530 1782h0M1406 1843h0M1310 1811h0M1317 1867h0M1343 1744h0M1487 1721h0M1494 1789h0M1480 1857h0M1368 1865h0M1386 1789h0M1287 1865h0M1531 1562h0M1509 1779h0M1341 1464h0M1187 1860h0M1304 1722h0M1192 1861h0M1313 1842h0M1251 1859h0M1476 1842h0M1465 1728h0M1384 1721h0M1472 1838h0M1261 1814h0M1237 1774h0M1196 1863h0M1467 1834h0M1485 1605h0M1296 1867h0M1350 1862h0M1466 1699h0M1235 1781h0M1256 1785h0M1446 1578h0M1410 1591h0M1508 1855h0M1541 1658h0M1513 1766h0M1238 1744h0M1515 1839h0M1497 1712h0M1201 1757h0M1518 1681h0M1363 1867h0M1455 1673h0M1495 1606h0M1542 1574h0M1500 1766h0M1479 1847h0M1194 1863h0M1200 1798h0M1507 1861h0M1534 1769h0M1259 1740h0M1156 1848h0M1548 1600h0M1457 1862h0M1463 1863h0M1524 1847h0M1441 1783h0M1532 1791h0M1504 1867h0M1369 1828h0M1197 1852h0M1531 1714h0M1511 1718h0M1309 1802h0M1514 1834h0M1522 1596h0M1504 1751h0M1514 1778h0M1537 1742h0M1478 1713h0M1475 1818h0M1422 1788h0M1393 1824h0M1398 1624h0M1189 1858h0M1435 1832h0M1331 1713h0M1540 1804h0M1374 1685h0M1499 1806h0M1405 1712h0M1499 1863h0M1546 1805h0M1268 1787h0M1217 1827h0M1447 1640h0M1483 1773h0M1422 1650h0M1506 1853h0M1383 1843h0M1431 1859h0M1504 1620h0M1542 1760h0M1245 1817h0M1254 1863h0M1366 1685h0M1463 1776h0M1351 1862h0M1344 1693h0M1282 1864h0M1314 1838h0M1511 1804h0M1410 1666h0M1424 1851h0M1546 1731h0M1532 1727h0M1441 1856h0M1289 1789h0M1469 1732h0M1428 1850h0M1312 1810h0M1376 1848h0M1353 1731h0M1516 1647h0M1281 1822h0M1521 1815h0M1333 1538h0M1383 1643h0M1341 1864h0M1490 1651h0M1361 1858h0M1519 1504h0M1496 1847h0M1229 1759h0M1482 1858h0M1429 1595h0M1281 1797h0M1462 1665h0M1245 1860h0M1463 1786h0M1505 1806h0M1371 1785h0M1494 1864h0M1499 1860h0M1372 1861h0M1413 1830h0M1470 1824h0M1518 1836h0M1539 1621h0M1512 1693h0M1475 1850h0M1236 1855h0M1415 1865h0M1501 1692h0M1493 1861h0M1274 1834h0M1463 1660h0M1389 1829h0M1528 1779h0M1393 1681h0M1509 1865h0M1544 1676h0M1416 1865h0M1497 1862h0M1488 1736h0M1506 1867h0M1514 1788h0M1513 1789h0M1534 1821h0M1450 1626h0M1515 1841h0M1506 1690h0M1394 1755h0M1436 1700h0M1466 1601h0M1534 1798h0M1526 1835h0M1222 1857h0M1344 1866h0M1535 1777h0M1433 1774h0M1385 1442h0M1254 1865h0M1422 1469h0M1522 1853h0M1350 1807h0M1363 1797h0M1479 1721h0M1497 1806h0M1443 1867h0M1444 1858h0M1527 1659h0M1507 1585h0M1166 1849h0M1480 1675h0M1381 1842h0M1365 1658h0M1478 1866h0M1469 1609h0M1502 1827h0M1467 1584h0M1193 1787h0M1472 1778h0M1540 1451h0M1341 1867h0M1419 1599h0M1501 1865h0M1537 1727h0M1386 1866h0M1523 1805h0M1545 1784h0M1350 1659h0M1506 1670h0M1416 1688h0M1304 1867h0M1468 1861h0M1341 1712h0M1427 1779h0M1243 1843h0M1524 1838h0M1279 1789h0M1374 1859h0M1239 1842h0M1537 1706h0M1494 1863h0M1482 1807h0M1447 1770h0M1423 1813h0M1470 1603h0M1471 1854h0M1486 1850h0M1498 1556h0M1540 1743h0M1529 1833h0M1523 1840h0M1508 1626h0M1494 1866h0M1198 1867h0M1465 1856h0M1527 1604h0M1391 1798h0M1338 1706h0M1482 1864h0M1514 1790h0M1422 1620h0M1537 1710h0M1523 1754h0M1369 1676h0M1467 1836h0M1387 1643h0M1501 1867h0M1245 1782h0M1512 1863h0M1233 1789h0M1463 1672h0M1251 1867h0M1546 1693h0M1518 1592h0M1513 1606h0M1226 1862h0M1375 1644h0M1211 1866h0M1548 1723h0M1464 1837h0M1418 1744h0M1507 1821h0M1473 1865h0M1368 1867h0M1503 1762h0M1309 1741h0M1484 1781h0M1409 1862h0M1528 1618h0M1286 1824h0M1210 1843h0M1451 1780h0M1487 1699h0M1395 1638h0M1457 1849h0M1403 1867h0M1343 1845h0M1419 1841h0M1190 1837h0M1457 1853h0M1533 1795h0M1472 1840h0M1484 1760h0M1188 1826h0M1535 1696h0M1286 1860h0M1527 1669h0M1402 1607h0M1475 1852h0M1403 1713h0M1294 1854h0M1488 1792h0M1509 1855h0M1222 1789h0M1491 1854h0M1234 1826h0M1225 1861h0M1542 1815h0M1468 1607h0M1487 1409h0M1511 1777h0M1431 1711h0M1319 1821h0M1425 1734h0M1547 1472h0M1345 1815h0M1538 1830h0M1446 1842h0M1241 1866h0M1286 1847h0M1460 1827h0M1260 1822h0M1533 1831h0M1508 1690h0M1163 1850h0M1396 1832h0M1544 1770h0M1544 1764h0M1474 1867h0M1467 1866h0M1508 1752h0M1355 1837h0M1351 1856h0M1348 1661h0M1248 1783h0M1221 1807h0M1502 1863h0M1532 1676h0M1446 1808h0M1342 1815h0M1204 1810h0M1475 1861h0M1451 1864h0M1345 1756h0M1462 1671h0M1480 1866h0M1281 1864h0M1463 1811h0M1446 1733h0M1468 1682h0M1540 1585h0M1217 1849h0M1341 1696h0M1264 1730h0M1464 1858h0M1353 1649h0M1482 1715h0M1423 1855h0M1222 1774h0M1389 1867h0M1476 1838h0M1206 1836h0M1544 1456h0M1254 1787h0M1447 1526h0M1250 1865h0M1180 1814h0M1344 1708h0M1245 1763h0M1473 1867h0M1481 1706h0M1464 1854h0M1490 1864h0M1339 1805h0M1390 1553h0M1331 1720h0M1396 1787h0M1505 1857h0M1373 1751h0M1190 1862h0M1480 1808h0M1486 1849h0M1512 1832h0M1340 1698h0M1495 1866h0M1192 1840h0M1381 1759h0M1278 1769h0M1496 1864h0M1488 1634h0M1471 1808h0M1464 1810h0M1503 1867h0M1303 1820h0M1448 1715h0M1229 1814h0M1479 1799h0M1198 1821h0M1480 1863h0M1497 1859h0M1538 1746h0M1519 1806h0M1486 1861h0M1501 1866h0M1472 1516h0M1530 1772h0M1292 1863h0M1443 1755h0M1489 1706h0M1221 1838h0M1287 1631h0M1517 1836h0M1502 1846h0M1421 1854h0M1276 1799h0M1215 1782h0M1347 1847h0M1228 1786h0M1514 1728h0M1484 1747h0M1465 1739h0M1257 1765h0M1474 1732h0M1457 1787h0M1548 1742h0M1277 1854h0M1518 1764h0M1508 1673h0M1469 1679h0M1340 1840h0M1222 1821h0M1455 1664h0M1217 1823h0M1467 1849h0M1320 1845h0M1540 1594h0M1351 1865h0M1392 1807h0M1536 1829h0M1539 1660h0M1527 1609h0M1489 1818h0M1482 1663h0M1489 1866h0M1222 1854h0M1447 1596h0M1487 1781h0M1544 1685h0M1542 1780h0M1522 1755h0M1494 1836h0M1375 1727h0M1358 1645h0M1212 1867h0M1514 1823h0M1467 1816h0M1441 1588h0M1465 1862h0M1269 1771h0M1427 1644h0M1263 1867h0M1490 1849h0M1422 1819h0M1420 1799h0M1353 1638h0M1260 1849h0M1504 1740h0M1394 1846h0M1428 1795h0M1353 1830h0M1501 1809h0M1472 1753h0M1269 1862h0M1492 1641h0M1327 1860h0M1267 1817h0M1339 1772h0M1425 1758h0M1431 1833h0M1542 1748h0M1230 1786h0M1398 1804h0M1339 1864h0M1497 1615h0M1544 1607h0M1477 1862h0M1530 1757h0M1429 1862h0M1470 1863h0M1529 1647h0M1360 1850h0M1523 1748h0M1471 1865h0M1454 1691h0M1307 1850h0M1518 1754h0M1196 1835h0M1459 1808h0M1541 1777h0M1421 1867h0M1531 1832h0M1355 1676h0M1524 1763h0M1507 1778h0M1490 1599h0M1492 1867h0M1543 1652h0M1200 1851h0M1316 1866h0M1476 1735h0M1287 1804h0M1502 1569h0M1496 1647h0M1522 1765h0M1344 1669h0M1542 1670h0M1495 1690h0M1438 1704h0M1491 1658h0M1196 1853h0M1236 1866h0M1492 1862h0M1495 1769h0M1471 1541h0M1468 1822h0M1498 1735h0M1539 1782h0M1389 1865h0M1468 1667h0M1294 1755h0M1451 1858h0M1380 1745h0M1435 1674h0M1408 1855h0M1452 1833h0M1273 1826h0M1200 1849h0M1288 1731h0M1433 1775h0M1246 1812h0M1230 1857h0M1508 1636h0M1481 1858h0M1420 1812h0M1512 1760h0M1399 1799h0M1493 1674h0M1279 1752h0M1546 1602h0M1198 1788h0M1197 1865h0M1510 1863h0M1391 1815h0M1385 1810h0M1485 1859h0M1533 1787h0M1285 1859h0M1302 1848h0M1512 1675h0M1229 1839h0M1486 1735h0M1414 1782h0M1265 1784h0M1188 1850h0M1503 1804h0M1449 1866h0M1462 1775h0M1533 1644h0M1507 1782h0M1175 1716h0M1494 1640h0M1484 1685h0M1531 1722h0M1337 1770h0M1444 1700h0M1547 1518h0M1506 1823h0M1460 1855h0M1344 1716h0M1499 1795h0M1475 1867h0M1433 1599h0M1444 1850h0M1522 1686h0M1517 1848h0M1539 1808h0M1542 1732h0M1245 1858h0M1242 1859h0M1500 1856h0M1371 1866h0M1523 1771h0M1498 1863h0M1375 1795h0M1261 1835h0M1187 1855h0M1260 1865h0M1509 1839h0M1469 1517h0M1405 1605h0M1543 1815h0M1370 1691h0M1497 1597h0M1504 1667h0M1243 1789h0M1347 1833h0M1439 1778h0M1246 1757h0M1255 1753h0M1528 1413h0M1364 1853h0M1461 1850h0M1253 1866h0M1253 1779h0M1531 1681h0M1525 1841h0M1475 1866h0M1319 1758h0M1203 1837h0M1269 1799h0M1326 1858h0M1529 1730h0M1484 1654h0M1514 1769h0M1457 1792h0M1352 1857h0M1162 1820h0M1503 1795h0M1477 1810h0M1462 1661h0M1463 1744h0M1251 1854h0M1389 1847h0M1521 1827h0M1538 1752h0M1543 1643h0M1490 1861h0M1419 1813h0M1505 1634h0M1512 1829h0M1169 1850h0M1289 1864h0M1490 1850h0M1524 1648h0M1360 1760h0M1269 1617h0M1470 1846h0M1423 1608h0M1478 1613h0M1509 1710h0M1291 1867h0M1470 1858h0M1287 1763h0M1356 1640h0M1265 1771h0M1237 1832h0M1304 1859h0M1495 1860h0M1199 1863h0M1512 1736h0M1303 1793h0M1499 1673h0M1534 1789h0M1490 1752h0M1463 1803h0M1196 1856h0M1380 1856h0M1368 1690h0M1439 1863h0M1463 1705h0M1405 1642h0M1482 1835h0M1246 1846h0M1532 1703h0M1474 1862h0M1548 1762h0M1298 1780h0M1505 1849h0M1454 1759h0M1536 1694h0M1187 1850h0M1220 1824h0M1529 1793h0M1517 1642h0M1519 1854h0M1318 1771h0M1540 1603h0M1425 1867h0M1421 1863h0M1519 1842h0M1465 1867h0M1245 1846h0M1232 1851h0M1517 1858h0M1470 1473h0M1246 1850h0M1545 1760h0M1341 1809h0M1401 1865h0M1422 1576h0M1461 1692h0M1507 1726h0M1300 1845h0M1507 1653h0M1232 1561h0M1483 1627h0M1435 1867h0M1514 1698h0M1271 1825h0M1474 1582h0M1521 1497h0M1431 1811h0M1254 1856h0M1287 1845h0M1530 1636h0M1533 1809h0M1334 1847h0M1522 1752h0M1382 1799h0M1546 1550h0M1543 1526h0M1473 1700h0M1453 1644h0M1485 1785h0M1258 1867h0M1292 1660h0M1261 1867h0M1481 1854h0M1503 1801h0M1422 1836h0M1465 1604h0M1382 1714h0M1517 1797h0M1456 1627h0M1539 1796h0M1241 1834h0M1283 1867h0M1300 1691h0M1264 1775h0M1380 1867h0M1330 1723h0M1239 1772h0M1317 1856h0M1507 1862h0M1510 1609h0M1486 1794h0M1513 1839h0M1493 1592h0M1454 1721h0M1427 1753h0M1543 1764h0M1538 1620h0M1539 1606h0M1481 1771h0M1320 1761h0M1437 1787h0M1346 1704h0M1484 1686h0M1429 1819h0M1391 1682h0M1362 1857h0M1172 1829h0M1377 1523h0M1373 1705h0M1265 1839h0M1466 1866h0M1486 1736h0M1410 1867h0M1257 1824h0M1465 1794h0M1157 1812h0M1532 1743h0M1462 1680h0M1488 1496h0M1537 1672h0M1372 1725h0M1531 1822h0M1515 1785h0M1474 1836h0M1481 1828h0M1496 1830h0M1465 1680h0M1348 1834h0M1490 1605h0M1461 1822h0M1194 1847h0M1231 1674h0M1440 1851h0M1381 1860h0M1453 1783h0M1484 1750h0M1452 1637h0M1388 1855h0M1490 1681h0M1434 1804h0M1398 1752h0M1485 1847h0M1518 1842h0M1398 1428h0M1257 1863h0M1433 1750h0M1367 1825h0M1394 1644h0M1545 1746h0M1259 1755h0M1486 1859h0M1484 1720h0M1488 1867h0M1535 1828h0M1520 1555h0M1319 1629h0M1432 1732h0M1546 1653h0M1412 1708h0M1545 1722h0M1522 1609h0M1547 1612h0M1188 1833h0M1494 1802h0M1232 1802h0M1449 1698h0M1458 1805h0M1507 1836h0M1514 1740h0M1400 1654h0M1514 1832h0M1428 1867h0M1533 1581h0M1504 1710h0M1422 1683h0M1512 1854h0M1463 1804h0M1440 1521h0M1495 1858h0M1402 1790h0M1507 1739h0M1397 1809h0M1488 1575h0M1161 1840h0M1489 1651h0M1405 1586h0M1505 1831h0M1421 1838h0M1417 1866h0M1547 1775h0M1488 1708h0M1530 1796h0M1317 1728h0M1488 1755h0M1295 1845h0M1475 1788h0M1375 1742h0M1392 1734h0M1400 1696h0M1470 1741h0M1470 1867h0M1512 1819h0M1417 1695h0M1259 1853h0M1339 1865h0M1347 1679h0M1286 1844h0M1488 1745h0M1271 1816h0M1504 1866h0M1493 1632h0M1498 1821h0M1208 1857h0M1530 1704h0M1487 1796h0M1491 1824h0M1524 1820h0M1496 1564h0M1428 1856h0M1389 1859h0M1511 1540h0M1519 1446h0M1474 1503h0M1483 1472h0M1527 1551h0M1488 1537h0M1498 1420h0M1540 1442h0M1504 1509h0M1485 1508h0M1545 1571h0M1504 1555h0M1538 1537h0M1512 1576h0M1528 1498h0M1535 1457h0M1531 1544h0M1490 1482h0M1462 1411h0M1513 1527h0M1468 1490h0M1533 1567h0M1471 1464h0M1511 1442h0M1506 1401h0M1540 1534h0M1516 1484h0M1509 1436h0M1529 1436h0M1490 1500h0M1517 1485h0M1531 1453h0M1523 1416h0M1464 1532h0M1480 1474h0M1487 1579h0M1476 1558h0M1516 1509h0M1510 1580h0M1515 1546h0M1470 1575h0M1478 1520h0M1480 1508h0M1480 1454h0M1498 1573h0M1546 1572h0M1525 1449h0M1512 1421h0M1478 1457h0M1542 1419h0M1539 1513h0M1514 1430h0M1503 1545h0M1458 1554h0M1500 1402h0M1528 1513h0M1472 1526h0M1494 1408h0M1507 1403h0M1492 1576h0M1542 1573h0M1534 1482h0M1494 1433h0M1507 1400h0M1518 1409h0M1544 1524h0M1528 1455h0M1525 1579h0M1528 1448h0M1484 1570h0M1466 1492h0M1548 1454h0M1507 1557h0M1507 1480h0M1539 1420h0M1498 1579h0M1526 1464h0M1525 1439h0M1536 1476h0M1537 1566h0M1545 1468h0M993 1705h0M1063 1736h0M1104 1625h0M1062 1574h0M1120 1522h0M1151 1847h0M1039 1822h0M1133 1777h0M1163 1577h0M1095 1611h0M1179 1847h0M1175 1840h0M1136 1681h0M1141 1635h0M1189 1612h0M1160 1661h0M1180 1846h0M1079 1776h0M1022 1817h0M1101 1686h0M1037 1797h0M1131 1817h0M1130 1719h0M1028 1654h0M1129 1789h0M1172 1759h0M1109 1843h0M999 1666h0M1059 1833h0M987 1552h0M1032 1828h0M1066 1678h0M1108 1479h0M1120 1827h0M1138 1638h0M972 1608h0M1087 1721h0M1004 1771h0M1149 1698h0M1027 1631h0M1025 1713h0M1189 1702h0M1099 1654h0M994 1782h0M1152 1773h0M1017 1691h0M1119 1622h0M1046 1662h0M1052 1723h0M1183 1615h0M1172 1786h0M1098 1664h0M1089 1761h0M1111 1819h0M1059 1726h0M1129 1668h0M1115 1834h0M1069 1817h0M1167 1727h0M1080 1645h0M1164 1497h0M1085 1562h0M1056 1738h0M1167 1641h0M1138 1773h0M1081 1689h0M1095 1643h0M990 1623h0M1031 1687h0M1041 1760h0M1126 1845h0M1058 1564h0M1050 1763h0M1145 1786h0M1107 1764h0M1151 1845h0M1074 1804h0M1083 1777h0M1027 1811h0M1176 1740h0M1115 1715h0M1172 1848h0M1033 1617h0M1152 1794h0M1141 1633h0M1020 1693h0M1176 1673h0M1000 1780h0M1142 1822h0M1053 1689h0M1177 1848h0M1161 1693h0M1104 1839h0M1041 1753h0M1172 1657h0M1187 1781h0M1113 1645h0M1016 1793h0M1081 1793h0M1023 1711h0M987 1791h0M1040 1774h0M1104 1805h0M1121 1804h0M1075 1640h0M1156 1844h0M1076 1681h0M1083 1836h0M1134 1833h0M1089 1745h0M1112 1734h0M1083 1629h0M1142 1726h0M1100 1646h0M1078 1815h0M1115 1633h0M1078 1633h0M1072 1627h0M1142 1641h0M1129 1657h0M1133 1796h0M1154 1795h0M1188 1706h0M1166 1782h0M1183 1608h0M1093 1836h0M1173 1635h0M1100 1833h0M1085 1718h0M1075 1637h0M1088 1839h0M1165 1768h0M955 1821h0M1174 1798h0M1101 1808h0M1134 1611h0M993 1820h0M1059 1835h0M1161 1685h0M1162 1851h0M1123 1614h0M1126 1660h0M1113 1748h0M1101 1701h0M1165 1853h0M1086 1823h0M1108 1738h0M1069 1691h0M1022 1736h0M1147 1615h0M1151 1783h0M1146 1697h0M1143 1623h0M1094 1689h0M1016 1713h0M1124 1763h0M1033 1681h0M1141 1844h0M1122 1690h0M1116 1545h0M1135 1662h0M1059 1691h0M1137 1747h0M1097 1704h0M1012 1555h0M1174 1694h0M1018 1744h0M1082 1801h0M1185 1808h0M1164 1691h0M1054 1751h0M1047 1493h0M1178 1854h0M1094 1734h0M1184 1604h0M1051 1831h0M1084 1788h0M1028 1637h0M1134 1767h0M1042 1683h0M1095 1733h0M1096 1729h0M1114 1787h0M1131 1658h0M1117 1729h0M1143 1829h0M1077 1838h0M1155 1757h0M1144 1833h0M1146 1647h0M1108 1529h0M1087 1761h0M1155 1691h0M1188 1752h0M1150 1730h0M1090 1481h0M1120 1832h0M1119 1756h0M1155 1693h0M1057 1672h0M957 1633h0M1046 1730h0M1150 1843h0M1042 1766h0M1154 1784h0M1124 1720h0M1134 1705h0M1012 1633h0M1178 1822h0M1149 1781h0M1142 1702h0M1039 1503h0M1093 1479h0M1072 1802h0M1104 1806h0M1148 1721h0M1087 1800h0M1102 1840h0M1169 1803h0M1180 1744h0M1012 1643h0M1163 1516h0M1042 1820h0M1135 1782h0M1145 1722h0M1089 1672h0M1028 1557h0M1093 1811h0M1012 1771h0M1119 1802h0M1021 1758h0M1017 1778h0M1042 1728h0M1156 1630h0M1144 1694h0M1093 1799h0M1170 1638h0M1165 1801h0M1090 1727h0M1046 1735h0M1116 1803h0M1131 1671h0M1171 1837h0M1145 1805h0M1047 1631h0M1074 1806h0M1099 1791h0M1126 1842h0M1004 1814h0M1173 1677h0M1003 1492h0M1124 1644h0M1093 1750h0M1145 1639h0M1110 1707h0M945 1723h0M1155 1849h0M1147 1652h0M1119 1743h0M1155 1620h0M974 1715h0M1139 1630h0M1033 1733h0M1074 1769h0M1172 1701h0M1120 1633h0M1049 1810h0M1143 1784h0M1003 1778h0M1116 1844h0M967 1510h0M990 1757h0M1165 1620h0M992 1811h0M1126 1582h0M1177 1621h0M1175 1678h0M1177 1782h0M1155 1632h0M1093 1818h0M1055 1742h0M1174 1644h0M1062 1824h0M1164 1498h0M1056 1677h0M1078 1541h0M1139 1835h0M1027 1808h0M1120 1812h0M1171 1854h0M934 1813h0M1118 1755h0M1129 1814h0M1165 1553h0M1180 1720h0M1115 1670h0M1022 1754h0M464 1662h0M539 1738h0M594 1789h0M624 1587h0M663 1606h0M644 1735h0M685 1759h0M720 1560h0M732 1639h0M769 1649h0M730 1717h0M737 1756h0M735 1783h0M775 1548h0M787 1727h0M811 1563h0M837 1556h0M842 1541h0M873 1548h0M836 1591h0M848 1592h0M870 1603h0M899 1588h0M832 1692h0M875 1674h0M885 1654h0M903 1651h0M918 1689h0M828 1726h0M853 1730h0M866 1743h0M878 1757h0M878 1777h0M842 1774h0M817 1794h0M828 1806h0M842 1814h0M828 1819h0M883 1802h0M903 1796h0M924 1799h0M913 1760h0M924 1743h0M930 1740h0M934 1511h0M892 1480h0M861 1470h0M954 1487h0M956 1595h0M956 1654h0M954 1720h0M954 1777h0M954 1804h0M537 1285h0" stroke="#1b6de0" stroke-width="26.6" stroke-linecap="round" fill="none"/>
<rect x="310.8" y="1206" width="1341.7" height="752.5" fill="none" stroke="#262626" stroke-width="2.8"/>
<path d="M310.8 1958.5v-22M459.7 1958.5v-11M608.6 1958.5v-22M757.5 1958.5v-11M906.4 1958.5v-22M1055.3 1958.5v-11M1204.2 1958.5v-22M1353.1 1958.5v-11M1502.0 1958.5v-22M1650.9 1958.5v-11M310.8 1958.5h21M310.8 1874.7h11M310.8 1790.8h21M310.8 1707.0h11M310.8 1623.1h21M310.8 1539.2h11M310.8 1455.4h21M310.8 1371.5h11M310.8 1287.7h21" stroke="#262626" stroke-width="2.4" fill="none"/>
<text x="310.8" y="2031" font-size="60" text-anchor="middle">4</text>
<text x="608.6" y="2031" font-size="60" text-anchor="middle">6</text>
<text x="906.4" y="2031" font-size="60" text-anchor="middle">8</text>
<text x="1204.2" y="2031" font-size="60" text-anchor="middle">10</text>
<text x="1502.0" y="2031" font-size="60" text-anchor="middle">12</text>
<text x="282" y="1978.0" font-size="60" text-anchor="end">0.0</text>
<text x="282" y="1810.3" font-size="60" text-anchor="end">0.1</text>
<text x="282" y="1642.6" font-size="60" text-anchor="end">0.2</text>
<text x="282" y="1474.9" font-size="60" text-anchor="end">0.3</text>
<text x="282" y="1307.2" font-size="60" text-anchor="end">0.4</text>
<text x="979.5" y="2137" font-size="68.5" text-anchor="middle">Average Torque (Nm)</text>
<text transform="translate(178.5,1581.5) rotate(-90)" font-size="68.5" text-anchor="middle">Torque Ripple Rate</text>
<rect x="614.6" y="1206" width="730.6" height="262.3" fill="#fff" stroke="#262626" stroke-width="2.8"/>
<circle cx="661.5" cy="1253.5" r="13.3" fill="#1b6de0"/>
<text x="716.5" y="1276" font-size="68.5">Conventional Method</text>
<circle cx="661.5" cy="1337.5" r="13.3" fill="#3aab6b"/>
<text x="716.5" y="1360" font-size="68.5">Proposed Method</text>
<circle cx="661.5" cy="1422" r="13.3" fill="#f04040"/>
<text x="716.5" y="1444" font-size="68.5">2D FEM</text>
<path d="M463 998h0M537 998h0M593 998h0M624 998h0M644 998h0M664 998h0M685 998h0M722 998H742M766 998H790M808 998H1089" stroke="#1b6de0" stroke-width="16" stroke-linecap="round" fill="none"/>
<path d="M783 1081H821M846 1081H876M896 1081H900M919 1081H949M972 1081H1050M1074 1081H1433" stroke="#3aab6b" stroke-width="16" stroke-linecap="round" fill="none"/>
<path d="M693 1164.5h0M825 1164.5h0M874 1164.5h0M881 1164.5h0M926 1164.5H967M1011 1164.5H1018M1042 1164.5H1283" stroke="#f04040" stroke-width="16" stroke-linecap="round" fill="none"/>
<g stroke="#1b6de0" stroke-width="2.2" fill="none"><path d="M1096 998H1340M1509 998H1551M1551 990V1006"/><rect x="1340" y="981.0" width="169" height="34" fill="#b3cbf2"/><path d="M1461 981.0V1015.0"/></g><circle cx="1413" cy="998" r="3.2" fill="#1b6de0"/>
<g stroke="#3aab6b" stroke-width="2.2" fill="none"><path d="M1440 1081H1514M1569 1081H1574M1574 1073V1089"/><rect x="1514" y="1064.0" width="55" height="34" fill="#bde2cb"/><path d="M1549 1064.0V1098.0"/></g><circle cx="1533" cy="1081" r="3.2" fill="#3aab6b"/>
<g stroke="#f04040" stroke-width="2.2" fill="none"><path d="M1290 1164.5H1446M1554 1164.5H1602M1602 1156.5V1172.5"/><rect x="1446" y="1147.5" width="108" height="34" fill="#fbc1c1"/><path d="M1510 1147.5V1181.5"/></g><circle cx="1465" cy="1164.5" r="3.2" fill="#f04040"/>
<path d="M1875 1298h0M1875 1286h0M1875 1388h0M1875 1362h0M1875 1310h0M1875 1360h0M1875 1384h0M1875 1318h0M1875 1392h0M1875 1352h0M1875 1324h0M1875 1306h0M1875 1348h0M1875 1334h0M1875 1346h0M1875 1290h0M1875 1382h0M1875 1294h0M1875 1394h0M1875 1320h0M1875 1396h0M1875 1300h0M1875 1314h0M1875 1296h0M1875 1364h0M1875 1358h0M1875 1336h0M1875 1282h0M1875 1322h0M1875 1366h0M1875 1350h0M1875 1316h0M1875 1354h0M1875 1376h0M1875 1304h0M1875 1356h0M1875 1332h0M1875 1340h0M1875 1328h0M1875 1372h0M1875 1380h0M1875 1288h0M1875 1386h0M1875 1342h0M1875 1338h0M1875 1326h0M1875 1280h0M1875 1330h0M1875 1312h0M1875 1344h0M1875 1378h0M1875 1370h0M1875 1308h0M1875 1284h0M1875 1374h0M1875 1292h0M1875 1302h0M1875 1390h0M1875 1368h0M1875 1278h0" stroke="#3aab6b" stroke-width="16" stroke-linecap="round" fill="none"/>
<path d="M2024.5 1538h0M2024.5 1456h0M2024.5 1450h0M2024.5 1412h0M2024.5 1522h0M2024.5 1460h0M2024.5 1516h0M2024.5 1422h0M2024.5 1472h0M2024.5 1484h0M2024.5 1432h0M2024.5 1488h0M2024.5 1406h0M2024.5 1498h0M2024.5 1512h0M2024.5 1424h0M2024.5 1492h0M2024.5 1476h0M2024.5 1506h0M2024.5 1530h0M2024.5 1540h0M2024.5 1528h0M2024.5 1510h0M2024.5 1504h0M2024.5 1532h0M2024.5 1496h0M2024.5 1508h0M2024.5 1440h0M2024.5 1526h0M2024.5 1436h0M2024.5 1434h0M2024.5 1502h0M2024.5 1524h0M2024.5 1520h0M2024.5 1494h0M2024.5 1400h0M2024.5 1430h0M2024.5 1462h0M2024.5 1468h0M2024.5 1452h0M2024.5 1470h0M2024.5 1478h0M2024.5 1464h0M2024.5 1442h0M2024.5 1408h0M2024.5 1518h0M2024.5 1414h0M2024.5 1474h0M2024.5 1428h0M2024.5 1446h0M2024.5 1420h0M2024.5 1482h0M2024.5 1410h0M2024.5 1490h0M2024.5 1534h0M2024.5 1500h0M2024.5 1416h0M2024.5 1454h0M2024.5 1402h0M2024.5 1514h0M2024.5 1448h0M2024.5 1480h0M2024.5 1286h0M2024.5 1260h0M2024.5 1342h0M2024.5 1536h0M2024.5 1486h0M2024.5 1466h0M2024.5 1458h0M2024.5 1444h0M2024.5 1438h0M2024.5 1426h0M2024.5 1418h0M2024.5 1404h0M2024.5 1398h0M2024.5 1396h0M2024.5 1394h0M2024.5 1392h0M2024.5 1390h0M2024.5 1388h0M2024.5 1386h0M2024.5 1384h0M2024.5 1382h0M2024.5 1380h0" stroke="#1b6de0" stroke-width="16" stroke-linecap="round" fill="none"/>
<g stroke="#f04040" stroke-width="2.2" fill="none"><path d="M1726 1364V1640M1726 1827.7V1888.7M1711 1364H1741M1711 1888.7H1741"/><rect x="1696.0" y="1640" width="60" height="187.70000000000005" fill="#fbc1c1"/><path d="M1696.0 1761H1756.0"/></g><circle cx="1726" cy="1730.7" r="3.2" fill="#f04040"/>
<g stroke="#3aab6b" stroke-width="2.2" fill="none"><path d="M1875.2 1393V1672.7M1875.2 1858.8V1866M1860.2 1393H1890.2M1860.2 1866H1890.2"/><rect x="1845.2" y="1672.7" width="60" height="186.0999999999999" fill="#bde2cb"/><path d="M1845.2 1833H1905.2"/></g><circle cx="1875.2" cy="1740" r="3.2" fill="#3aab6b"/>
<g stroke="#1b6de0" stroke-width="2.2" fill="none"><path d="M2024.4 1538V1728.6M2024.4 1855.9V1869.7M2009.4 1538H2039.4M2009.4 1869.7H2039.4"/><rect x="1994.4" y="1728.6" width="60" height="127.30000000000018" fill="#b3cbf2"/><path d="M1994.4 1820.6H2054.4"/></g><circle cx="2024.4" cy="1781" r="3.2" fill="#1b6de0"/>
</g>
</svg>
</body></html>
